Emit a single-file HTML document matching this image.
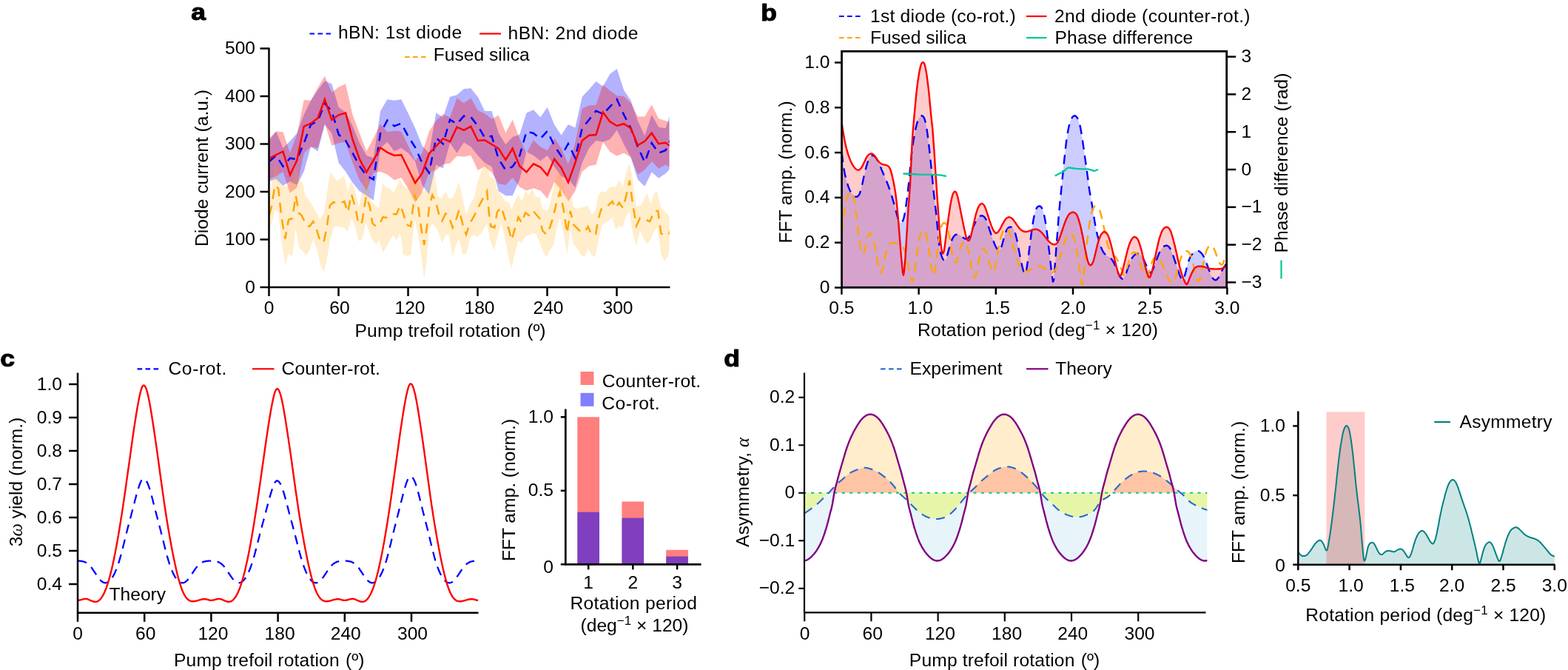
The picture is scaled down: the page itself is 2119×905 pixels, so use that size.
<!DOCTYPE html>
<html lang="en"><head><meta charset="utf-8"><title>Figure</title>
<style>html,body{margin:0;padding:0;background:#fff}svg{display:block}text{white-space:pre}</style></head>
<body>
<svg width="2119" height="905" viewBox="0 0 2119 905" font-family='"Liberation Sans", sans-serif' fill="#000">
<defs><clipPath id="ca"><rect x="363.5" y="40" width="541" height="348"/></clipPath><clipPath id="cb"><rect x="1137.5" y="69.3" width="520.2" height="319"/></clipPath><clipPath id="cc"><rect x="105" y="493.5" width="541.5" height="334.3"/></clipPath><clipPath id="cd"><rect x="1087.5" y="503.5" width="544" height="324.3"/></clipPath><clipPath id="cdp"><rect x="1087.5" y="503.5" width="544" height="162.3"/></clipPath><clipPath id="cdn"><rect x="1087.5" y="665.8" width="544" height="162"/></clipPath><clipPath id="ce"><rect x="1754.3" y="555.5" width="347.2" height="207.2"/></clipPath></defs>
<g id="panel-a">
<g clip-path="url(#ca)">
<polygon points="363.7,190 373.1,177.5 382.5,200 391.9,190.8 401.3,180 410.7,155 420.1,135.8 429.5,121.7 438.9,109.2 448.3,113.3 457.7,145 467.1,151.7 476.5,170 485.9,193.3 495.3,210 504.7,213.3 514.1,150 523.5,134.2 532.9,135.8 542.3,134.2 551.7,153.3 561.1,173.3 570.5,196.7 579.9,206.7 589.3,152.5 598.7,158.3 608.1,130.8 617.5,128.3 626.9,120 636.3,119.2 645.7,130.8 655.1,150 664.5,150 673.9,180 683.3,195 692.7,185 702.1,181.7 711.5,152.5 720.9,148.3 730.3,158.3 739.7,145 749.1,168.3 758.5,182.5 767.9,168 777.3,172.5 786.7,130.8 796.1,120.8 805.5,110 814.9,116.7 824.3,100 833.7,93 843.1,121.7 852.5,135.8 861.9,163.3 871.3,183.3 880.7,155 890.1,171.7 899.5,173.3 908.9,143.3 908.9,225 899.5,234.2 890.1,240.8 880.7,232.5 871.3,251.7 861.9,242.5 852.5,212.5 843.1,195 833.7,175.8 824.3,188.3 814.9,191.7 805.5,190 796.1,200 786.7,220 777.3,253.3 767.9,241.7 758.5,238.3 749.1,225 739.7,210 730.3,217.5 720.9,210 711.5,205 702.1,243.3 692.7,264.2 683.3,264.2 673.9,258.3 664.5,225 655.1,220 645.7,210 636.3,198.3 626.9,192.5 617.5,206.7 608.1,193.3 598.7,227.5 589.3,222.5 579.9,262.5 570.5,250 561.1,218.3 551.7,206.7 542.3,200 532.9,204.2 523.5,191.7 514.1,200 504.7,270.8 495.3,264.2 485.9,258.3 476.5,246.7 467.1,231.7 457.7,220 448.3,180 438.9,168.3 429.5,204.2 420.1,198.3 410.7,231.7 401.3,250 391.9,245 382.5,250.8 373.1,241.7 363.7,245" fill="#0000ff" fill-opacity="0.3" />
<polygon points="363.7,186.7 373.1,177.5 382.5,178.3 391.9,206.7 401.3,181.7 410.7,135 420.1,135.8 429.5,118.3 438.9,102.5 448.3,125 457.7,117.5 467.1,113.3 476.5,155 485.9,180 495.3,204.2 504.7,186.7 514.1,167.5 523.5,178.3 532.9,176.7 542.3,177.5 551.7,196.7 561.1,216.7 570.5,206.7 579.9,177.5 589.3,163.3 598.7,154.2 608.1,158.3 617.5,132.5 626.9,139.2 636.3,132.5 645.7,149.2 655.1,153.3 664.5,160.8 673.9,155.8 683.3,179.2 692.7,161.7 702.1,186.7 711.5,206.7 720.9,189.2 730.3,198.3 739.7,203.3 749.1,186.7 758.5,200 767.9,221.7 777.3,193.3 786.7,146.7 796.1,142.5 805.5,141.7 814.9,114.2 824.3,122.5 833.7,129.2 843.1,130 852.5,139.2 861.9,157.5 871.3,157.5 880.7,141.3 890.1,160 899.5,163.3 908.9,166.7 908.9,228.3 899.5,222.5 890.1,227.5 880.7,218.3 871.3,229.2 861.9,235.8 852.5,212.5 843.1,206.7 833.7,210.8 824.3,205 814.9,191.7 805.5,222.5 796.1,224.2 786.7,231.7 777.3,258.3 767.9,271.7 758.5,256.7 749.1,245.8 739.7,268.3 730.3,257.5 720.9,254.2 711.5,257.5 702.1,252.5 692.7,240 683.3,250 673.9,248.3 664.5,233.3 655.1,225 645.7,230 636.3,209.7 626.9,211.7 617.5,210.8 608.1,220.8 598.7,221.7 589.3,230 579.9,233.3 570.5,260 561.1,273.3 551.7,255 542.3,240 532.9,243.3 523.5,235.8 514.1,231.7 504.7,233.3 495.3,257.5 485.9,243.3 476.5,220 467.1,191.7 457.7,193.3 448.3,196.7 438.9,166.7 429.5,200 420.1,198.3 410.7,206.7 401.3,253.3 391.9,260.8 382.5,231.7 373.1,238.3 363.7,241.7" fill="#ff0000" fill-opacity="0.3" />
<polygon points="363.7,270 367.7,244.8 368.7,242.2 371.8,216.8 377.5,241.2 382.2,250.8 389.5,251.3 394.8,244.2 399.3,224.8 404.2,242.2 409.3,247.3 412.7,264.7 415,266.7 421.7,276.7 432.5,295.8 437.5,288.3 446.3,231.7 450.8,239.2 455.8,244.2 465,237.5 470,259.2 474.2,244.2 479.2,255 485,280 494.7,231.7 501.7,271.7 511.7,281.7 517.5,246.7 521.7,253.3 526.7,254.2 531.7,260 540.8,242.5 545,250 550,255 560.3,230 570,260 576.7,255 584.2,216.7 588.3,240 591.7,265 596.7,268.3 602.2,258.3 606.7,267.5 611.7,267.5 620.5,245.8 625,266.7 630,290.8 635.8,275 640.8,266.7 645,247.5 650.8,230 658,218.3 661.7,238.3 668.3,241.7 671.7,255 677.5,263.3 682.5,271.7 687.5,273.3 691.3,282.5 695.8,271.7 700.5,262.5 705,272.5 710,257.5 714.7,263.3 719.2,254.2 724.2,266.7 729.2,265.8 733.3,281.7 738.3,285 743.3,276.7 747.5,255 751.7,238.3 756.7,225 761.7,250 766.3,271.7 770.8,258.3 775,280 780,282 786.7,280 794.7,278 799.2,290 804.2,285.8 808.3,264.2 813.3,258.3 818.3,259.5 822.5,253.7 827.5,251.7 832,252.5 836.7,243 841.7,253.3 845.8,233.3 850.8,220 855,243.3 860,278.3 865,278.3 870,270 874.5,260.8 879.2,275 884.2,260.8 888.3,259.2 893.3,280.8 898.3,285 904.2,291.7 910,293.3 910,333.3 904.2,340 902.5,346.7 898,352.5 893.3,343.3 888.3,306.7 884.2,311.7 879.2,323.3 874.5,330.3 870,323.3 865,311.7 860,332.5 855,315 850.8,285 845.8,293.3 841.7,306.7 836.7,305 832,310 827.5,294.2 818.3,300.8 813.3,305 808.3,326.7 804.2,347.5 799.2,344.2 794.7,335.8 790,347.5 785,344.2 780.8,336.7 775,330 770.8,310 766.3,343.3 761.7,315 756.7,294.2 751.7,311.7 748.3,330 743.3,338.3 738.3,347.5 733.3,338.3 729.2,326.7 724.2,315.8 720,315 710,320 705,328 700.5,325.8 695.8,341.7 691.3,363.3 687.5,348.3 682.5,323.3 677.5,301.7 671.7,322.5 667.5,338.3 662.5,325 658,301.7 650.8,315 645,319.7 640,317.5 635,322.5 630,343.3 625,343.3 620.5,322.5 615.8,331.7 611.7,346.7 606.7,316.7 602.2,317.5 597.5,328.3 593.3,316.7 589.2,306.7 584.2,301.7 580,310 576.7,351.7 573.3,376.7 570,350 565,316.7 560.3,296.7 555,344.2 549.2,345.8 545,343.3 540.8,314.2 535.8,325 531.7,317.5 526.7,325 521.7,335 517.5,340.8 512.5,324.2 508.3,330 503.3,324.2 500,316.7 494.7,300.8 489.2,322.5 484.7,325.8 480,306.7 475,295 470,312.5 465,307.5 455.8,305.8 451.7,306.7 446.3,323.3 441.7,350.8 437.5,368 432.5,355.8 428.3,336.7 423.3,323.3 418.3,338.3 413.3,345 408.3,338.3 404.2,335 399.7,308.3 395,346.7 390,342.5 385.3,357.5 380,323.3 376.3,286.7 371.7,283.3 363.7,315" fill="#ffa500" fill-opacity="0.2" />
<polyline points="363.7,218.3 373.1,210 382.5,224.7 391.9,213.7 401.3,215.3 410.7,193.3 420.1,168.3 429.5,163.3 438.9,140 448.3,150 457.7,181.7 467.1,190 476.5,206.7 485.9,224.2 495.3,237.5 504.7,242.5 514.1,180 523.5,162.5 532.9,170.3 542.3,166.7 551.7,184.2 561.1,199.2 570.5,220 579.9,233.3 589.3,186.3 598.7,194.2 608.1,161.7 617.5,167.5 626.9,156.7 636.3,158 645.7,170 655.1,185.8 664.5,183.8 673.9,215 683.3,229.7 692.7,225 702.1,210.8 711.5,177.5 720.9,180 730.3,187.5 739.7,177 749.1,196.7 758.5,210.8 767.9,194.2 777.3,213.3 786.7,173.3 796.1,161.7 805.5,149.7 814.9,154.2 824.3,144.2 833.7,134.2 843.1,155 852.5,173.3 861.9,198.3 871.3,219.2 880.7,193.3 890.1,206.7 899.5,203 908.9,183.3" fill="none" stroke="#0000ff" stroke-width="2.5" stroke-linejoin="miter" stroke-dasharray="11.5 8.4" />
<polyline points="363.7,290.8 366.7,280 371.7,250 376.3,255 380,290.8 385.3,322.5 390,296.7 395,295 399.7,264.2 404.2,288.3 407.5,290.8 411.7,299.2 415,305 418.3,305.8 423.3,299.2 428.3,311.7 432.5,325 437.5,327.5 441.7,306.7 445.8,277.5 450.8,273 455.8,275 460,274.5 465.3,272 470,286.7 475,262.5 480,279.2 484.7,303.3 489.2,300 494.7,265 500,280 503.3,301.7 508.3,305.8 513.3,301.7 517.5,293.3 521.7,294.2 526.7,290 531.7,289.2 535.8,289.2 540.8,277.5 545,288.3 549.2,303.3 555,305.8 560.3,262.5 565,278.3 570,313.3 573.3,330.8 576.7,308.3 580,280 584.2,263.3 589.2,273.3 593.3,290 597.5,298.3 602.2,288.3 606.7,292.5 611.7,307.5 615.8,298.3 620.5,283.3 625.8,305 630,316.7 635,301.7 640.8,291.7 645,282.5 650.8,271.7 658,258.3 661.7,296.7 663.3,305.8 668.3,307.5 671.7,286.7 677.5,279.7 682.5,295.8 687.5,309.2 691.3,324.2 695.8,309.2 700.5,293.3 705,300.8 710,287.5 714.7,290.8 720,284.2 724.2,289.2 729.2,295 733.3,311.7 738.3,316.7 743.3,306.7 747.5,293.3 751.7,275 756.7,259.2 761.7,283.3 766.3,315 770.8,285 775,303.3 778.3,306.7 784.2,312.5 790,313.3 794.7,306.3 799.2,316.7 805,316.3 808.3,296.7 812.5,282.5 818.3,280.8 827.5,272 832,281.2 836.7,273.7 841.7,280.8 845.8,266.7 850.8,243.7 855,275 860,305 865,294.2 870,295.8 878.3,299.2 884.2,285 889.2,285 893.3,315 898.3,318.7 904.2,315.5 910,300" fill="none" stroke="#ffa500" stroke-width="2.5" stroke-linejoin="miter" stroke-dasharray="13.5 9" />
<polyline points="363.7,214.2 373.1,209.2 382.5,204.7 391.9,236.3 401.3,216.7 410.7,170.8 420.1,166.7 429.5,159.5 438.9,134.2 448.3,162 457.7,155.3 467.1,152.5 476.5,188.3 485.9,215 495.3,232.5 504.7,216.7 514.1,199.5 523.5,205.8 532.9,210 542.3,209.2 551.7,228.3 561.1,247 570.5,234.2 579.9,207.5 589.3,197.5 598.7,187.2 608.1,191.3 617.5,171.7 626.9,175.8 636.3,170.8 645.7,190 655.1,189.2 664.5,195 673.9,200.8 683.3,215.8 692.7,200.5 702.1,224.2 711.5,232.5 720.9,221.3 730.3,225.8 739.7,236.7 749.1,214.7 758.5,226.7 767.9,246.3 777.3,220 786.7,190 796.1,182.8 805.5,182 814.9,151.7 824.3,164.2 833.7,170 843.1,167.2 852.5,173.3 861.9,196.3 871.3,190.8 880.7,179.7 890.1,194.2 899.5,192.8 908.9,200" fill="none" stroke="#ff0000" stroke-width="2.5" stroke-linejoin="miter" />
</g>
<line x1="363.5" y1="64.5" x2="363.5" y2="389" stroke="#000" stroke-width="2.5" />
<line x1="362.5" y1="388" x2="905.5" y2="388" stroke="#000" stroke-width="2.5" />
<line x1="351.5" y1="388" x2="363.5" y2="388" stroke="#000" stroke-width="2.5" />
<text x="345" y="395.5" font-size="24.6" text-anchor="end" >0</text>
<line x1="351.5" y1="323.5" x2="363.5" y2="323.5" stroke="#000" stroke-width="2.5" />
<text x="345" y="331" font-size="24.6" text-anchor="end" >100</text>
<line x1="351.5" y1="259" x2="363.5" y2="259" stroke="#000" stroke-width="2.5" />
<text x="345" y="266.5" font-size="24.6" text-anchor="end" >200</text>
<line x1="351.5" y1="194.5" x2="363.5" y2="194.5" stroke="#000" stroke-width="2.5" />
<text x="345" y="202" font-size="24.6" text-anchor="end" >300</text>
<line x1="351.5" y1="130" x2="363.5" y2="130" stroke="#000" stroke-width="2.5" />
<text x="345" y="137.5" font-size="24.6" text-anchor="end" >400</text>
<line x1="351.5" y1="65.5" x2="363.5" y2="65.5" stroke="#000" stroke-width="2.5" />
<text x="345" y="73" font-size="24.6" text-anchor="end" >500</text>
<line x1="363.5" y1="388" x2="363.5" y2="400" stroke="#000" stroke-width="2.5" />
<text x="363.5" y="424.4" font-size="24.6" text-anchor="middle" >0</text>
<line x1="457.5" y1="388" x2="457.5" y2="400" stroke="#000" stroke-width="2.5" />
<text x="459" y="424.4" font-size="24.6" text-anchor="middle" >60</text>
<line x1="551.5" y1="388" x2="551.5" y2="400" stroke="#000" stroke-width="2.5" />
<text x="554" y="424.4" font-size="24.6" text-anchor="middle" >120</text>
<line x1="645.5" y1="388" x2="645.5" y2="400" stroke="#000" stroke-width="2.5" />
<text x="648" y="424.4" font-size="24.6" text-anchor="middle" >180</text>
<line x1="739.5" y1="388" x2="739.5" y2="400" stroke="#000" stroke-width="2.5" />
<text x="741" y="424.4" font-size="24.6" text-anchor="middle" >240</text>
<line x1="833.5" y1="388" x2="833.5" y2="400" stroke="#000" stroke-width="2.5" />
<text x="835" y="424.4" font-size="24.6" text-anchor="middle" >300</text>
<text x="479.5" y="455.1" font-size="24.6" letter-spacing="0.195" >Pump trefoil rotation</text>
<text x="712.2" y="455.1" font-size="24.6" >(º)</text>
<text x="281" y="227" font-size="24.6" text-anchor="middle" transform="rotate(-90 281 227)" >Diode current (a.u.)</text>
<text transform="translate(258.3 27.2) scale(1.09 0.97)" font-size="32.5" font-weight="bold" stroke="#000" stroke-width="1.1" stroke-linejoin="round">a</text>
<line x1="418.5" y1="45.5" x2="447" y2="45.5" stroke="#0000ff" stroke-width="2.2" stroke-dasharray="6.6 4.4"/>
<text x="456.9" y="52.4" font-size="24.6" letter-spacing="0.459" >hBN: 1st diode</text>
<line x1="648" y1="45.5" x2="677" y2="45.5" stroke="#ff0000" stroke-width="2.2" />
<text x="686.5" y="52.6" font-size="24.6" letter-spacing="0.495" >hBN: 2nd diode</text>
<line x1="547" y1="77" x2="575.5" y2="77" stroke="#ffa500" stroke-width="2.2" stroke-dasharray="6.6 4.4"/>
<text x="585.8" y="81.8" font-size="24.6" >Fused silica</text>
</g>
<g id="panel-b">
<g clip-path="url(#cb)">
<polygon points="1137.7,388.3 1137.7,206.7 1138.5,213.8 1139.3,220.3 1140.2,226 1141,230.9 1141.8,235.2 1142.7,239 1143.5,242.3 1144.3,245.3 1145.2,248.1 1146,250.7 1146.8,253 1147.7,255.1 1148.5,257 1149.3,258.6 1150.1,260.1 1151,261.5 1151.8,262.6 1152.6,263.6 1153.5,264.3 1154.3,264.8 1155.1,265.3 1156,265.6 1156.8,265.8 1157.6,265.8 1158.5,265.6 1159.3,265 1160.1,264.2 1161,263.1 1161.8,261.4 1162.6,258.9 1163.5,256 1164.3,252.9 1165.1,249.3 1166,245.5 1166.8,241.6 1167.6,237.8 1168.5,234.3 1169.3,230.8 1170.1,227.6 1170.9,224.6 1171.8,221.7 1172.6,219 1173.4,216.7 1174.3,214.8 1175.1,213.3 1175.9,212 1176.8,210.9 1177.6,210.3 1178.4,210 1179.3,210 1180.1,210.2 1180.9,210.6 1181.8,211.1 1182.6,211.7 1183.4,212.7 1184.3,213.8 1185.1,215.2 1185.9,216.8 1186.8,218.5 1187.6,220.2 1188.4,222 1189.3,223.9 1190.1,225.8 1190.9,227.9 1191.7,229.9 1192.6,231.9 1193.4,233.8 1194.2,235.7 1195.1,237.6 1195.9,239.5 1196.7,241.5 1197.6,243.5 1198.4,245.6 1199.2,247.7 1200.1,249.9 1200.9,252.1 1201.7,254.4 1202.6,256.9 1203.4,259.4 1204.2,262 1205.1,264.6 1205.9,267.4 1206.7,270.2 1207.6,273.1 1208.4,276 1209.2,279.1 1210.1,282.1 1210.9,285.2 1211.7,288.4 1212.5,291.7 1213.4,294.6 1214.2,296.8 1215,298.3 1215.9,299.6 1216.7,300.4 1217.5,300.9 1218.4,300.8 1219.2,300 1220,298.4 1220.9,296.1 1221.7,293.2 1222.5,289.4 1223.4,284.6 1224.2,279 1225,273.1 1225.9,266.9 1226.7,260 1227.5,252.7 1228.4,244.8 1229.2,236.1 1230,226.9 1230.9,217.9 1231.7,209.9 1232.5,203 1233.3,197 1234.2,191.6 1235,186.6 1235.8,181.9 1236.7,177.5 1237.5,173.5 1238.3,170 1239.2,166.9 1240,164.1 1240.8,161.8 1241.7,160 1242.5,158.7 1243.3,157.6 1244.2,156.8 1245,156.4 1245.8,156.3 1246.7,156.6 1247.5,157.3 1248.3,158.4 1249.2,160 1250,162.4 1250.8,165.9 1251.7,170.1 1252.5,174.9 1253.3,180.3 1254.1,186.4 1255,193.2 1255.8,200.5 1256.6,208.3 1257.5,216.4 1258.3,224.6 1259.1,232.9 1260,241.4 1260.8,249.9 1261.6,258.4 1262.5,266.4 1263.3,273.5 1264.1,280.1 1265,286.9 1265.8,294.6 1266.6,304 1267.5,314.1 1268.3,322.9 1269.1,329.8 1270,335.4 1270.8,339.8 1271.6,343.2 1272.5,345.8 1273.3,348 1274.1,349.6 1274.9,350.8 1275.8,351.5 1276.6,351.8 1277.4,351.7 1278.3,350.5 1279.1,348 1279.9,345.2 1280.8,342.4 1281.6,339.4 1282.4,336.4 1283.3,333.6 1284.1,330.8 1284.9,328.2 1285.8,325.7 1286.6,323.6 1287.4,321.8 1288.3,320.4 1289.1,319.2 1289.9,318.2 1290.8,317.5 1291.6,317 1292.4,316.8 1293.3,316.6 1294.1,316.6 1294.9,316.7 1295.7,316.9 1296.6,317.3 1297.4,318 1298.2,318.6 1299.1,319.3 1299.9,319.9 1300.7,320.5 1301.6,321 1302.4,321.5 1303.2,321.9 1304.1,322.3 1304.9,322.5 1305.7,322.6 1306.6,322.5 1307.4,322.2 1308.2,321.7 1309.1,320.8 1309.9,319.2 1310.7,317.3 1311.6,315.3 1312.4,313.3 1313.2,311.4 1314.1,309.4 1314.9,307.4 1315.7,305.4 1316.5,303.6 1317.4,301.8 1318.2,300 1319,298.3 1319.9,296.8 1320.7,295.4 1321.5,294.3 1322.4,293.5 1323.2,292.8 1324,292.2 1324.9,291.7 1325.7,291.5 1326.5,291.3 1327.4,291.4 1328.2,291.7 1329,292.2 1329.9,292.8 1330.7,293.7 1331.5,294.8 1332.4,296.2 1333.2,298.1 1334,300.3 1334.9,302.8 1335.7,305.3 1336.5,307.9 1337.3,310.4 1338.2,312.9 1339,315.5 1339.8,318.1 1340.7,320.5 1341.5,322.9 1342.3,325.1 1343.2,327.4 1344,329.5 1344.8,331.4 1345.7,333.2 1346.5,334.7 1347.3,336 1348.2,337.1 1349,338 1349.8,338.3 1350.7,338.1 1351.5,337.1 1352.3,335.6 1353.2,333.8 1354,331.5 1354.8,328.6 1355.7,325.4 1356.5,322.3 1357.3,319.5 1358.1,316.7 1359,314.2 1359.8,312 1360.6,310.3 1361.5,309.1 1362.3,308.1 1363.1,307.4 1364,306.9 1364.8,306.7 1365.6,306.7 1366.5,306.8 1367.3,307.2 1368.1,307.8 1369,308.6 1369.8,309.7 1370.6,311.2 1371.5,313.3 1372.3,316.1 1373.1,319.2 1374,322.7 1374.8,326.7 1375.6,331.1 1376.5,335.5 1377.3,339.8 1378.1,344.1 1378.9,348.3 1379.8,352.3 1380.6,356.1 1381.4,359.8 1382.3,363.2 1383.1,366 1383.9,368.2 1384.8,369.7 1385.6,369.9 1386.4,367.7 1387.3,363.4 1388.1,358.2 1388.9,352.7 1389.8,346.6 1390.6,340.1 1391.4,333.5 1392.3,327.1 1393.1,320.6 1393.9,314.2 1394.8,308.3 1395.6,302.9 1396.4,297.7 1397.3,293.1 1398.1,289.3 1398.9,286.3 1399.7,283.7 1400.6,281.7 1401.4,280.3 1402.2,279.4 1403.1,278.8 1403.9,278.5 1404.7,278.3 1405.6,278.5 1406.4,279 1407.2,279.9 1408.1,281.2 1408.9,282.9 1409.7,285.3 1410.6,288.4 1411.4,292.1 1412.2,296.2 1413.1,301.2 1413.9,306.8 1414.7,312.9 1415.6,319.4 1416.4,326.3 1417.2,333.6 1418.1,340.9 1418.9,348.1 1419.7,355.4 1420.5,362.6 1421.4,369.5 1422.2,375.9 1423,380.5 1423.9,379 1424.7,371.1 1425.5,360.5 1426.4,349.7 1427.2,338.5 1428,327.3 1428.9,316.4 1429.7,305.6 1430.5,295.1 1431.4,285.1 1432.2,276 1433,267.5 1433.9,259.4 1434.7,251.4 1435.5,243.1 1436.4,234.7 1437.2,226.4 1438,218.3 1438.9,210.2 1439.7,202.7 1440.5,195.8 1441.3,189.4 1442.2,183.6 1443,178.4 1443.8,174.1 1444.7,170.2 1445.5,166.9 1446.3,164.2 1447.2,162.1 1448,160.3 1448.8,158.9 1449.7,157.8 1450.5,157.1 1451.3,156.6 1452.2,156.3 1453,156.4 1453.8,156.9 1454.7,157.6 1455.5,158.7 1456.3,160 1457.2,161.8 1458,164.2 1458.8,167 1459.7,170.4 1460.5,174.5 1461.3,179.3 1462.1,184.4 1463,189.8 1463.8,195.5 1464.6,201.5 1465.5,207.5 1466.3,213.3 1467.1,219 1468,224.8 1468.8,230.7 1469.6,236.9 1470.5,243.3 1471.3,249.8 1472.1,255.9 1473,261.2 1473.8,266 1474.6,270.5 1475.5,274.9 1476.3,279.4 1477.1,284.5 1478,290.1 1478.8,295.8 1479.6,301.1 1480.5,305.8 1481.3,309.9 1482.1,313.6 1482.9,317.1 1483.8,320.2 1484.6,323.3 1485.4,326.2 1486.3,329.1 1487.1,331.7 1487.9,334 1488.8,336 1489.6,337.8 1490.4,339.4 1491.3,340.8 1492.1,341.9 1492.9,342.9 1493.8,343.7 1494.6,344.4 1495.4,344.9 1496.3,345.4 1497.1,345.9 1497.9,346.4 1498.8,347 1499.6,347.6 1500.4,348.3 1501.3,349.2 1502.1,350.1 1502.9,351.1 1503.7,352.3 1504.6,353.7 1505.4,355.3 1506.2,357 1507.1,358.8 1507.9,360.7 1508.7,362.6 1509.6,364.7 1510.4,366.8 1511.2,368.9 1512.1,370.9 1512.9,372.6 1513.7,374 1514.6,375.1 1515.4,376 1516.2,376.6 1517.1,376.6 1517.9,376.1 1518.7,375.2 1519.6,374.1 1520.4,372.6 1521.2,370.8 1522.1,368.6 1522.9,366.2 1523.7,363.7 1524.5,361.2 1525.4,359 1526.2,356.8 1527,354.6 1527.9,352.6 1528.7,350.7 1529.5,349.1 1530.4,347.8 1531.2,346.6 1532,345.7 1532.9,344.8 1533.7,344.1 1534.5,343.6 1535.4,343.2 1536.2,342.8 1537,342.6 1537.9,342.5 1538.7,342.6 1539.5,342.9 1540.4,343.4 1541.2,344.1 1542,345 1542.9,346 1543.7,347.1 1544.5,348.5 1545.3,350 1546.2,351.7 1547,353.6 1547.8,355.5 1548.7,357.5 1549.5,359.7 1550.3,362 1551.2,364.1 1552,365.9 1552.8,367.1 1553.7,367.9 1554.5,368.3 1555.3,368.2 1556.2,367.4 1557,366 1557.8,364.4 1558.7,362.6 1559.5,360.6 1560.3,358.4 1561.2,356.1 1562,353.7 1562.8,351.4 1563.7,349.2 1564.5,347 1565.3,344.9 1566.1,342.8 1567,340.9 1567.8,339.3 1568.6,337.8 1569.5,336.5 1570.3,335.4 1571.1,334.3 1572,333.5 1572.8,332.8 1573.6,332.4 1574.5,332 1575.3,331.8 1576.1,331.7 1577,331.7 1577.8,332 1578.6,332.6 1579.5,333.3 1580.3,334.3 1581.1,335.4 1582,336.9 1582.8,338.7 1583.6,340.7 1584.5,342.9 1585.3,345.1 1586.1,347.4 1586.9,349.8 1587.8,352.3 1588.6,354.9 1589.4,357.5 1590.3,360 1591.1,362.5 1591.9,365 1592.8,367.4 1593.6,369.8 1594.4,372 1595.3,373.9 1596.1,375.8 1596.9,377.3 1597.8,378.2 1598.6,378.2 1599.4,377 1600.3,374.8 1601.1,372 1601.9,369.1 1602.8,365.7 1603.6,362.2 1604.4,358.7 1605.3,355.9 1606.1,353.4 1606.9,351.1 1607.7,349.2 1608.6,347.4 1609.4,345.9 1610.2,344.6 1611.1,343.5 1611.9,342.4 1612.7,341.5 1613.6,340.7 1614.4,340 1615.2,339.5 1616.1,339.2 1616.9,338.9 1617.7,338.7 1618.6,338.7 1619.4,338.9 1620.2,339.2 1621.1,339.7 1621.9,340.3 1622.7,341.1 1623.6,341.9 1624.4,342.9 1625.2,344.1 1626.1,345.5 1626.9,347 1627.7,348.7 1628.5,350.5 1629.4,352.5 1630.2,354.7 1631,357 1631.9,359.3 1632.7,361.6 1633.5,363.9 1634.4,366.1 1635.2,368.3 1636,370.4 1636.9,372.4 1637.7,374 1638.5,375.3 1639.4,376.3 1640.2,377.2 1641,377.9 1641.9,378.2 1642.7,378.3 1643.5,378.1 1644.4,377.6 1645.2,376.8 1646,375.8 1646.9,374.7 1647.7,373.4 1648.5,371.7 1649.3,369.9 1650.2,368.1 1651,366.3 1651.8,364.7 1652.7,363.2 1653.5,361.8 1654.3,360.5 1655.2,359.3 1656,358.1 1656.8,356.9 1657.7,355.8 1657.7,388.3" fill="#0000ff" fill-opacity="0.2" />
<polygon points="1137.7,388.3 1137.7,166.7 1138.5,172.3 1139.3,177.6 1140.2,182.6 1141,187.2 1141.8,191.5 1142.7,195.4 1143.5,199 1144.3,202.2 1145.2,205.2 1146,208 1146.8,210.4 1147.7,212.7 1148.5,214.9 1149.3,216.9 1150.1,218.7 1151,220.4 1151.8,221.9 1152.6,223.3 1153.5,224.6 1154.3,225.8 1155.1,226.9 1156,227.8 1156.8,228.4 1157.6,229 1158.5,229.4 1159.3,229.6 1160.1,229.7 1161,229.4 1161.8,228.9 1162.6,228.2 1163.5,227.4 1164.3,226.2 1165.1,224.8 1166,223.2 1166.8,221.5 1167.6,219.8 1168.5,218 1169.3,216.2 1170.1,214.4 1170.9,212.8 1171.8,211.5 1172.6,210.4 1173.4,209.5 1174.3,208.8 1175.1,208.3 1175.9,207.9 1176.8,207.6 1177.6,207.5 1178.4,207.7 1179.3,208 1180.1,208.6 1180.9,209.3 1181.8,210.2 1182.6,211.3 1183.4,212.6 1184.3,213.9 1185.1,215.1 1185.9,216.3 1186.8,217.4 1187.6,218.4 1188.4,219.3 1189.3,220.1 1190.1,220.7 1190.9,221.3 1191.7,221.7 1192.6,222 1193.4,222.2 1194.2,222.4 1195.1,222.5 1195.9,222.7 1196.7,222.9 1197.6,223.1 1198.4,223.3 1199.2,223.7 1200.1,224.2 1200.9,224.9 1201.7,226 1202.6,227.5 1203.4,229.3 1204.2,231.9 1205.1,235.1 1205.9,238.6 1206.7,242.2 1207.6,246.1 1208.4,250.3 1209.2,255 1210.1,260.3 1210.9,266.6 1211.7,273.7 1212.5,281.7 1213.4,290.5 1214.2,300.3 1215,310.9 1215.9,321.7 1216.7,332.2 1217.5,342.2 1218.4,351.8 1219.2,360.3 1220,368.1 1220.9,371.7 1221.7,367.8 1222.5,359.7 1223.4,349.2 1224.2,336.5 1225,322.9 1225.9,308.7 1226.7,294.3 1227.5,281.3 1228.4,270.7 1229.2,260.5 1230,248 1230.9,230.6 1231.7,211.5 1232.5,195.7 1233.3,182.6 1234.2,171.5 1235,162.1 1235.8,153.2 1236.7,144.1 1237.5,135 1238.3,126.6 1239.2,119.2 1240,112.6 1240.8,106.7 1241.7,101.3 1242.5,96.5 1243.3,92.5 1244.2,89.1 1245,86.5 1245.8,85.1 1246.7,84.3 1247.5,84.2 1248.3,84.8 1249.2,86.1 1250,88.8 1250.8,92.4 1251.7,96.9 1252.5,102.3 1253.3,108.2 1254.1,114.7 1255,121.9 1255.8,129.8 1256.6,138.6 1257.5,147.8 1258.3,156.4 1259.1,163.7 1260,171.4 1260.8,181.1 1261.6,192.4 1262.5,204.5 1263.3,217.1 1264.1,230 1265,242.8 1265.8,255.2 1266.6,267.5 1267.5,279.4 1268.3,291.2 1269.1,302.8 1270,313.5 1270.8,322.9 1271.6,330.8 1272.5,337.2 1273.3,341 1274.1,342.5 1274.9,341.5 1275.8,338.6 1276.6,333.8 1277.4,327.3 1278.3,320.5 1279.1,314 1279.9,307.7 1280.8,301.5 1281.6,295.5 1282.4,289.6 1283.3,283.8 1284.1,278.4 1284.9,273.7 1285.8,269.6 1286.6,266 1287.4,263.1 1288.3,261 1289.1,259.6 1289.9,258.8 1290.8,258.7 1291.6,259.4 1292.4,260.7 1293.3,262.7 1294.1,265.6 1294.9,269.2 1295.7,272.9 1296.6,276.8 1297.4,281 1298.2,285.3 1299.1,289.5 1299.9,293.7 1300.7,297.8 1301.6,301.9 1302.4,305.8 1303.2,309.6 1304.1,313.2 1304.9,316.7 1305.7,319.8 1306.6,322.3 1307.4,324 1308.2,325.1 1309.1,325.2 1309.9,324.3 1310.7,322.7 1311.6,320.5 1312.4,317.5 1313.2,314.1 1314.1,310.5 1314.9,306.9 1315.7,303 1316.5,299.2 1317.4,295.5 1318.2,292.1 1319,289 1319.9,286.1 1320.7,283.5 1321.5,281.2 1322.4,279.4 1323.2,278 1324,276.8 1324.9,275.9 1325.7,275.3 1326.5,275 1327.4,275.1 1328.2,275.5 1329,276.3 1329.9,277.3 1330.7,278.7 1331.5,280.6 1332.4,282.9 1333.2,285.4 1334,287.9 1334.9,290.4 1335.7,293 1336.5,295.6 1337.3,298.1 1338.2,300.6 1339,302.9 1339.8,305.1 1340.7,307.2 1341.5,309.1 1342.3,310.9 1343.2,312.3 1344,313.4 1344.8,314.3 1345.7,314.9 1346.5,315 1347.3,314.6 1348.2,313.9 1349,313 1349.8,311.9 1350.7,310.7 1351.5,309.3 1352.3,307.7 1353.2,306 1354,304.4 1354.8,302.8 1355.7,301.3 1356.5,299.9 1357.3,298.5 1358.1,297.2 1359,296 1359.8,295.2 1360.6,294.5 1361.5,294 1362.3,293.6 1363.1,293.4 1364,293.3 1364.8,293.5 1365.6,293.8 1366.5,294.3 1367.3,294.9 1368.1,295.5 1369,296.4 1369.8,297.4 1370.6,298.6 1371.5,299.8 1372.3,301 1373.1,302.2 1374,303.4 1374.8,304.6 1375.6,305.8 1376.5,307 1377.3,308 1378.1,308.9 1378.9,309.7 1379.8,310.5 1380.6,311.1 1381.4,311.6 1382.3,312.1 1383.1,312.4 1383.9,312.7 1384.8,312.8 1385.6,313 1386.4,313 1387.3,313 1388.1,312.8 1388.9,312.6 1389.8,312.3 1390.6,312 1391.4,311.7 1392.3,311.5 1393.1,311.1 1393.9,310.8 1394.8,310.5 1395.6,310.3 1396.4,310.1 1397.3,309.9 1398.1,309.8 1398.9,309.7 1399.7,309.7 1400.6,309.7 1401.4,309.9 1402.2,310.2 1403.1,310.6 1403.9,311 1404.7,311.5 1405.6,312.1 1406.4,312.8 1407.2,313.5 1408.1,314.4 1408.9,315.4 1409.7,316.3 1410.6,317.4 1411.4,318.5 1412.2,319.6 1413.1,320.8 1413.9,321.9 1414.7,323 1415.6,324 1416.4,325 1417.2,325.9 1418.1,326.7 1418.9,327.5 1419.7,328.1 1420.5,328.7 1421.4,329.2 1422.2,329.6 1423,330 1423.9,330.2 1424.7,330.3 1425.5,330.3 1426.4,330 1427.2,329.5 1428,328.8 1428.9,327.9 1429.7,326.7 1430.5,325 1431.4,323 1432.2,320.7 1433,318.3 1433.9,315.9 1434.7,313.5 1435.5,311 1436.4,308.5 1437.2,306 1438,303.6 1438.9,301.2 1439.7,299.1 1440.5,297.1 1441.3,295.3 1442.2,293.5 1443,292 1443.8,290.6 1444.7,289.5 1445.5,288.7 1446.3,288 1447.2,287.5 1448,287.1 1448.8,286.8 1449.7,286.7 1450.5,286.7 1451.3,286.9 1452.2,287.3 1453,287.8 1453.8,288.6 1454.7,289.5 1455.5,290.8 1456.3,292.6 1457.2,294.9 1458,297.6 1458.8,300.4 1459.7,303.5 1460.5,306.8 1461.3,310.4 1462.1,314.3 1463,318.3 1463.8,322.4 1464.6,326.8 1465.5,331.2 1466.3,335.7 1467.1,339.9 1468,343.9 1468.8,347.8 1469.6,351.3 1470.5,354.1 1471.3,355.9 1472.1,357.3 1473,358.1 1473.8,358.3 1474.6,358 1475.5,357.1 1476.3,355.7 1477.1,353.9 1478,351.3 1478.8,348.2 1479.6,344.9 1480.5,341.5 1481.3,338 1482.1,334.5 1482.9,331.1 1483.8,328 1484.6,325.3 1485.4,322.9 1486.3,320.7 1487.1,318.8 1487.9,317.3 1488.8,316 1489.6,315 1490.4,314.1 1491.3,313.4 1492.1,313.1 1492.9,313 1493.8,313.4 1494.6,314 1495.4,314.9 1496.3,316 1497.1,317.4 1497.9,319.3 1498.8,321.6 1499.6,324.1 1500.4,326.9 1501.3,329.8 1502.1,333 1502.9,336.3 1503.7,339.8 1504.6,343.3 1505.4,346.7 1506.2,350.1 1507.1,353.5 1507.9,356.9 1508.7,360.1 1509.6,363.1 1510.4,366.2 1511.2,368.9 1512.1,371 1512.9,372.1 1513.7,372.5 1514.6,372.2 1515.4,370.5 1516.2,368.1 1517.1,365.4 1517.9,362.2 1518.7,358.8 1519.6,355.2 1520.4,351.7 1521.2,348.2 1522.1,344.8 1522.9,341.4 1523.7,338.3 1524.5,335.4 1525.4,332.6 1526.2,330.1 1527,327.8 1527.9,325.9 1528.7,324.4 1529.5,323.1 1530.4,322 1531.2,321.1 1532,320.4 1532.9,320.1 1533.7,320 1534.5,320.3 1535.4,320.8 1536.2,321.6 1537,322.6 1537.9,323.9 1538.7,325.7 1539.5,328 1540.4,330.6 1541.2,333.4 1542,336.2 1542.9,339.4 1543.7,342.7 1544.5,346.2 1545.3,349.6 1546.2,353.1 1547,356.7 1547.8,360.2 1548.7,363.7 1549.5,366.7 1550.3,369.4 1551.2,371.8 1552,373.7 1552.8,374.8 1553.7,374.8 1554.5,373.6 1555.3,371.5 1556.2,369 1557,366 1557.8,362.6 1558.7,358.9 1559.5,355.2 1560.3,351.2 1561.2,347.1 1562,343 1562.8,339 1563.7,335.2 1564.5,331.6 1565.3,328 1566.1,324.7 1567,321.7 1567.8,319 1568.6,316.6 1569.5,314.3 1570.3,312.4 1571.1,310.8 1572,309.6 1572.8,308.6 1573.6,307.9 1574.5,307.3 1575.3,306.9 1576.1,306.7 1577,306.7 1577.8,307 1578.6,307.5 1579.5,308.3 1580.3,309.2 1581.1,310.5 1582,312.2 1582.8,314.4 1583.6,317 1584.5,319.8 1585.3,322.7 1586.1,325.7 1586.9,329 1587.8,332.4 1588.6,336 1589.4,339.5 1590.3,343.2 1591.1,347 1591.9,350.7 1592.8,354.3 1593.6,357.8 1594.4,361.1 1595.3,364.2 1596.1,367.2 1596.9,369.9 1597.8,372.4 1598.6,374.7 1599.4,376.9 1600.3,378.8 1601.1,380.6 1601.9,382.1 1602.8,383.5 1603.6,384.2 1604.4,383.6 1605.3,382 1606.1,379.8 1606.9,377.7 1607.7,375.6 1608.6,373.5 1609.4,371.5 1610.2,369.6 1611.1,367.9 1611.9,366.2 1612.7,364.7 1613.6,363.4 1614.4,362.3 1615.2,361.5 1616.1,360.9 1616.9,360.4 1617.7,360.1 1618.6,359.8 1619.4,359.7 1620.2,359.7 1621.1,359.7 1621.9,359.7 1622.7,359.7 1623.6,359.8 1624.4,359.9 1625.2,360.1 1626.1,360.2 1626.9,360.4 1627.7,360.6 1628.5,360.9 1629.4,361.2 1630.2,361.5 1631,361.8 1631.9,362.1 1632.7,362.3 1633.5,362.5 1634.4,362.7 1635.2,362.9 1636,363 1636.9,363.1 1637.7,363.2 1638.5,363.3 1639.4,363.3 1640.2,363.3 1641,363.4 1641.9,363.4 1642.7,363.4 1643.5,363.4 1644.4,363.4 1645.2,363.4 1646,363.3 1646.9,363.3 1647.7,363.3 1648.5,363.2 1649.3,363.1 1650.2,362.9 1651,362.7 1651.8,362.4 1652.7,362.1 1653.5,361.7 1654.3,361.2 1655.2,360.6 1656,360 1656.8,359.3 1657.7,358.7 1657.7,388.3" fill="#ff0000" fill-opacity="0.2" />
<polyline points="1137.7,206.7 1138.5,213.8 1139.3,220.3 1140.2,226 1141,230.9 1141.8,235.2 1142.7,239 1143.5,242.3 1144.3,245.3 1145.2,248.1 1146,250.7 1146.8,253 1147.7,255.1 1148.5,257 1149.3,258.6 1150.1,260.1 1151,261.5 1151.8,262.6 1152.6,263.6 1153.5,264.3 1154.3,264.8 1155.1,265.3 1156,265.6 1156.8,265.8 1157.6,265.8 1158.5,265.6 1159.3,265 1160.1,264.2 1161,263.1 1161.8,261.4 1162.6,258.9 1163.5,256 1164.3,252.9 1165.1,249.3 1166,245.5 1166.8,241.6 1167.6,237.8 1168.5,234.3 1169.3,230.8 1170.1,227.6 1170.9,224.6 1171.8,221.7 1172.6,219 1173.4,216.7 1174.3,214.8 1175.1,213.3 1175.9,212 1176.8,210.9 1177.6,210.3 1178.4,210 1179.3,210 1180.1,210.2 1180.9,210.6 1181.8,211.1 1182.6,211.7 1183.4,212.7 1184.3,213.8 1185.1,215.2 1185.9,216.8 1186.8,218.5 1187.6,220.2 1188.4,222 1189.3,223.9 1190.1,225.8 1190.9,227.9 1191.7,229.9 1192.6,231.9 1193.4,233.8 1194.2,235.7 1195.1,237.6 1195.9,239.5 1196.7,241.5 1197.6,243.5 1198.4,245.6 1199.2,247.7 1200.1,249.9 1200.9,252.1 1201.7,254.4 1202.6,256.9 1203.4,259.4 1204.2,262 1205.1,264.6 1205.9,267.4 1206.7,270.2 1207.6,273.1 1208.4,276 1209.2,279.1 1210.1,282.1 1210.9,285.2 1211.7,288.4 1212.5,291.7 1213.4,294.6 1214.2,296.8 1215,298.3 1215.9,299.6 1216.7,300.4 1217.5,300.9 1218.4,300.8 1219.2,300 1220,298.4 1220.9,296.1 1221.7,293.2 1222.5,289.4 1223.4,284.6 1224.2,279 1225,273.1 1225.9,266.9 1226.7,260 1227.5,252.7 1228.4,244.8 1229.2,236.1 1230,226.9 1230.9,217.9 1231.7,209.9 1232.5,203 1233.3,197 1234.2,191.6 1235,186.6 1235.8,181.9 1236.7,177.5 1237.5,173.5 1238.3,170 1239.2,166.9 1240,164.1 1240.8,161.8 1241.7,160 1242.5,158.7 1243.3,157.6 1244.2,156.8 1245,156.4 1245.8,156.3 1246.7,156.6 1247.5,157.3 1248.3,158.4 1249.2,160 1250,162.4 1250.8,165.9 1251.7,170.1 1252.5,174.9 1253.3,180.3 1254.1,186.4 1255,193.2 1255.8,200.5 1256.6,208.3 1257.5,216.4 1258.3,224.6 1259.1,232.9 1260,241.4 1260.8,249.9 1261.6,258.4 1262.5,266.4 1263.3,273.5 1264.1,280.1 1265,286.9 1265.8,294.6 1266.6,304 1267.5,314.1 1268.3,322.9 1269.1,329.8 1270,335.4 1270.8,339.8 1271.6,343.2 1272.5,345.8 1273.3,348 1274.1,349.6 1274.9,350.8 1275.8,351.5 1276.6,351.8 1277.4,351.7 1278.3,350.5 1279.1,348 1279.9,345.2 1280.8,342.4 1281.6,339.4 1282.4,336.4 1283.3,333.6 1284.1,330.8 1284.9,328.2 1285.8,325.7 1286.6,323.6 1287.4,321.8 1288.3,320.4 1289.1,319.2 1289.9,318.2 1290.8,317.5 1291.6,317 1292.4,316.8 1293.3,316.6 1294.1,316.6 1294.9,316.7 1295.7,316.9 1296.6,317.3 1297.4,318 1298.2,318.6 1299.1,319.3 1299.9,319.9 1300.7,320.5 1301.6,321 1302.4,321.5 1303.2,321.9 1304.1,322.3 1304.9,322.5 1305.7,322.6 1306.6,322.5 1307.4,322.2 1308.2,321.7 1309.1,320.8 1309.9,319.2 1310.7,317.3 1311.6,315.3 1312.4,313.3 1313.2,311.4 1314.1,309.4 1314.9,307.4 1315.7,305.4 1316.5,303.6 1317.4,301.8 1318.2,300 1319,298.3 1319.9,296.8 1320.7,295.4 1321.5,294.3 1322.4,293.5 1323.2,292.8 1324,292.2 1324.9,291.7 1325.7,291.5 1326.5,291.3 1327.4,291.4 1328.2,291.7 1329,292.2 1329.9,292.8 1330.7,293.7 1331.5,294.8 1332.4,296.2 1333.2,298.1 1334,300.3 1334.9,302.8 1335.7,305.3 1336.5,307.9 1337.3,310.4 1338.2,312.9 1339,315.5 1339.8,318.1 1340.7,320.5 1341.5,322.9 1342.3,325.1 1343.2,327.4 1344,329.5 1344.8,331.4 1345.7,333.2 1346.5,334.7 1347.3,336 1348.2,337.1 1349,338 1349.8,338.3 1350.7,338.1 1351.5,337.1 1352.3,335.6 1353.2,333.8 1354,331.5 1354.8,328.6 1355.7,325.4 1356.5,322.3 1357.3,319.5 1358.1,316.7 1359,314.2 1359.8,312 1360.6,310.3 1361.5,309.1 1362.3,308.1 1363.1,307.4 1364,306.9 1364.8,306.7 1365.6,306.7 1366.5,306.8 1367.3,307.2 1368.1,307.8 1369,308.6 1369.8,309.7 1370.6,311.2 1371.5,313.3 1372.3,316.1 1373.1,319.2 1374,322.7 1374.8,326.7 1375.6,331.1 1376.5,335.5 1377.3,339.8 1378.1,344.1 1378.9,348.3 1379.8,352.3 1380.6,356.1 1381.4,359.8 1382.3,363.2 1383.1,366 1383.9,368.2 1384.8,369.7 1385.6,369.9 1386.4,367.7 1387.3,363.4 1388.1,358.2 1388.9,352.7 1389.8,346.6 1390.6,340.1 1391.4,333.5 1392.3,327.1 1393.1,320.6 1393.9,314.2 1394.8,308.3 1395.6,302.9 1396.4,297.7 1397.3,293.1 1398.1,289.3 1398.9,286.3 1399.7,283.7 1400.6,281.7 1401.4,280.3 1402.2,279.4 1403.1,278.8 1403.9,278.5 1404.7,278.3 1405.6,278.5 1406.4,279 1407.2,279.9 1408.1,281.2 1408.9,282.9 1409.7,285.3 1410.6,288.4 1411.4,292.1 1412.2,296.2 1413.1,301.2 1413.9,306.8 1414.7,312.9 1415.6,319.4 1416.4,326.3 1417.2,333.6 1418.1,340.9 1418.9,348.1 1419.7,355.4 1420.5,362.6 1421.4,369.5 1422.2,375.9 1423,380.5 1423.9,379 1424.7,371.1 1425.5,360.5 1426.4,349.7 1427.2,338.5 1428,327.3 1428.9,316.4 1429.7,305.6 1430.5,295.1 1431.4,285.1 1432.2,276 1433,267.5 1433.9,259.4 1434.7,251.4 1435.5,243.1 1436.4,234.7 1437.2,226.4 1438,218.3 1438.9,210.2 1439.7,202.7 1440.5,195.8 1441.3,189.4 1442.2,183.6 1443,178.4 1443.8,174.1 1444.7,170.2 1445.5,166.9 1446.3,164.2 1447.2,162.1 1448,160.3 1448.8,158.9 1449.7,157.8 1450.5,157.1 1451.3,156.6 1452.2,156.3 1453,156.4 1453.8,156.9 1454.7,157.6 1455.5,158.7 1456.3,160 1457.2,161.8 1458,164.2 1458.8,167 1459.7,170.4 1460.5,174.5 1461.3,179.3 1462.1,184.4 1463,189.8 1463.8,195.5 1464.6,201.5 1465.5,207.5 1466.3,213.3 1467.1,219 1468,224.8 1468.8,230.7 1469.6,236.9 1470.5,243.3 1471.3,249.8 1472.1,255.9 1473,261.2 1473.8,266 1474.6,270.5 1475.5,274.9 1476.3,279.4 1477.1,284.5 1478,290.1 1478.8,295.8 1479.6,301.1 1480.5,305.8 1481.3,309.9 1482.1,313.6 1482.9,317.1 1483.8,320.2 1484.6,323.3 1485.4,326.2 1486.3,329.1 1487.1,331.7 1487.9,334 1488.8,336 1489.6,337.8 1490.4,339.4 1491.3,340.8 1492.1,341.9 1492.9,342.9 1493.8,343.7 1494.6,344.4 1495.4,344.9 1496.3,345.4 1497.1,345.9 1497.9,346.4 1498.8,347 1499.6,347.6 1500.4,348.3 1501.3,349.2 1502.1,350.1 1502.9,351.1 1503.7,352.3 1504.6,353.7 1505.4,355.3 1506.2,357 1507.1,358.8 1507.9,360.7 1508.7,362.6 1509.6,364.7 1510.4,366.8 1511.2,368.9 1512.1,370.9 1512.9,372.6 1513.7,374 1514.6,375.1 1515.4,376 1516.2,376.6 1517.1,376.6 1517.9,376.1 1518.7,375.2 1519.6,374.1 1520.4,372.6 1521.2,370.8 1522.1,368.6 1522.9,366.2 1523.7,363.7 1524.5,361.2 1525.4,359 1526.2,356.8 1527,354.6 1527.9,352.6 1528.7,350.7 1529.5,349.1 1530.4,347.8 1531.2,346.6 1532,345.7 1532.9,344.8 1533.7,344.1 1534.5,343.6 1535.4,343.2 1536.2,342.8 1537,342.6 1537.9,342.5 1538.7,342.6 1539.5,342.9 1540.4,343.4 1541.2,344.1 1542,345 1542.9,346 1543.7,347.1 1544.5,348.5 1545.3,350 1546.2,351.7 1547,353.6 1547.8,355.5 1548.7,357.5 1549.5,359.7 1550.3,362 1551.2,364.1 1552,365.9 1552.8,367.1 1553.7,367.9 1554.5,368.3 1555.3,368.2 1556.2,367.4 1557,366 1557.8,364.4 1558.7,362.6 1559.5,360.6 1560.3,358.4 1561.2,356.1 1562,353.7 1562.8,351.4 1563.7,349.2 1564.5,347 1565.3,344.9 1566.1,342.8 1567,340.9 1567.8,339.3 1568.6,337.8 1569.5,336.5 1570.3,335.4 1571.1,334.3 1572,333.5 1572.8,332.8 1573.6,332.4 1574.5,332 1575.3,331.8 1576.1,331.7 1577,331.7 1577.8,332 1578.6,332.6 1579.5,333.3 1580.3,334.3 1581.1,335.4 1582,336.9 1582.8,338.7 1583.6,340.7 1584.5,342.9 1585.3,345.1 1586.1,347.4 1586.9,349.8 1587.8,352.3 1588.6,354.9 1589.4,357.5 1590.3,360 1591.1,362.5 1591.9,365 1592.8,367.4 1593.6,369.8 1594.4,372 1595.3,373.9 1596.1,375.8 1596.9,377.3 1597.8,378.2 1598.6,378.2 1599.4,377 1600.3,374.8 1601.1,372 1601.9,369.1 1602.8,365.7 1603.6,362.2 1604.4,358.7 1605.3,355.9 1606.1,353.4 1606.9,351.1 1607.7,349.2 1608.6,347.4 1609.4,345.9 1610.2,344.6 1611.1,343.5 1611.9,342.4 1612.7,341.5 1613.6,340.7 1614.4,340 1615.2,339.5 1616.1,339.2 1616.9,338.9 1617.7,338.7 1618.6,338.7 1619.4,338.9 1620.2,339.2 1621.1,339.7 1621.9,340.3 1622.7,341.1 1623.6,341.9 1624.4,342.9 1625.2,344.1 1626.1,345.5 1626.9,347 1627.7,348.7 1628.5,350.5 1629.4,352.5 1630.2,354.7 1631,357 1631.9,359.3 1632.7,361.6 1633.5,363.9 1634.4,366.1 1635.2,368.3 1636,370.4 1636.9,372.4 1637.7,374 1638.5,375.3 1639.4,376.3 1640.2,377.2 1641,377.9 1641.9,378.2 1642.7,378.3 1643.5,378.1 1644.4,377.6 1645.2,376.8 1646,375.8 1646.9,374.7 1647.7,373.4 1648.5,371.7 1649.3,369.9 1650.2,368.1 1651,366.3 1651.8,364.7 1652.7,363.2 1653.5,361.8 1654.3,360.5 1655.2,359.3 1656,358.1 1656.8,356.9 1657.7,355.8" fill="none" stroke="#0000ff" stroke-width="2.4" stroke-linejoin="round" stroke-dasharray="12.5 8.4" />
<polyline points="1137.7,313.3 1138.5,306.6 1139.3,300 1140.2,293.8 1141,287.8 1141.8,282.1 1142.7,276.9 1143.5,272.6 1144.3,268.9 1145.2,265.7 1146,263.1 1146.8,261.4 1147.7,260.2 1148.5,259.3 1149.3,258.8 1150.1,258.7 1151,259.3 1151.8,260.7 1152.6,262.8 1153.5,265.5 1154.3,269.6 1155.1,275.1 1156,281.3 1156.8,287.7 1157.6,294.7 1158.5,302 1159.3,309.3 1160.1,316 1161,322.3 1161.8,328.2 1162.6,333.3 1163.5,337.2 1164.3,340.3 1165.1,342.5 1166,343.4 1166.8,342.9 1167.6,341.5 1168.5,339.2 1169.3,336.2 1170.1,331.9 1170.9,326.9 1171.8,322.9 1172.6,319.8 1173.4,317.3 1174.3,315.6 1175.1,315 1175.9,315.1 1176.8,315.8 1177.6,316.9 1178.4,318.4 1179.3,320.2 1180.1,322.7 1180.9,325.9 1181.8,329.7 1182.6,333.8 1183.4,338.5 1184.3,343.8 1185.1,349 1185.9,353.8 1186.8,358.3 1187.6,362.3 1188.4,365.3 1189.3,367.4 1190.1,368.6 1190.9,368.2 1191.7,366.2 1192.6,363.1 1193.4,359.7 1194.2,355.7 1195.1,351.2 1195.9,346.8 1196.7,343 1197.6,339.9 1198.4,337.2 1199.2,335 1200.1,333.2 1200.9,331.7 1201.7,330.5 1202.6,329.4 1203.4,328.7 1204.2,328.3 1205.1,328.1 1205.9,328.1 1206.7,328 1207.6,328.1 1208.4,328.1 1209.2,328.2 1210.1,328.3 1210.9,328.5 1211.7,328.7 1212.5,329 1213.4,329.3 1214.2,329.6 1215,330 1215.9,330.4 1216.7,330.9 1217.5,331.4 1218.4,332 1219.2,332.8 1220,333.8 1220.9,335.1 1221.7,336.7 1222.5,338.9 1223.4,341.7 1224.2,344.9 1225,348.4 1225.9,352.4 1226.7,356.6 1227.5,361 1228.4,365.1 1229.2,369.1 1230,372.9 1230.9,376.1 1231.7,378.4 1232.5,379.7 1233.3,380 1234.2,377.9 1235,373.6 1235.8,368.3 1236.7,362 1237.5,355 1238.3,348.3 1239.2,342.2 1240,336.5 1240.8,331.3 1241.7,326.7 1242.5,322.5 1243.3,318.6 1244.2,315.5 1245,313.3 1245.8,312.1 1246.7,311.2 1247.5,310.8 1248.3,310.8 1249.2,311.4 1250,312.7 1250.8,314.5 1251.7,317 1252.5,319.9 1253.3,323.8 1254.1,328.7 1255,334.2 1255.8,339.8 1256.6,345.7 1257.5,351.8 1258.3,357.8 1259.1,363.2 1260,368.2 1260.8,371.9 1261.6,372.4 1262.5,370.3 1263.3,366.8 1264.1,361.9 1265,355.6 1265.8,348.7 1266.6,341.4 1267.5,333.8 1268.3,326.5 1269.1,320.3 1270,315.3 1270.8,311 1271.6,307.6 1272.5,305.1 1273.3,303.4 1274.1,302.1 1274.9,301.2 1275.8,300.8 1276.6,301 1277.4,301.6 1278.3,302.6 1279.1,304.1 1279.9,306.1 1280.8,308.9 1281.6,312.4 1282.4,316.3 1283.3,320.9 1284.1,326 1284.9,331.3 1285.8,336.3 1286.6,340.8 1287.4,345.1 1288.3,348.7 1289.1,351.5 1289.9,353.3 1290.8,354.6 1291.6,355 1292.4,354.3 1293.3,352.6 1294.1,350.3 1294.9,347.4 1295.7,343.9 1296.6,340.2 1297.4,337 1298.2,334.2 1299.1,331.8 1299.9,329.8 1300.7,328.4 1301.6,327.6 1302.4,326.9 1303.2,326.6 1304.1,326.6 1304.9,327.2 1305.7,328.6 1306.6,330.5 1307.4,333 1308.2,336.1 1309.1,340.1 1309.9,344.7 1310.7,349.4 1311.6,354.2 1312.4,359.1 1313.2,363.9 1314.1,367.9 1314.9,371.1 1315.7,373.7 1316.5,375 1317.4,374.6 1318.2,372.9 1319,370.4 1319.9,367.2 1320.7,363.1 1321.5,358.5 1322.4,354 1323.2,349.6 1324,345.2 1324.9,341.3 1325.7,338.6 1326.5,337.2 1327.4,336.3 1328.2,335.8 1329,335.8 1329.9,336.2 1330.7,337 1331.5,338.2 1332.4,339.7 1333.2,341.6 1334,344.1 1334.9,347 1335.7,350 1336.5,352.8 1337.3,355.5 1338.2,358.2 1339,360.7 1339.8,363 1340.7,364.9 1341.5,366.5 1342.3,367.5 1343.2,367.3 1344,365.3 1344.8,361.8 1345.7,357.5 1346.5,353 1347.3,347.8 1348.2,342.6 1349,337.6 1349.8,333.2 1350.7,329.1 1351.5,325.2 1352.3,321.8 1353.2,318.9 1354,316.4 1354.8,314 1355.7,312 1356.5,310.4 1357.3,309.3 1358.1,308.7 1359,308.3 1359.8,308.2 1360.6,308.3 1361.5,308.8 1362.3,310 1363.1,311.7 1364,313.8 1364.8,316.1 1365.6,318.6 1366.5,321.4 1367.3,324.6 1368.1,327.8 1369,331.1 1369.8,334.2 1370.6,337.3 1371.5,340.2 1372.3,343.1 1373.1,345.9 1374,348.6 1374.8,351.1 1375.6,353.4 1376.5,355.7 1377.3,357.8 1378.1,359.8 1378.9,361.6 1379.8,363 1380.6,364.2 1381.4,365.2 1382.3,366.1 1383.1,366.7 1383.9,367.2 1384.8,367.5 1385.6,367.5 1386.4,367.4 1387.3,367.1 1388.1,366.8 1388.9,366.4 1389.8,366 1390.6,365.5 1391.4,364.9 1392.3,364.2 1393.1,363.5 1393.9,362.8 1394.8,362.1 1395.6,361.5 1396.4,361 1397.3,360.6 1398.1,360.2 1398.9,359.9 1399.7,359.6 1400.6,359.4 1401.4,359.3 1402.2,359.2 1403.1,359.2 1403.9,359.2 1404.7,359.3 1405.6,359.6 1406.4,359.9 1407.2,360.2 1408.1,360.6 1408.9,361 1409.7,361.5 1410.6,362 1411.4,362.6 1412.2,363.3 1413.1,364 1413.9,364.7 1414.7,365.4 1415.6,366 1416.4,366.5 1417.2,366.9 1418.1,367.3 1418.9,367.6 1419.7,367.9 1420.5,368 1421.4,368 1422.2,367.9 1423,367.5 1423.9,366.9 1424.7,366 1425.5,365 1426.4,363.8 1427.2,362.4 1428,360.6 1428.9,358.4 1429.7,356.1 1430.5,353.5 1431.4,350.9 1432.2,348.3 1433,345.6 1433.9,342.7 1434.7,339.8 1435.5,337 1436.4,334.3 1437.2,331.7 1438,329.2 1438.9,326.8 1439.7,324.5 1440.5,322.4 1441.3,320.6 1442.2,319.1 1443,317.7 1443.8,316.5 1444.7,315.6 1445.5,315.1 1446.3,315 1447.2,315.2 1448,315.8 1448.8,316.6 1449.7,317.8 1450.5,319.3 1451.3,321.6 1452.2,324.5 1453,327.9 1453.8,331.7 1454.7,335.8 1455.5,340.5 1456.3,345.7 1457.2,351.1 1458,356.6 1458.8,362.5 1459.7,368.5 1460.5,374.3 1461.3,379.9 1462.1,384.4 1463,384 1463.8,378.3 1464.6,370.2 1465.5,362 1466.3,353.5 1467.1,344.9 1468,336.7 1468.8,329.2 1469.6,322 1470.5,315.3 1471.3,309.2 1472.1,303.6 1473,298.4 1473.8,293.6 1474.6,289.4 1475.5,286.1 1476.3,283.8 1477.1,282 1478,280.5 1478.8,279.4 1479.6,278.7 1480.5,278.4 1481.3,278.4 1482.1,278.6 1482.9,279.2 1483.8,280 1484.6,281.1 1485.4,282.5 1486.3,284.6 1487.1,287.2 1487.9,290.2 1488.8,293.4 1489.6,296.9 1490.4,300.7 1491.3,304.7 1492.1,308.8 1492.9,313.2 1493.8,317.5 1494.6,321.6 1495.4,325.1 1496.3,328.2 1497.1,331.1 1497.9,333.6 1498.8,335.7 1499.6,337.6 1500.4,339.1 1501.3,340.5 1502.1,341.8 1502.9,342.8 1503.7,343.8 1504.6,344.6 1505.4,345.3 1506.2,346 1507.1,346.8 1507.9,347.8 1508.7,348.9 1509.6,350.4 1510.4,352.1 1511.2,353.8 1512.1,355.7 1512.9,357.6 1513.7,359.5 1514.6,361.5 1515.4,363.5 1516.2,365.6 1517.1,367.7 1517.9,369.9 1518.7,371.4 1519.6,371.5 1520.4,370.2 1521.2,368 1522.1,365.5 1522.9,362.7 1523.7,359.6 1524.5,356.6 1525.4,353.7 1526.2,351 1527,348.3 1527.9,346 1528.7,344.1 1529.5,342.8 1530.4,341.9 1531.2,341.3 1532,340.9 1532.9,340.8 1533.7,341 1534.5,341.4 1535.4,341.9 1536.2,342.8 1537,343.9 1537.9,345.6 1538.7,347.7 1539.5,350.2 1540.4,352.8 1541.2,355.7 1542,358.8 1542.9,361.8 1543.7,364.4 1544.5,366.8 1545.3,369 1546.2,370.8 1547,372.2 1547.8,373.3 1548.7,374 1549.5,374.2 1550.3,373.6 1551.2,372 1552,369.8 1552.8,367.3 1553.7,364.4 1554.5,361.2 1555.3,358.2 1556.2,355.7 1557,353.6 1557.8,351.7 1558.7,350.1 1559.5,348.9 1560.3,348.1 1561.2,347.4 1562,347 1562.8,346.7 1563.7,346.6 1564.5,346.8 1565.3,347.3 1566.1,348.2 1567,349.4 1567.8,350.7 1568.6,352.2 1569.5,354 1570.3,356 1571.1,358.2 1572,360.3 1572.8,362.4 1573.6,364.5 1574.5,366.5 1575.3,368.5 1576.1,370.5 1577,372.3 1577.8,374.2 1578.6,376.1 1579.5,377.8 1580.3,379.3 1581.1,380.3 1582,381.2 1582.8,381.9 1583.6,382.4 1584.5,382.6 1585.3,382.4 1586.1,381.5 1586.9,380.1 1587.8,378.1 1588.6,375.9 1589.4,372.9 1590.3,369.5 1591.1,365.8 1591.9,362.2 1592.8,359 1593.6,355.9 1594.4,353 1595.3,350.4 1596.1,348 1596.9,346.1 1597.8,344.3 1598.6,342.7 1599.4,341.4 1600.3,340.5 1601.1,339.8 1601.9,339.5 1602.8,339.2 1603.6,339.1 1604.4,339.2 1605.3,339.6 1606.1,340.2 1606.9,341.2 1607.7,342.4 1608.6,343.8 1609.4,345.8 1610.2,348.2 1611.1,351.1 1611.9,354.3 1612.7,357.7 1613.6,361.5 1614.4,365.6 1615.2,369.4 1616.1,372.5 1616.9,375.1 1617.7,377.4 1618.6,379.1 1619.4,380 1620.2,379.8 1621.1,378.3 1621.9,375.6 1622.7,372.4 1623.6,368.6 1624.4,364.2 1625.2,359.7 1626.1,355.6 1626.9,351.8 1627.7,348.1 1628.5,344.7 1629.4,341.8 1630.2,339.4 1631,337.4 1631.9,335.6 1632.7,334.1 1633.5,333.1 1634.4,332.4 1635.2,331.9 1636,331.6 1636.9,331.6 1637.7,331.7 1638.5,332.4 1639.4,333.6 1640.2,335.1 1641,336.9 1641.9,338.8 1642.7,341 1643.5,343.4 1644.4,345.9 1645.2,348.3 1646,350.5 1646.9,352.5 1647.7,354.4 1648.5,355.9 1649.3,356.8 1650.2,357.4 1651,357.7 1651.8,357.4 1652.7,356.1 1653.5,354 1654.3,351.7 1655.2,349.6 1656,347.9 1656.8,346.4 1657.7,345" fill="none" stroke="#ffa500" stroke-width="2.4" stroke-linejoin="round" stroke-dasharray="12.5 8.4" />
<polyline points="1137.7,166.7 1138.5,172.3 1139.3,177.6 1140.2,182.6 1141,187.2 1141.8,191.5 1142.7,195.4 1143.5,199 1144.3,202.2 1145.2,205.2 1146,208 1146.8,210.4 1147.7,212.7 1148.5,214.9 1149.3,216.9 1150.1,218.7 1151,220.4 1151.8,221.9 1152.6,223.3 1153.5,224.6 1154.3,225.8 1155.1,226.9 1156,227.8 1156.8,228.4 1157.6,229 1158.5,229.4 1159.3,229.6 1160.1,229.7 1161,229.4 1161.8,228.9 1162.6,228.2 1163.5,227.4 1164.3,226.2 1165.1,224.8 1166,223.2 1166.8,221.5 1167.6,219.8 1168.5,218 1169.3,216.2 1170.1,214.4 1170.9,212.8 1171.8,211.5 1172.6,210.4 1173.4,209.5 1174.3,208.8 1175.1,208.3 1175.9,207.9 1176.8,207.6 1177.6,207.5 1178.4,207.7 1179.3,208 1180.1,208.6 1180.9,209.3 1181.8,210.2 1182.6,211.3 1183.4,212.6 1184.3,213.9 1185.1,215.1 1185.9,216.3 1186.8,217.4 1187.6,218.4 1188.4,219.3 1189.3,220.1 1190.1,220.7 1190.9,221.3 1191.7,221.7 1192.6,222 1193.4,222.2 1194.2,222.4 1195.1,222.5 1195.9,222.7 1196.7,222.9 1197.6,223.1 1198.4,223.3 1199.2,223.7 1200.1,224.2 1200.9,224.9 1201.7,226 1202.6,227.5 1203.4,229.3 1204.2,231.9 1205.1,235.1 1205.9,238.6 1206.7,242.2 1207.6,246.1 1208.4,250.3 1209.2,255 1210.1,260.3 1210.9,266.6 1211.7,273.7 1212.5,281.7 1213.4,290.5 1214.2,300.3 1215,310.9 1215.9,321.7 1216.7,332.2 1217.5,342.2 1218.4,351.8 1219.2,360.3 1220,368.1 1220.9,371.7 1221.7,367.8 1222.5,359.7 1223.4,349.2 1224.2,336.5 1225,322.9 1225.9,308.7 1226.7,294.3 1227.5,281.3 1228.4,270.7 1229.2,260.5 1230,248 1230.9,230.6 1231.7,211.5 1232.5,195.7 1233.3,182.6 1234.2,171.5 1235,162.1 1235.8,153.2 1236.7,144.1 1237.5,135 1238.3,126.6 1239.2,119.2 1240,112.6 1240.8,106.7 1241.7,101.3 1242.5,96.5 1243.3,92.5 1244.2,89.1 1245,86.5 1245.8,85.1 1246.7,84.3 1247.5,84.2 1248.3,84.8 1249.2,86.1 1250,88.8 1250.8,92.4 1251.7,96.9 1252.5,102.3 1253.3,108.2 1254.1,114.7 1255,121.9 1255.8,129.8 1256.6,138.6 1257.5,147.8 1258.3,156.4 1259.1,163.7 1260,171.4 1260.8,181.1 1261.6,192.4 1262.5,204.5 1263.3,217.1 1264.1,230 1265,242.8 1265.8,255.2 1266.6,267.5 1267.5,279.4 1268.3,291.2 1269.1,302.8 1270,313.5 1270.8,322.9 1271.6,330.8 1272.5,337.2 1273.3,341 1274.1,342.5 1274.9,341.5 1275.8,338.6 1276.6,333.8 1277.4,327.3 1278.3,320.5 1279.1,314 1279.9,307.7 1280.8,301.5 1281.6,295.5 1282.4,289.6 1283.3,283.8 1284.1,278.4 1284.9,273.7 1285.8,269.6 1286.6,266 1287.4,263.1 1288.3,261 1289.1,259.6 1289.9,258.8 1290.8,258.7 1291.6,259.4 1292.4,260.7 1293.3,262.7 1294.1,265.6 1294.9,269.2 1295.7,272.9 1296.6,276.8 1297.4,281 1298.2,285.3 1299.1,289.5 1299.9,293.7 1300.7,297.8 1301.6,301.9 1302.4,305.8 1303.2,309.6 1304.1,313.2 1304.9,316.7 1305.7,319.8 1306.6,322.3 1307.4,324 1308.2,325.1 1309.1,325.2 1309.9,324.3 1310.7,322.7 1311.6,320.5 1312.4,317.5 1313.2,314.1 1314.1,310.5 1314.9,306.9 1315.7,303 1316.5,299.2 1317.4,295.5 1318.2,292.1 1319,289 1319.9,286.1 1320.7,283.5 1321.5,281.2 1322.4,279.4 1323.2,278 1324,276.8 1324.9,275.9 1325.7,275.3 1326.5,275 1327.4,275.1 1328.2,275.5 1329,276.3 1329.9,277.3 1330.7,278.7 1331.5,280.6 1332.4,282.9 1333.2,285.4 1334,287.9 1334.9,290.4 1335.7,293 1336.5,295.6 1337.3,298.1 1338.2,300.6 1339,302.9 1339.8,305.1 1340.7,307.2 1341.5,309.1 1342.3,310.9 1343.2,312.3 1344,313.4 1344.8,314.3 1345.7,314.9 1346.5,315 1347.3,314.6 1348.2,313.9 1349,313 1349.8,311.9 1350.7,310.7 1351.5,309.3 1352.3,307.7 1353.2,306 1354,304.4 1354.8,302.8 1355.7,301.3 1356.5,299.9 1357.3,298.5 1358.1,297.2 1359,296 1359.8,295.2 1360.6,294.5 1361.5,294 1362.3,293.6 1363.1,293.4 1364,293.3 1364.8,293.5 1365.6,293.8 1366.5,294.3 1367.3,294.9 1368.1,295.5 1369,296.4 1369.8,297.4 1370.6,298.6 1371.5,299.8 1372.3,301 1373.1,302.2 1374,303.4 1374.8,304.6 1375.6,305.8 1376.5,307 1377.3,308 1378.1,308.9 1378.9,309.7 1379.8,310.5 1380.6,311.1 1381.4,311.6 1382.3,312.1 1383.1,312.4 1383.9,312.7 1384.8,312.8 1385.6,313 1386.4,313 1387.3,313 1388.1,312.8 1388.9,312.6 1389.8,312.3 1390.6,312 1391.4,311.7 1392.3,311.5 1393.1,311.1 1393.9,310.8 1394.8,310.5 1395.6,310.3 1396.4,310.1 1397.3,309.9 1398.1,309.8 1398.9,309.7 1399.7,309.7 1400.6,309.7 1401.4,309.9 1402.2,310.2 1403.1,310.6 1403.9,311 1404.7,311.5 1405.6,312.1 1406.4,312.8 1407.2,313.5 1408.1,314.4 1408.9,315.4 1409.7,316.3 1410.6,317.4 1411.4,318.5 1412.2,319.6 1413.1,320.8 1413.9,321.9 1414.7,323 1415.6,324 1416.4,325 1417.2,325.9 1418.1,326.7 1418.9,327.5 1419.7,328.1 1420.5,328.7 1421.4,329.2 1422.2,329.6 1423,330 1423.9,330.2 1424.7,330.3 1425.5,330.3 1426.4,330 1427.2,329.5 1428,328.8 1428.9,327.9 1429.7,326.7 1430.5,325 1431.4,323 1432.2,320.7 1433,318.3 1433.9,315.9 1434.7,313.5 1435.5,311 1436.4,308.5 1437.2,306 1438,303.6 1438.9,301.2 1439.7,299.1 1440.5,297.1 1441.3,295.3 1442.2,293.5 1443,292 1443.8,290.6 1444.7,289.5 1445.5,288.7 1446.3,288 1447.2,287.5 1448,287.1 1448.8,286.8 1449.7,286.7 1450.5,286.7 1451.3,286.9 1452.2,287.3 1453,287.8 1453.8,288.6 1454.7,289.5 1455.5,290.8 1456.3,292.6 1457.2,294.9 1458,297.6 1458.8,300.4 1459.7,303.5 1460.5,306.8 1461.3,310.4 1462.1,314.3 1463,318.3 1463.8,322.4 1464.6,326.8 1465.5,331.2 1466.3,335.7 1467.1,339.9 1468,343.9 1468.8,347.8 1469.6,351.3 1470.5,354.1 1471.3,355.9 1472.1,357.3 1473,358.1 1473.8,358.3 1474.6,358 1475.5,357.1 1476.3,355.7 1477.1,353.9 1478,351.3 1478.8,348.2 1479.6,344.9 1480.5,341.5 1481.3,338 1482.1,334.5 1482.9,331.1 1483.8,328 1484.6,325.3 1485.4,322.9 1486.3,320.7 1487.1,318.8 1487.9,317.3 1488.8,316 1489.6,315 1490.4,314.1 1491.3,313.4 1492.1,313.1 1492.9,313 1493.8,313.4 1494.6,314 1495.4,314.9 1496.3,316 1497.1,317.4 1497.9,319.3 1498.8,321.6 1499.6,324.1 1500.4,326.9 1501.3,329.8 1502.1,333 1502.9,336.3 1503.7,339.8 1504.6,343.3 1505.4,346.7 1506.2,350.1 1507.1,353.5 1507.9,356.9 1508.7,360.1 1509.6,363.1 1510.4,366.2 1511.2,368.9 1512.1,371 1512.9,372.1 1513.7,372.5 1514.6,372.2 1515.4,370.5 1516.2,368.1 1517.1,365.4 1517.9,362.2 1518.7,358.8 1519.6,355.2 1520.4,351.7 1521.2,348.2 1522.1,344.8 1522.9,341.4 1523.7,338.3 1524.5,335.4 1525.4,332.6 1526.2,330.1 1527,327.8 1527.9,325.9 1528.7,324.4 1529.5,323.1 1530.4,322 1531.2,321.1 1532,320.4 1532.9,320.1 1533.7,320 1534.5,320.3 1535.4,320.8 1536.2,321.6 1537,322.6 1537.9,323.9 1538.7,325.7 1539.5,328 1540.4,330.6 1541.2,333.4 1542,336.2 1542.9,339.4 1543.7,342.7 1544.5,346.2 1545.3,349.6 1546.2,353.1 1547,356.7 1547.8,360.2 1548.7,363.7 1549.5,366.7 1550.3,369.4 1551.2,371.8 1552,373.7 1552.8,374.8 1553.7,374.8 1554.5,373.6 1555.3,371.5 1556.2,369 1557,366 1557.8,362.6 1558.7,358.9 1559.5,355.2 1560.3,351.2 1561.2,347.1 1562,343 1562.8,339 1563.7,335.2 1564.5,331.6 1565.3,328 1566.1,324.7 1567,321.7 1567.8,319 1568.6,316.6 1569.5,314.3 1570.3,312.4 1571.1,310.8 1572,309.6 1572.8,308.6 1573.6,307.9 1574.5,307.3 1575.3,306.9 1576.1,306.7 1577,306.7 1577.8,307 1578.6,307.5 1579.5,308.3 1580.3,309.2 1581.1,310.5 1582,312.2 1582.8,314.4 1583.6,317 1584.5,319.8 1585.3,322.7 1586.1,325.7 1586.9,329 1587.8,332.4 1588.6,336 1589.4,339.5 1590.3,343.2 1591.1,347 1591.9,350.7 1592.8,354.3 1593.6,357.8 1594.4,361.1 1595.3,364.2 1596.1,367.2 1596.9,369.9 1597.8,372.4 1598.6,374.7 1599.4,376.9 1600.3,378.8 1601.1,380.6 1601.9,382.1 1602.8,383.5 1603.6,384.2 1604.4,383.6 1605.3,382 1606.1,379.8 1606.9,377.7 1607.7,375.6 1608.6,373.5 1609.4,371.5 1610.2,369.6 1611.1,367.9 1611.9,366.2 1612.7,364.7 1613.6,363.4 1614.4,362.3 1615.2,361.5 1616.1,360.9 1616.9,360.4 1617.7,360.1 1618.6,359.8 1619.4,359.7 1620.2,359.7 1621.1,359.7 1621.9,359.7 1622.7,359.7 1623.6,359.8 1624.4,359.9 1625.2,360.1 1626.1,360.2 1626.9,360.4 1627.7,360.6 1628.5,360.9 1629.4,361.2 1630.2,361.5 1631,361.8 1631.9,362.1 1632.7,362.3 1633.5,362.5 1634.4,362.7 1635.2,362.9 1636,363 1636.9,363.1 1637.7,363.2 1638.5,363.3 1639.4,363.3 1640.2,363.3 1641,363.4 1641.9,363.4 1642.7,363.4 1643.5,363.4 1644.4,363.4 1645.2,363.4 1646,363.3 1646.9,363.3 1647.7,363.3 1648.5,363.2 1649.3,363.1 1650.2,362.9 1651,362.7 1651.8,362.4 1652.7,362.1 1653.5,361.7 1654.3,361.2 1655.2,360.6 1656,360 1656.8,359.3 1657.7,358.7" fill="none" stroke="#ff0000" stroke-width="2.4" stroke-linejoin="round" />
<polyline points="1220.5,234.5 1230,235 1246.7,235.8 1263.3,235.8 1271.7,236.7 1278.8,238" fill="none" stroke="#00c896" stroke-width="2.3" stroke-linejoin="round" />
<polyline points="1425.8,237.5 1430,235.3 1435,233 1438.3,230.8 1441.7,227.5 1444.2,226.3 1448.3,227 1455,227.8 1463.3,228.3 1470,228.3 1475,229.7 1478.3,230.8 1480.8,230.3 1484,229" fill="none" stroke="#00c896" stroke-width="2.3" stroke-linejoin="round" />
</g>
<rect x="1137.5" y="69.3" width="520.2" height="319" fill="none" stroke="#000" stroke-width="2.8"/>
<line x1="1128" y1="388.5" x2="1137.5" y2="388.5" stroke="#000" stroke-width="2.5" />
<text x="1121.5" y="396" font-size="24.6" text-anchor="end" >0</text>
<line x1="1128" y1="327.7" x2="1137.5" y2="327.7" stroke="#000" stroke-width="2.5" />
<text x="1121.5" y="335.2" font-size="24.6" text-anchor="end" >0.2</text>
<line x1="1128" y1="266.9" x2="1137.5" y2="266.9" stroke="#000" stroke-width="2.5" />
<text x="1121.5" y="274.4" font-size="24.6" text-anchor="end" >0.4</text>
<line x1="1128" y1="206.1" x2="1137.5" y2="206.1" stroke="#000" stroke-width="2.5" />
<text x="1121.5" y="213.6" font-size="24.6" text-anchor="end" >0.6</text>
<line x1="1128" y1="145.3" x2="1137.5" y2="145.3" stroke="#000" stroke-width="2.5" />
<text x="1121.5" y="152.8" font-size="24.6" text-anchor="end" >0.8</text>
<line x1="1128" y1="84.5" x2="1137.5" y2="84.5" stroke="#000" stroke-width="2.5" />
<text x="1121.5" y="92" font-size="24.6" text-anchor="end" >1.0</text>
<line x1="1137.4" y1="388.3" x2="1137.4" y2="397.8" stroke="#000" stroke-width="2.5" />
<text x="1137.4" y="424.4" font-size="24.6" text-anchor="middle" >0.5</text>
<line x1="1241.6" y1="388.3" x2="1241.6" y2="397.8" stroke="#000" stroke-width="2.5" />
<text x="1243.6" y="424.4" font-size="24.6" text-anchor="middle" >1.0</text>
<line x1="1345.8" y1="388.3" x2="1345.8" y2="397.8" stroke="#000" stroke-width="2.5" />
<text x="1347.8" y="424.4" font-size="24.6" text-anchor="middle" >1.5</text>
<line x1="1450" y1="388.3" x2="1450" y2="397.8" stroke="#000" stroke-width="2.5" />
<text x="1450" y="424.4" font-size="24.6" text-anchor="middle" >2.0</text>
<line x1="1554.2" y1="388.3" x2="1554.2" y2="397.8" stroke="#000" stroke-width="2.5" />
<text x="1554.2" y="424.4" font-size="24.6" text-anchor="middle" >2.5</text>
<line x1="1658.4" y1="388.3" x2="1658.4" y2="397.8" stroke="#000" stroke-width="2.5" />
<text x="1658.4" y="424.4" font-size="24.6" text-anchor="middle" >3.0</text>
<line x1="1657.7" y1="381.4" x2="1670.2" y2="381.4" stroke="#000" stroke-width="2.5" />
<text x="1677.5" y="388.9" font-size="24.6" >−3</text>
<line x1="1657.7" y1="330.6" x2="1670.2" y2="330.6" stroke="#000" stroke-width="2.5" />
<text x="1677.5" y="338.1" font-size="24.6" >−2</text>
<line x1="1657.7" y1="279.8" x2="1670.2" y2="279.8" stroke="#000" stroke-width="2.5" />
<text x="1677.5" y="287.3" font-size="24.6" >−1</text>
<line x1="1657.7" y1="229" x2="1670.2" y2="229" stroke="#000" stroke-width="2.5" />
<text x="1677.5" y="236.5" font-size="24.6" >0</text>
<line x1="1657.7" y1="178.2" x2="1670.2" y2="178.2" stroke="#000" stroke-width="2.5" />
<text x="1677.5" y="185.7" font-size="24.6" >1</text>
<line x1="1657.7" y1="127.4" x2="1670.2" y2="127.4" stroke="#000" stroke-width="2.5" />
<text x="1677.5" y="134.9" font-size="24.6" >2</text>
<line x1="1657.7" y1="76.6" x2="1670.2" y2="76.6" stroke="#000" stroke-width="2.5" />
<text x="1677.5" y="84.1" font-size="24.6" >3</text>
<text x="1240" y="454.3" font-size="24.6" letter-spacing="0.196" >Rotation period (deg<tspan font-size="17" dy="-9.5">−1</tspan><tspan dy="9.5"> × 120)</tspan></text>
<text x="1070" y="232.5" font-size="24.6" text-anchor="middle" transform="rotate(-90 1070 232.5)" >FFT amp. (norm.)</text>
<text x="1739.5" y="220" font-size="24.6" text-anchor="middle" transform="rotate(-90 1739.5 220)" >Phase difference (rad)</text>
<line x1="1731.5" y1="351.5" x2="1731.5" y2="376.5" stroke="#00c896" stroke-width="2.2" />
<text transform="translate(1028.3 27.5) scale(1.09 0.97)" font-size="32.5" font-weight="bold" stroke="#000" stroke-width="1.1" stroke-linejoin="round">b</text>
<line x1="1134" y1="22" x2="1164" y2="22" stroke="#0000ff" stroke-width="2.2" stroke-dasharray="6.6 4.4"/>
<text x="1176" y="30" font-size="24.6" letter-spacing="0.226" >1st diode (co-rot.)</text>
<line x1="1134" y1="51" x2="1164" y2="51" stroke="#ffa500" stroke-width="2.2" stroke-dasharray="6.6 4.4"/>
<text x="1176" y="58.8" font-size="24.6" >Fused silica</text>
<line x1="1387" y1="22" x2="1414.5" y2="22" stroke="#ff0000" stroke-width="2.2" />
<text x="1425" y="30" font-size="24.6" letter-spacing="0.325" >2nd diode (counter-rot.)</text>
<line x1="1387" y1="51" x2="1414.5" y2="51" stroke="#00c896" stroke-width="2.2" />
<text x="1425.5" y="58.8" font-size="24.6" letter-spacing="0.177" >Phase difference</text>
</g>
<g id="panel-c">
<g clip-path="url(#cc)">
<polyline points="105,757.7 105.8,757.7 106.5,757.7 107.3,757.7 108,757.7 108.8,757.8 109.5,757.9 110.3,758 111,758.1 111.8,758.3 112.5,758.5 113.3,758.7 114,758.9 114.8,759.2 115.5,759.6 116.3,759.9 117,760.4 117.8,760.9 118.5,761.4 119.3,762 120,762.7 120.8,763.4 121.5,764.2 122.3,765 123,765.9 123.8,766.9 124.5,767.9 125.3,769 126,770.1 126.8,771.2 127.5,772.3 128.3,773.5 129.1,774.6 129.8,775.8 130.6,776.9 131.3,778 132.1,779.1 132.8,780.1 133.6,781.1 134.3,782.1 135.1,783 135.8,783.8 136.6,784.6 137.3,785.2 138.1,785.8 138.8,786.3 139.6,786.6 140.3,786.9 141.1,787.1 141.8,787.3 142.6,787.3 143.3,787.2 144.1,787 144.8,786.8 145.6,786.4 146.3,786 147.1,785.5 147.8,784.8 148.6,784.1 149.3,783.3 150.1,782.4 150.9,781.4 151.6,780.3 152.4,779.1 153.1,777.8 153.9,776.4 154.6,774.9 155.4,773.3 156.1,771.6 156.9,769.8 157.6,768 158.4,766 159.1,763.8 159.9,761.6 160.6,759.3 161.4,756.9 162.1,754.3 162.9,751.7 163.6,749 164.4,746.2 165.1,743.3 165.9,740.3 166.6,737.3 167.4,734.3 168.1,731.3 168.9,728.2 169.6,725.2 170.4,722.2 171.1,719.2 171.9,716.2 172.6,713.3 173.4,710.4 174.2,707.6 174.9,704.7 175.7,701.8 176.4,699 177.2,696.1 177.9,693.2 178.7,690.3 179.4,687.4 180.2,684.5 180.9,681.6 181.7,678.7 182.4,675.8 183.2,673 183.9,670.2 184.7,667.5 185.4,664.9 186.2,662.3 186.9,659.9 187.7,657.5 188.4,655.3 189.2,653.3 189.9,651.5 190.7,649.9 191.4,648.7 192.2,647.7 192.9,647 193.7,646.7 194.4,646.6 195.2,646.9 195.9,647.4 196.7,648.1 197.5,649.1 198.2,650.3 199,651.8 199.7,653.5 200.5,655.3 201.2,657.4 202,659.6 202.7,662 203.5,664.5 204.2,667.2 205,670 205.7,672.8 206.5,675.7 207.2,678.7 208,681.6 208.7,684.6 209.5,687.5 210.2,690.5 211,693.3 211.7,696.2 212.5,699 213.2,701.9 214,704.7 214.7,707.6 215.5,710.4 216.2,713.3 217,716.2 217.7,719.1 218.5,722.1 219.3,725.1 220,728.2 220.8,731.2 221.5,734.3 222.3,737.4 223,740.4 223.8,743.3 224.5,746.2 225.3,749 226,751.8 226.8,754.4 227.5,756.9 228.3,759.3 229,761.6 229.8,763.8 230.5,765.9 231.3,767.9 232,769.8 232.8,771.6 233.5,773.3 234.3,774.9 235,776.4 235.8,777.8 236.5,779.1 237.3,780.3 238,781.4 238.8,782.4 239.5,783.3 240.3,784.1 241,784.9 241.8,785.5 242.6,786 243.3,786.5 244.1,786.8 244.8,787.1 245.6,787.2 246.3,787.3 247.1,787.3 247.8,787.2 248.6,787 249.3,786.7 250.1,786.3 250.8,785.8 251.6,785.2 252.3,784.5 253.1,783.8 253.8,783 254.6,782.1 255.3,781.1 256.1,780.1 256.8,779.1 257.6,778 258.3,776.9 259.1,775.8 259.8,774.6 260.6,773.5 261.3,772.3 262.1,771.2 262.8,770.1 263.6,769 264.3,767.9 265.1,766.9 265.9,765.9 266.6,765 267.4,764.2 268.1,763.4 268.9,762.7 269.6,762 270.4,761.4 271.1,760.9 271.9,760.4 272.6,760 273.4,759.6 274.1,759.2 274.9,758.9 275.6,758.7 276.4,758.5 277.1,758.3 277.9,758.1 278.6,758 279.4,757.9 280.1,757.8 280.9,757.8 281.6,757.7 282.4,757.7 283.1,757.7 283.9,757.7 284.6,757.7 285.4,757.7 286.1,757.7 286.9,757.7 287.7,757.7 288.4,757.7 289.2,757.8 289.9,757.9 290.7,758 291.4,758.1 292.2,758.3 292.9,758.5 293.7,758.7 294.4,758.9 295.2,759.2 295.9,759.6 296.7,759.9 297.4,760.4 298.2,760.9 298.9,761.4 299.7,762 300.4,762.7 301.2,763.4 301.9,764.2 302.7,765 303.4,765.9 304.2,766.9 304.9,767.9 305.7,769 306.4,770.1 307.2,771.2 307.9,772.3 308.7,773.5 309.4,774.6 310.2,775.8 311,776.9 311.7,778 312.5,779.1 313.2,780.1 314,781.1 314.7,782.1 315.5,783 316.2,783.8 317,784.6 317.7,785.2 318.5,785.8 319.2,786.3 320,786.6 320.7,786.9 321.5,787.1 322.2,787.3 323,787.3 323.7,787.2 324.5,787 325.2,786.8 326,786.4 326.7,786 327.5,785.5 328.2,784.8 329,784.1 329.7,783.3 330.5,782.4 331.2,781.4 332,780.3 332.7,779.1 333.5,777.8 334.3,776.4 335,774.9 335.8,773.3 336.5,771.6 337.3,769.8 338,768 338.8,766 339.5,763.8 340.3,761.6 341,759.3 341.8,756.9 342.5,754.4 343.3,751.9 344,749.2 344.8,746.4 345.5,743.6 346.3,740.7 347,737.8 347.8,734.9 348.5,731.9 349.3,728.9 350,726 350.8,723 351.5,720.1 352.3,717.2 353,714.4 353.8,711.6 354.5,708.8 355.3,706 356.1,703.2 356.8,700.4 357.6,697.6 358.3,694.8 359.1,692 359.8,689.1 360.6,686.3 361.3,683.4 362.1,680.6 362.8,677.8 363.6,675.1 364.3,672.4 365.1,669.7 365.8,667.2 366.6,664.7 367.3,662.3 368.1,660 368.8,657.8 369.6,655.8 370.3,654.1 371.1,652.6 371.8,651.3 372.6,650.4 373.3,649.7 374.1,649.4 374.8,649.3 375.6,649.6 376.3,650.1 377.1,650.8 377.8,651.8 378.6,653 379.4,654.4 380.1,656 380.9,657.8 381.6,659.8 382.4,662 383.1,664.3 383.9,666.8 384.6,669.4 385.4,672.1 386.1,674.9 386.9,677.7 387.6,680.6 388.4,683.5 389.1,686.4 389.9,689.3 390.6,692.1 391.4,694.9 392.1,697.7 392.9,700.5 393.6,703.2 394.4,706 395.1,708.8 395.9,711.6 396.6,714.4 397.4,717.2 398.1,720.1 398.9,723 399.6,725.9 400.4,728.9 401.2,731.9 401.9,734.9 402.7,737.8 403.4,740.8 404.2,743.7 404.9,746.5 405.7,749.3 406.4,751.9 407.2,754.5 407.9,756.9 408.7,759.3 409.4,761.6 410.2,763.8 410.9,765.9 411.7,767.9 412.4,769.8 413.2,771.6 413.9,773.3 414.7,774.9 415.4,776.4 416.2,777.8 416.9,779.1 417.7,780.3 418.4,781.4 419.2,782.4 419.9,783.3 420.7,784.1 421.4,784.9 422.2,785.5 422.9,786 423.7,786.5 424.5,786.8 425.2,787.1 426,787.2 426.7,787.3 427.5,787.3 428.2,787.2 429,787 429.7,786.7 430.5,786.3 431.2,785.8 432,785.2 432.7,784.5 433.5,783.8 434.2,783 435,782.1 435.7,781.1 436.5,780.1 437.2,779.1 438,778 438.7,776.9 439.5,775.8 440.2,774.6 441,773.5 441.7,772.3 442.5,771.2 443.2,770.1 444,769 444.7,767.9 445.5,766.9 446.2,765.9 447,765 447.8,764.2 448.5,763.4 449.3,762.7 450,762 450.8,761.4 451.5,760.9 452.3,760.4 453,760 453.8,759.6 454.5,759.2 455.3,758.9 456,758.7 456.8,758.5 457.5,758.3 458.3,758.1 459,758 459.8,757.9 460.5,757.8 461.3,757.8 462,757.7 462.8,757.7 463.5,757.7 464.3,757.7 465,757.7 465.8,757.7 466.5,757.7 467.3,757.7 468,757.7 468.8,757.7 469.6,757.8 470.3,757.9 471.1,758 471.8,758.1 472.6,758.3 473.3,758.5 474.1,758.7 474.8,758.9 475.6,759.2 476.3,759.6 477.1,759.9 477.8,760.4 478.6,760.9 479.3,761.4 480.1,762 480.8,762.7 481.6,763.4 482.3,764.2 483.1,765 483.8,765.9 484.6,766.9 485.3,767.9 486.1,769 486.8,770.1 487.6,771.2 488.3,772.3 489.1,773.5 489.8,774.6 490.6,775.8 491.3,776.9 492.1,778 492.9,779.1 493.6,780.1 494.4,781.1 495.1,782.1 495.9,783 496.6,783.8 497.4,784.6 498.1,785.2 498.9,785.8 499.6,786.3 500.4,786.6 501.1,786.9 501.9,787.1 502.6,787.3 503.4,787.3 504.1,787.2 504.9,787 505.6,786.8 506.4,786.4 507.1,786 507.9,785.5 508.6,784.8 509.4,784.1 510.1,783.3 510.9,782.4 511.6,781.4 512.4,780.3 513.1,779.1 513.9,777.8 514.6,776.4 515.4,774.9 516.2,773.3 516.9,771.6 517.7,769.8 518.4,768 519.2,766 519.9,763.8 520.7,761.6 521.4,759.3 522.2,756.9 522.9,754.3 523.7,751.5 524.4,748.7 525.2,745.8 525.9,742.9 526.7,739.8 527.4,736.8 528.2,733.6 528.9,730.5 529.7,727.4 530.4,724.3 531.2,721.1 531.9,718.1 532.7,715.1 533.4,712.1 534.2,709.1 534.9,706.1 535.7,703.2 536.4,700.3 537.2,697.3 538,694.4 538.7,691.4 539.5,688.4 540.2,685.4 541,682.4 541.7,679.4 542.5,676.4 543.2,673.5 544,670.6 544.7,667.8 545.5,665 546.2,662.2 547,659.6 547.7,657.1 548.5,654.7 549.2,652.4 550,650.3 550.7,648.5 551.5,646.9 552.2,645.5 553,644.5 553.7,643.9 554.5,643.5 555.2,643.5 556,643.7 556.7,644.2 557.5,645 558.2,646 559,647.3 559.7,648.8 560.5,650.5 561.3,652.4 562,654.5 562.8,656.8 563.5,659.3 564.3,661.9 565,664.6 565.8,667.5 566.5,670.4 567.3,673.4 568,676.4 568.8,679.5 569.5,682.5 570.3,685.5 571,688.5 571.8,691.5 572.5,694.4 573.3,697.4 574,700.3 574.8,703.2 575.5,706.1 576.3,709.1 577,712 577.8,715 578.5,718 579.3,721.1 580,724.2 580.8,727.3 581.5,730.5 582.3,733.6 583,736.8 583.8,739.9 584.6,742.9 585.3,745.9 586.1,748.8 586.8,751.6 587.6,754.3 588.3,756.9 589.1,759.3 589.8,761.6 590.6,763.8 591.3,765.9 592.1,767.9 592.8,769.8 593.6,771.6 594.3,773.3 595.1,774.9 595.8,776.4 596.6,777.8 597.3,779.1 598.1,780.3 598.8,781.4 599.6,782.4 600.3,783.3 601.1,784.1 601.8,784.9 602.6,785.5 603.3,786 604.1,786.5 604.8,786.8 605.6,787.1 606.4,787.2 607.1,787.3 607.9,787.3 608.6,787.2 609.4,787 610.1,786.7 610.9,786.3 611.6,785.8 612.4,785.2 613.1,784.5 613.9,783.8 614.6,783 615.4,782.1 616.1,781.1 616.9,780.1 617.6,779.1 618.4,778 619.1,776.9 619.9,775.8 620.6,774.6 621.4,773.5 622.1,772.3 622.9,771.2 623.6,770.1 624.4,769 625.1,767.9 625.9,766.9 626.6,765.9 627.4,765 628.1,764.2 628.9,763.4 629.7,762.7 630.4,762 631.2,761.4 631.9,760.9 632.7,760.4 633.4,760 634.2,759.6 634.9,759.2 635.7,758.9 636.4,758.7 637.2,758.5 637.9,758.3 638.7,758.1 639.4,758 640.2,757.9 640.9,757.8 641.7,757.8 642.4,757.7 643.2,757.7 643.9,757.7 644.7,757.7 645.4,757.7 646.2,757.7" fill="none" stroke="#0000ff" stroke-width="2.3" stroke-linejoin="round" stroke-dasharray="12.4 8.5" />
<polyline points="105,810.9 105.8,810.9 106.5,810.8 107.3,810.7 108,810.5 108.8,810.3 109.5,810.1 110.3,809.9 111,809.7 111.8,809.5 112.5,809.3 113.3,809.1 114,809 114.8,808.9 115.5,808.9 116.3,808.9 117,809 117.8,809.2 118.5,809.4 119.3,809.7 120,810 120.8,810.3 121.5,810.6 122.3,811 123,811.3 123.8,811.6 124.5,811.9 125.3,812.2 126,812.5 126.8,812.7 127.5,812.8 128.3,812.9 129.1,812.9 129.8,812.9 130.6,812.7 131.3,812.5 132.1,812.1 132.8,811.7 133.6,811.2 134.3,810.5 135.1,809.8 135.8,809 136.6,808.1 137.3,807.1 138.1,805.9 138.8,804.7 139.6,803.4 140.3,801.9 141.1,800.3 141.8,798.6 142.6,796.8 143.3,794.9 144.1,792.9 144.8,790.7 145.6,788.4 146.3,786 147.1,783.5 147.8,780.8 148.6,778 149.3,775.1 150.1,772.1 150.9,769 151.6,765.8 152.4,762.4 153.1,759 153.9,755.4 154.6,751.7 155.4,748 156.1,744.1 156.9,740.2 157.6,736.1 158.4,732 159.1,727.7 159.9,723.4 160.6,719 161.4,714.5 162.1,709.9 162.9,705.2 163.6,700.5 164.4,695.7 165.1,690.8 165.9,685.9 166.6,680.9 167.4,675.8 168.1,670.7 168.9,665.5 169.6,660.3 170.4,655 171.1,649.7 171.9,644.3 172.6,638.9 173.4,633.5 174.2,628.1 174.9,622.7 175.7,617.2 176.4,611.8 177.2,606.4 177.9,601.1 178.7,595.7 179.4,590.5 180.2,585.3 180.9,580.2 181.7,575.1 182.4,570.2 183.2,565.4 183.9,560.7 184.7,556.1 185.4,551.7 186.2,547.4 186.9,543.4 187.7,539.5 188.4,535.8 189.2,532.4 189.9,529.3 190.7,526.6 191.4,524.4 192.2,522.6 192.9,521.3 193.7,520.7 194.4,520.5 195.2,520.9 195.9,521.8 196.7,523.1 197.5,524.9 198.2,527.1 199,529.7 199.7,532.6 200.5,535.9 201.2,539.4 202,543.2 202.7,547.3 203.5,551.6 204.2,556.1 205,560.7 205.7,565.5 206.5,570.3 207.2,575.3 208,580.2 208.7,585.2 209.5,590.3 210.2,595.4 211,600.6 211.7,605.8 212.5,611.2 213.2,616.6 214,622 214.7,627.5 215.5,633 216.2,638.5 217,644 217.7,649.5 218.5,655 219.3,660.4 220,665.8 220.8,671.1 221.5,676.4 222.3,681.5 223,686.6 223.8,691.5 224.5,696.3 225.3,701 226,705.6 226.8,710.2 227.5,714.6 228.3,718.9 229,723.2 229.8,727.5 230.5,731.6 231.3,735.7 232,739.7 232.8,743.7 233.5,747.5 234.3,751.3 235,755 235.8,758.6 236.5,762.1 237.3,765.5 238,768.8 238.8,772 239.5,775.1 240.3,778 241,780.9 241.8,783.6 242.6,786.2 243.3,788.7 244.1,791.1 244.8,793.3 245.6,795.4 246.3,797.4 247.1,799.2 247.8,800.8 248.6,802.4 249.3,803.8 250.1,805 250.8,806.2 251.6,807.2 252.3,808.1 253.1,808.9 253.8,809.6 254.6,810.2 255.3,810.8 256.1,811.2 256.8,811.5 257.6,811.8 258.3,812 259.1,812.2 259.8,812.3 260.6,812.3 261.3,812.3 262.1,812.2 262.8,812.1 263.6,812 264.3,811.9 265.1,811.7 265.9,811.5 266.6,811.3 267.4,811.1 268.1,810.9 268.9,810.7 269.6,810.4 270.4,810.2 271.1,810 271.9,809.9 272.6,809.7 273.4,809.5 274.1,809.4 274.9,809.3 275.6,809.3 276.4,809.2 277.1,809.3 277.9,809.3 278.6,809.4 279.4,809.6 280.1,809.8 280.9,810 281.6,810.2 282.4,810.5 283.1,810.7 283.9,810.8 284.6,810.9 285.4,810.9 286.1,810.9 286.9,810.8 287.7,810.7 288.4,810.5 289.2,810.3 289.9,810.1 290.7,809.9 291.4,809.7 292.2,809.5 292.9,809.3 293.7,809.2 294.4,809 295.2,808.9 295.9,808.9 296.7,809 297.4,809.1 298.2,809.2 298.9,809.4 299.7,809.7 300.4,810 301.2,810.3 301.9,810.6 302.7,810.9 303.4,811.3 304.2,811.6 304.9,811.9 305.7,812.2 306.4,812.5 307.2,812.7 307.9,812.8 308.7,812.9 309.4,812.9 310.2,812.8 311,812.7 311.7,812.4 312.5,812.1 313.2,811.7 314,811.2 314.7,810.5 315.5,809.8 316.2,809 317,808.1 317.7,807.1 318.5,806 319.2,804.8 320,803.5 320.7,802 321.5,800.5 322.2,798.8 323,797.1 323.7,795.2 324.5,793.2 325.2,791 326,788.8 326.7,786.4 327.5,783.9 328.2,781.3 329,778.5 329.7,775.7 330.5,772.7 331.2,769.7 332,766.5 332.7,763.2 333.5,759.8 334.3,756.3 335,752.7 335.8,749 336.5,745.2 337.3,741.3 338,737.3 338.8,733.2 339.5,729 340.3,724.8 341,720.4 341.8,716 342.5,711.5 343.3,706.9 344,702.3 344.8,697.5 345.5,692.7 346.3,687.9 347,682.9 347.8,678 348.5,672.9 349.3,667.8 350,662.7 350.8,657.5 351.5,652.3 352.3,647 353,641.7 353.8,636.4 354.5,631 355.3,625.7 356.1,620.3 356.8,615 357.6,609.7 358.3,604.4 359.1,599.2 359.8,594 360.6,588.9 361.3,583.9 362.1,578.9 362.8,574 363.6,569.3 364.3,564.7 365.1,560.2 365.8,555.8 366.6,551.7 367.3,547.6 368.1,543.8 368.8,540.2 369.6,536.9 370.3,533.8 371.1,531.2 371.8,528.9 372.6,527.2 373.3,526 374.1,525.3 374.8,525.2 375.6,525.5 376.3,526.4 377.1,527.7 377.8,529.5 378.6,531.6 379.4,534.2 380.1,537 380.9,540.2 381.6,543.7 382.4,547.5 383.1,551.5 383.9,555.7 384.6,560.1 385.4,564.7 386.1,569.4 386.9,574.2 387.6,579 388.4,583.9 389.1,588.9 389.9,593.8 390.6,598.8 391.4,603.9 392.1,609.1 392.9,614.4 393.6,619.7 394.4,625 395.1,630.4 395.9,635.8 396.6,641.3 397.4,646.7 398.1,652.1 398.9,657.5 399.6,662.8 400.4,668.1 401.2,673.4 401.9,678.5 402.7,683.6 403.4,688.6 404.2,693.4 404.9,698.2 405.7,702.8 406.4,707.3 407.2,711.8 407.9,716.1 408.7,720.4 409.4,724.6 410.2,728.8 410.9,732.9 411.7,736.9 412.4,740.9 413.2,744.8 413.9,748.6 414.7,752.3 415.4,755.9 416.2,759.4 416.9,762.9 417.7,766.2 418.4,769.5 419.2,772.6 419.9,775.6 420.7,778.6 421.4,781.4 422.2,784.1 422.9,786.6 423.7,789.1 424.5,791.4 425.2,793.6 426,795.7 426.7,797.6 427.5,799.4 428.2,801 429,802.5 429.7,803.9 430.5,805.1 431.2,806.2 432,807.3 432.7,808.2 433.5,809 434.2,809.6 435,810.2 435.7,810.8 436.5,811.2 437.2,811.5 438,811.8 438.7,812 439.5,812.2 440.2,812.2 441,812.3 441.7,812.3 442.5,812.2 443.2,812.1 444,812 444.7,811.8 445.5,811.7 446.2,811.5 447,811.3 447.8,811.1 448.5,810.9 449.3,810.7 450,810.4 450.8,810.2 451.5,810 452.3,809.9 453,809.7 453.8,809.6 454.5,809.4 455.3,809.3 456,809.3 456.8,809.3 457.5,809.3 458.3,809.4 459,809.5 459.8,809.6 460.5,809.8 461.3,810 462,810.3 462.8,810.5 463.5,810.7 464.3,810.8 465,810.9 465.8,810.9 466.5,810.9 467.3,810.8 468,810.7 468.8,810.5 469.6,810.3 470.3,810.1 471.1,809.9 471.8,809.7 472.6,809.5 473.3,809.3 474.1,809.1 474.8,809 475.6,808.9 476.3,808.9 477.1,808.9 477.8,809 478.6,809.2 479.3,809.4 480.1,809.7 480.8,810 481.6,810.3 482.3,810.6 483.1,811 483.8,811.3 484.6,811.6 485.3,812 486.1,812.2 486.8,812.5 487.6,812.7 488.3,812.8 489.1,812.9 489.8,812.9 490.6,812.9 491.3,812.7 492.1,812.5 492.9,812.1 493.6,811.7 494.4,811.2 495.1,810.5 495.9,809.8 496.6,809 497.4,808.1 498.1,807 498.9,805.9 499.6,804.7 500.4,803.3 501.1,801.8 501.9,800.2 502.6,798.5 503.4,796.7 504.1,794.8 504.9,792.7 505.6,790.6 506.4,788.2 507.1,785.8 507.9,783.3 508.6,780.6 509.4,777.8 510.1,774.9 510.9,771.8 511.6,768.7 512.4,765.4 513.1,762.1 513.9,758.6 514.6,755 515.4,751.3 516.2,747.5 516.9,743.6 517.7,739.6 518.4,735.6 519.2,731.4 519.9,727.1 520.7,722.8 521.4,718.3 522.2,713.8 522.9,709.2 523.7,704.5 524.4,699.7 525.2,694.9 525.9,689.9 526.7,685 527.4,679.9 528.2,674.8 528.9,669.7 529.7,664.4 530.4,659.2 531.2,653.9 531.9,648.5 532.7,643.1 533.4,637.7 534.2,632.2 534.9,626.8 535.7,621.3 536.4,615.8 537.2,610.4 538,604.9 538.7,599.5 539.5,594.2 540.2,588.9 541,583.6 541.7,578.5 542.5,573.4 543.2,568.4 544,563.6 544.7,558.8 545.5,554.2 546.2,549.8 547,545.5 547.7,541.4 548.5,537.5 549.2,533.8 550,530.4 550.7,527.3 551.5,524.6 552.2,522.3 553,520.5 553.7,519.2 554.5,518.5 555.2,518.4 556,518.8 556.7,519.7 557.5,521 558.2,522.8 559,525 559.7,527.6 560.5,530.6 561.3,533.8 562,537.4 562.8,541.3 563.5,545.4 564.3,549.7 565,554.2 565.8,558.9 566.5,563.7 567.3,568.6 568,573.5 568.8,578.6 569.5,583.6 570.3,588.7 571,593.8 571.8,599 572.5,604.3 573.3,609.7 574,615.1 574.8,620.6 575.5,626.1 576.3,631.7 577,637.2 577.8,642.8 578.5,648.3 579.3,653.9 580,659.3 580.8,664.8 581.5,670.1 582.3,675.4 583,680.6 583.8,685.7 584.6,690.6 585.3,695.5 586.1,700.2 586.8,704.9 587.6,709.4 588.3,713.9 589.1,718.3 589.8,722.6 590.6,726.9 591.3,731.1 592.1,735.2 592.8,739.2 593.6,743.2 594.3,747.1 595.1,750.9 595.8,754.6 596.6,758.2 597.3,761.7 598.1,765.2 598.8,768.5 599.6,771.7 600.3,774.8 601.1,777.8 601.8,780.7 602.6,783.4 603.3,786.1 604.1,788.6 604.8,791 605.6,793.2 606.4,795.3 607.1,797.3 607.9,799.1 608.6,800.8 609.4,802.3 610.1,803.7 610.9,805 611.6,806.1 612.4,807.2 613.1,808.1 613.9,808.9 614.6,809.6 615.4,810.2 616.1,810.8 616.9,811.2 617.6,811.6 618.4,811.8 619.1,812 619.9,812.2 620.6,812.3 621.4,812.3 622.1,812.3 622.9,812.2 623.6,812.2 624.4,812 625.1,811.9 625.9,811.7 626.6,811.5 627.4,811.3 628.1,811.1 628.9,810.9 629.7,810.7 630.4,810.4 631.2,810.2 631.9,810 632.7,809.8 633.4,809.7 634.2,809.5 634.9,809.4 635.7,809.3 636.4,809.3 637.2,809.2 637.9,809.3 638.7,809.3 639.4,809.4 640.2,809.6 640.9,809.8 641.7,810 642.4,810.2 643.2,810.5 643.9,810.7 644.7,810.8 645.4,810.9 646.2,810.9" fill="none" stroke="#ff0000" stroke-width="2.4" stroke-linejoin="round" />
</g>
<line x1="105" y1="503.5" x2="105" y2="828.8" stroke="#000" stroke-width="2.5" />
<line x1="104" y1="827.8" x2="646.5" y2="827.8" stroke="#000" stroke-width="2.5" />
<line x1="93" y1="789" x2="105" y2="789" stroke="#000" stroke-width="2.5" />
<text x="84" y="796.5" font-size="24.6" text-anchor="end" >0.4</text>
<line x1="93" y1="744" x2="105" y2="744" stroke="#000" stroke-width="2.5" />
<text x="84" y="751.5" font-size="24.6" text-anchor="end" >0.5</text>
<line x1="93" y1="699" x2="105" y2="699" stroke="#000" stroke-width="2.5" />
<text x="84" y="706.5" font-size="24.6" text-anchor="end" >0.6</text>
<line x1="93" y1="654" x2="105" y2="654" stroke="#000" stroke-width="2.5" />
<text x="84" y="661.5" font-size="24.6" text-anchor="end" >0.7</text>
<line x1="93" y1="609" x2="105" y2="609" stroke="#000" stroke-width="2.5" />
<text x="84" y="616.5" font-size="24.6" text-anchor="end" >0.8</text>
<line x1="93" y1="564" x2="105" y2="564" stroke="#000" stroke-width="2.5" />
<text x="84" y="571.5" font-size="24.6" text-anchor="end" >0.9</text>
<line x1="93" y1="519" x2="105" y2="519" stroke="#000" stroke-width="2.5" />
<text x="84" y="526.5" font-size="24.6" text-anchor="end" >1.0</text>
<line x1="105" y1="827.8" x2="105" y2="839.8" stroke="#000" stroke-width="2.5" />
<text x="105" y="864.4" font-size="24.6" text-anchor="middle" >0</text>
<line x1="195.2" y1="827.8" x2="195.2" y2="839.8" stroke="#000" stroke-width="2.5" />
<text x="196.7" y="864.4" font-size="24.6" text-anchor="middle" >60</text>
<line x1="285.4" y1="827.8" x2="285.4" y2="839.8" stroke="#000" stroke-width="2.5" />
<text x="287.9" y="864.4" font-size="24.6" text-anchor="middle" >120</text>
<line x1="375.6" y1="827.8" x2="375.6" y2="839.8" stroke="#000" stroke-width="2.5" />
<text x="378.1" y="864.4" font-size="24.6" text-anchor="middle" >180</text>
<line x1="465.8" y1="827.8" x2="465.8" y2="839.8" stroke="#000" stroke-width="2.5" />
<text x="467.3" y="864.4" font-size="24.6" text-anchor="middle" >240</text>
<line x1="556" y1="827.8" x2="556" y2="839.8" stroke="#000" stroke-width="2.5" />
<text x="557.5" y="864.4" font-size="24.6" text-anchor="middle" >300</text>
<text x="235" y="900" font-size="24.6" letter-spacing="0.175" >Pump trefoil rotation</text>
<text x="467" y="900" font-size="24.6" >(º)</text>
<text x="29.5" y="651" font-size="24.6" text-anchor="middle" transform="rotate(-90 29.5 651)" >3<tspan font-style="italic" font-family="'Liberation Serif', serif">ω</tspan> yield (norm.)</text>
<text x="147.5" y="811.3" font-size="24.6" >Theory</text>
<text transform="translate(0.3 495.2) scale(1.09 0.97)" font-size="32.5" font-weight="bold" stroke="#000" stroke-width="1.1" stroke-linejoin="round">c</text>
<line x1="185.5" y1="498.3" x2="217" y2="498.3" stroke="#0000ff" stroke-width="2.2" stroke-dasharray="6.6 4.4"/>
<text x="227.5" y="505.8" font-size="24.6" letter-spacing="0.605" >Co-rot.</text>
<line x1="341" y1="498.3" x2="370.5" y2="498.3" stroke="#ff0000" stroke-width="2.2" />
<text x="380.5" y="505.8" font-size="24.6" letter-spacing="0.189" >Counter-rot.</text>
</g>
<g id="panel-c-bars">
<rect x="780.3" y="563.3" width="29.7" height="199" fill="#ff0000" fill-opacity="0.5"/>
<rect x="780.3" y="691.7" width="29.7" height="70.6" fill="#0000ff" fill-opacity="0.5"/>
<rect x="840.4" y="677.5" width="29.7" height="84.8" fill="#ff0000" fill-opacity="0.5"/>
<rect x="840.4" y="699.6" width="29.7" height="62.7" fill="#0000ff" fill-opacity="0.5"/>
<rect x="900.2" y="742.8" width="29.7" height="19.5" fill="#ff0000" fill-opacity="0.5"/>
<rect x="900.2" y="751.6" width="29.7" height="10.7" fill="#0000ff" fill-opacity="0.5"/>
<line x1="764.3" y1="552.5" x2="764.3" y2="763.3" stroke="#000" stroke-width="2.7" />
<line x1="763.3" y1="762.3" x2="947.5" y2="762.3" stroke="#000" stroke-width="2.7" />
<line x1="757.8" y1="762.3" x2="764.3" y2="762.3" stroke="#000" stroke-width="2.5" />
<text x="748" y="774.3" font-size="24.6" text-anchor="end" >0</text>
<line x1="757.8" y1="662.8" x2="764.3" y2="662.8" stroke="#000" stroke-width="2.5" />
<text x="748" y="670.3" font-size="24.6" text-anchor="end" >0.5</text>
<line x1="757.8" y1="563.3" x2="764.3" y2="563.3" stroke="#000" stroke-width="2.5" />
<text x="748" y="570.8" font-size="24.6" text-anchor="end" >1.0</text>
<line x1="795.2" y1="762.3" x2="795.2" y2="769.3" stroke="#000" stroke-width="2.5" />
<text x="795.2" y="794.5" font-size="24.6" text-anchor="middle" >1</text>
<line x1="855.3" y1="762.3" x2="855.3" y2="769.3" stroke="#000" stroke-width="2.5" />
<text x="855.3" y="794.5" font-size="24.6" text-anchor="middle" >2</text>
<line x1="915.1" y1="762.3" x2="915.1" y2="769.3" stroke="#000" stroke-width="2.5" />
<text x="915.1" y="794.5" font-size="24.6" text-anchor="middle" >3</text>
<text x="770.5" y="822.8" font-size="24.6" letter-spacing="0.335" >Rotation period</text>
<text x="857.5" y="853" font-size="24.6" text-anchor="middle" >(deg<tspan font-size="17" dy="-9.5">−1</tspan><tspan dy="9.5"> × 120)</tspan></text>
<text x="696" y="662" font-size="24.6" text-anchor="middle" transform="rotate(-90 696 662)" >FFT amp. (norm.)</text>
<rect x="784.5" y="502" width="18" height="18" fill="#ff0000" fill-opacity="0.5"/>
<text x="813.7" y="523.2" font-size="24.6" letter-spacing="0.207" >Counter-rot.</text>
<rect x="784.5" y="530.8" width="18" height="18" fill="#0000ff" fill-opacity="0.5"/>
<text x="813.2" y="552.6" font-size="24.6" letter-spacing="0.538" >Co-rot.</text>
</g>
<g id="panel-d">
<g clip-path="url(#cd)">
<polygon points="1087.5,665.8 1087.5,693.1 1088.3,692.6 1089,692.1 1089.8,691.6 1090.5,691.1 1091.3,690.6 1092,690.1 1092.8,689.6 1093.5,689 1094.3,688.5 1095,688 1095.8,687.5 1096.5,686.9 1097.3,686.4 1098,685.9 1098.8,685.3 1099.5,684.7 1100.3,684.2 1101,683.6 1101.8,683 1102.5,682.4 1103.3,681.8 1104,681.1 1104.8,680.5 1105.5,679.8 1106.3,679.2 1107,678.5 1107.8,677.8 1108.5,677 1109.3,676.3 1110,675.6 1110.8,674.8 1111.6,674 1112.3,673.2 1113.1,672.5 1113.8,671.7 1114.6,670.9 1115.3,670.2 1116.1,669.4 1116.8,668.7 1117.6,668 1118.3,667.2 1119.1,666.5 1119.8,665.7 1120.6,665 1121.3,664.2 1122.1,663.4 1122.8,662.6 1123.6,661.8 1124.3,660.9 1125.1,660.1 1125.8,659.2 1126.6,658.4 1127.3,657.5 1128.1,656.6 1128.8,655.8 1129.6,655 1130.3,654.3 1131.1,653.5 1131.8,652.9 1132.6,652.2 1133.4,651.6 1134.1,651 1134.9,650.4 1135.6,649.9 1136.4,649.3 1137.1,648.7 1137.9,648 1138.6,647.4 1139.4,646.7 1140.1,646 1140.9,645.3 1141.6,644.6 1142.4,643.9 1143.1,643.2 1143.9,642.5 1144.6,641.9 1145.4,641.3 1146.1,640.7 1146.9,640.1 1147.6,639.6 1148.4,639.1 1149.1,638.7 1149.9,638.2 1150.6,637.8 1151.4,637.4 1152.1,637 1152.9,636.7 1153.6,636.3 1154.4,636 1155.1,635.7 1155.9,635.3 1156.7,635 1157.4,634.7 1158.2,634.5 1158.9,634.2 1159.7,633.9 1160.4,633.7 1161.2,633.4 1161.9,633.2 1162.7,632.9 1163.4,632.7 1164.2,632.5 1164.9,632.3 1165.7,632.1 1166.4,632 1167.2,631.9 1167.9,631.8 1168.7,631.7 1169.4,631.8 1170.2,631.8 1170.9,631.9 1171.7,632.1 1172.4,632.2 1173.2,632.4 1173.9,632.6 1174.7,632.9 1175.4,633.1 1176.2,633.3 1176.9,633.6 1177.7,633.9 1178.4,634.1 1179.2,634.4 1180,634.7 1180.7,635 1181.5,635.3 1182.2,635.7 1183,636 1183.7,636.4 1184.5,636.8 1185.2,637.2 1186,637.6 1186.7,638.1 1187.5,638.5 1188.2,639 1189,639.5 1189.7,640 1190.5,640.5 1191.2,641.1 1192,641.6 1192.7,642.2 1193.5,642.7 1194.2,643.3 1195,643.9 1195.7,644.5 1196.5,645.1 1197.2,645.8 1198,646.4 1198.7,647.1 1199.5,647.7 1200.2,648.4 1201,649.1 1201.8,649.8 1202.5,650.5 1203.3,651.3 1204,652.1 1204.8,652.8 1205.5,653.7 1206.3,654.5 1207,655.4 1207.8,656.3 1208.5,657.3 1209.3,658.2 1210,659.2 1210.8,660.2 1211.5,661.2 1212.3,662.2 1213,663.1 1213.8,664.1 1214.5,665 1215.3,665.8 1216,666.7 1216.8,667.4 1217.5,668.2 1218.3,668.9 1219,669.6 1219.8,670.3 1220.5,671 1221.3,671.6 1222,672.3 1222.8,673 1223.5,673.7 1224.3,674.4 1225.1,675.1 1225.8,675.9 1226.6,676.6 1227.3,677.4 1228.1,678.1 1228.8,678.9 1229.6,679.6 1230.3,680.4 1231.1,681.2 1231.8,681.9 1232.6,682.7 1233.3,683.4 1234.1,684.2 1234.8,684.9 1235.6,685.7 1236.3,686.4 1237.1,687.1 1237.8,687.9 1238.6,688.6 1239.3,689.2 1240.1,689.9 1240.8,690.6 1241.6,691.2 1242.3,691.8 1243.1,692.4 1243.8,693 1244.6,693.6 1245.3,694.1 1246.1,694.6 1246.8,695.1 1247.6,695.6 1248.4,696.1 1249.1,696.5 1249.9,696.9 1250.6,697.3 1251.4,697.7 1252.1,698 1252.9,698.3 1253.6,698.6 1254.4,698.9 1255.1,699.2 1255.9,699.5 1256.6,699.7 1257.4,699.9 1258.1,700.1 1258.9,700.3 1259.6,700.4 1260.4,700.6 1261.1,700.7 1261.9,700.8 1262.6,700.9 1263.4,701 1264.1,701 1264.9,701 1265.6,701 1266.4,701 1267.1,701 1267.9,700.9 1268.6,700.9 1269.4,700.8 1270.2,700.6 1270.9,700.5 1271.7,700.3 1272.4,700.1 1273.2,699.9 1273.9,699.7 1274.7,699.4 1275.4,699.2 1276.2,698.9 1276.9,698.5 1277.7,698.2 1278.4,697.8 1279.2,697.4 1279.9,697 1280.7,696.5 1281.4,696.1 1282.2,695.6 1282.9,695 1283.7,694.5 1284.4,693.9 1285.2,693.3 1285.9,692.7 1286.7,692 1287.4,691.3 1288.2,690.6 1288.9,689.8 1289.7,689.1 1290.4,688.3 1291.2,687.4 1291.9,686.6 1292.7,685.7 1293.5,684.9 1294.2,684 1295,683.1 1295.7,682.2 1296.5,681.2 1297.2,680.3 1298,679.4 1298.7,678.4 1299.5,677.5 1300.2,676.6 1301,675.6 1301.7,674.7 1302.5,673.8 1303.2,672.9 1304,672 1304.7,671.1 1305.5,670.2 1306.2,669.4 1307,668.5 1307.7,667.7 1308.5,666.9 1309.2,666.2 1310,665.4 1310.7,664.7 1311.5,664 1312.2,663.3 1313,662.6 1313.7,661.9 1314.5,661.3 1315.2,660.6 1316,659.9 1316.8,659.2 1317.5,658.5 1318.3,657.8 1319,657 1319.8,656.3 1320.5,655.5 1321.3,654.8 1322,654 1322.8,653.3 1323.5,652.5 1324.3,651.7 1325,651 1325.8,650.3 1326.5,649.5 1327.3,648.8 1328,648.2 1328.8,647.5 1329.5,646.9 1330.3,646.2 1331,645.6 1331.8,645 1332.5,644.4 1333.3,643.8 1334,643.2 1334.8,642.6 1335.5,642 1336.3,641.4 1337,640.7 1337.8,640.1 1338.6,639.5 1339.3,638.9 1340.1,638.3 1340.8,637.7 1341.6,637.2 1342.3,636.6 1343.1,636.1 1343.8,635.6 1344.6,635.1 1345.3,634.7 1346.1,634.3 1346.8,633.9 1347.6,633.6 1348.3,633.3 1349.1,633 1349.8,632.7 1350.6,632.5 1351.3,632.3 1352.1,632.1 1352.8,631.9 1353.6,631.7 1354.3,631.5 1355.1,631.3 1355.8,631.2 1356.6,631 1357.3,630.9 1358.1,630.8 1358.8,630.7 1359.6,630.6 1360.3,630.5 1361.1,630.5 1361.9,630.5 1362.6,630.5 1363.4,630.6 1364.1,630.6 1364.9,630.7 1365.6,630.9 1366.4,631 1367.1,631.2 1367.9,631.4 1368.6,631.7 1369.4,631.9 1370.1,632.2 1370.9,632.5 1371.6,632.8 1372.4,633.2 1373.1,633.5 1373.9,633.9 1374.6,634.4 1375.4,634.8 1376.1,635.3 1376.9,635.7 1377.6,636.2 1378.4,636.8 1379.1,637.3 1379.9,637.9 1380.6,638.4 1381.4,639 1382.1,639.6 1382.9,640.3 1383.7,640.9 1384.4,641.6 1385.2,642.2 1385.9,642.9 1386.7,643.6 1387.4,644.3 1388.2,645 1388.9,645.6 1389.7,646.4 1390.4,647.1 1391.2,647.8 1391.9,648.5 1392.7,649.2 1393.4,650 1394.2,650.7 1394.9,651.5 1395.7,652.3 1396.4,653.1 1397.2,653.9 1397.9,654.7 1398.7,655.5 1399.4,656.4 1400.2,657.3 1400.9,658.2 1401.7,659.1 1402.4,660 1403.2,661 1403.9,661.9 1404.7,662.9 1405.4,663.9 1406.2,664.9 1407,665.8 1407.7,666.8 1408.5,667.7 1409.2,668.6 1410,669.5 1410.7,670.3 1411.5,671.1 1412.2,672 1413,672.7 1413.7,673.5 1414.5,674.2 1415.2,674.9 1416,675.6 1416.7,676.3 1417.5,677 1418.2,677.7 1419,678.3 1419.7,679 1420.5,679.7 1421.2,680.3 1422,681 1422.7,681.7 1423.5,682.4 1424.2,683.1 1425,683.8 1425.7,684.5 1426.5,685.3 1427.2,686 1428,686.7 1428.7,687.3 1429.5,688 1430.3,688.6 1431,689.2 1431.8,689.8 1432.5,690.4 1433.3,690.9 1434,691.4 1434.8,691.9 1435.5,692.3 1436.3,692.7 1437,693.1 1437.8,693.5 1438.5,693.9 1439.3,694.2 1440,694.6 1440.8,694.9 1441.5,695.2 1442.3,695.5 1443,695.8 1443.8,696.1 1444.5,696.4 1445.3,696.6 1446,696.9 1446.8,697.1 1447.5,697.3 1448.3,697.5 1449,697.7 1449.8,697.8 1450.5,698 1451.3,698.1 1452.1,698.2 1452.8,698.3 1453.6,698.4 1454.3,698.4 1455.1,698.5 1455.8,698.5 1456.6,698.5 1457.3,698.4 1458.1,698.4 1458.8,698.3 1459.6,698.2 1460.3,698.1 1461.1,697.9 1461.8,697.8 1462.6,697.6 1463.3,697.4 1464.1,697.1 1464.8,696.9 1465.6,696.6 1466.3,696.3 1467.1,696 1467.8,695.7 1468.6,695.4 1469.3,695 1470.1,694.7 1470.8,694.3 1471.6,694 1472.3,693.6 1473.1,693.3 1473.8,692.9 1474.6,692.5 1475.4,692 1476.1,691.5 1476.9,691 1477.6,690.4 1478.4,689.7 1479.1,688.9 1479.9,688 1480.6,687.1 1481.4,686 1482.1,684.9 1482.9,683.7 1483.6,682.6 1484.4,681.4 1485.1,680.3 1485.9,679.3 1486.6,678.3 1487.4,677.4 1488.1,676.7 1488.9,676 1489.6,675.4 1490.4,674.9 1491.1,674.5 1491.9,674 1492.6,673.6 1493.4,673.2 1494.1,672.8 1494.9,672.4 1495.6,672 1496.4,671.5 1497.1,671 1497.9,670.5 1498.7,669.8 1499.4,669.2 1500.2,668.5 1500.9,667.8 1501.7,667 1502.4,666.2 1503.2,665.4 1503.9,664.6 1504.7,663.8 1505.4,662.9 1506.2,662.1 1506.9,661.2 1507.7,660.4 1508.4,659.5 1509.2,658.7 1509.9,657.8 1510.7,657 1511.4,656.2 1512.2,655.4 1512.9,654.6 1513.7,653.8 1514.4,653.1 1515.2,652.3 1515.9,651.6 1516.7,650.9 1517.4,650.2 1518.2,649.5 1518.9,648.8 1519.7,648.2 1520.5,647.6 1521.2,646.9 1522,646.3 1522.7,645.7 1523.5,645.2 1524.2,644.6 1525,644.1 1525.7,643.5 1526.5,643 1527.2,642.5 1528,642.1 1528.7,641.6 1529.5,641.2 1530.2,640.8 1531,640.4 1531.7,640 1532.5,639.6 1533.2,639.3 1534,639 1534.7,638.7 1535.5,638.4 1536.2,638.2 1537,637.9 1537.7,637.7 1538.5,637.5 1539.2,637.3 1540,637.1 1540.7,637 1541.5,636.9 1542.2,636.8 1543,636.7 1543.8,636.6 1544.5,636.5 1545.3,636.5 1546,636.5 1546.8,636.5 1547.5,636.5 1548.3,636.5 1549,636.6 1549.8,636.7 1550.5,636.7 1551.3,636.8 1552,637 1552.8,637.1 1553.5,637.3 1554.3,637.4 1555,637.6 1555.8,637.8 1556.5,638 1557.3,638.3 1558,638.5 1558.8,638.8 1559.5,639.1 1560.3,639.4 1561,639.7 1561.8,640 1562.5,640.4 1563.3,640.7 1564,641.1 1564.8,641.5 1565.5,641.9 1566.3,642.3 1567.1,642.7 1567.8,643.1 1568.6,643.6 1569.3,644.1 1570.1,644.6 1570.8,645 1571.6,645.6 1572.3,646.1 1573.1,646.6 1573.8,647.2 1574.6,647.7 1575.3,648.3 1576.1,648.9 1576.8,649.5 1577.6,650.1 1578.3,650.7 1579.1,651.3 1579.8,651.9 1580.6,652.6 1581.3,653.2 1582.1,653.9 1582.8,654.5 1583.6,655.2 1584.3,655.9 1585.1,656.5 1585.8,657.2 1586.6,657.9 1587.3,658.6 1588.1,659.2 1588.9,659.9 1589.6,660.6 1590.4,661.3 1591.1,661.9 1591.9,662.6 1592.6,663.3 1593.4,663.9 1594.1,664.6 1594.9,665.2 1595.6,665.9 1596.4,666.5 1597.1,667.1 1597.9,667.8 1598.6,668.4 1599.4,669.1 1600.1,669.8 1600.9,670.5 1601.6,671.2 1602.4,672 1603.1,672.8 1603.9,673.6 1604.6,674.4 1605.4,675.2 1606.1,676 1606.9,676.7 1607.6,677.4 1608.4,678.1 1609.1,678.6 1609.9,679.2 1610.6,679.7 1611.4,680.1 1612.2,680.5 1612.9,681 1613.7,681.4 1614.4,681.8 1615.2,682.2 1615.9,682.5 1616.7,682.9 1617.4,683.3 1618.2,683.7 1618.9,684.1 1619.7,684.4 1620.4,684.8 1621.2,685.1 1621.9,685.4 1622.7,685.7 1623.4,686.1 1624.2,686.4 1624.9,686.6 1625.7,686.9 1626.4,687.2 1627.2,687.5 1627.9,687.7 1628.7,688 1629.4,688.2 1630.2,688.5 1630.9,688.7 1631.7,688.9 1631.7,665.8" fill="#ff0000" fill-opacity="0.2" clip-path="url(#cdp)"/>
<polygon points="1087.5,665.8 1087.5,693.1 1088.3,692.6 1089,692.1 1089.8,691.6 1090.5,691.1 1091.3,690.6 1092,690.1 1092.8,689.6 1093.5,689 1094.3,688.5 1095,688 1095.8,687.5 1096.5,686.9 1097.3,686.4 1098,685.9 1098.8,685.3 1099.5,684.7 1100.3,684.2 1101,683.6 1101.8,683 1102.5,682.4 1103.3,681.8 1104,681.1 1104.8,680.5 1105.5,679.8 1106.3,679.2 1107,678.5 1107.8,677.8 1108.5,677 1109.3,676.3 1110,675.6 1110.8,674.8 1111.6,674 1112.3,673.2 1113.1,672.5 1113.8,671.7 1114.6,670.9 1115.3,670.2 1116.1,669.4 1116.8,668.7 1117.6,668 1118.3,667.2 1119.1,666.5 1119.8,665.7 1120.6,665 1121.3,664.2 1122.1,663.4 1122.8,662.6 1123.6,661.8 1124.3,660.9 1125.1,660.1 1125.8,659.2 1126.6,658.4 1127.3,657.5 1128.1,656.6 1128.8,655.8 1129.6,655 1130.3,654.3 1131.1,653.5 1131.8,652.9 1132.6,652.2 1133.4,651.6 1134.1,651 1134.9,650.4 1135.6,649.9 1136.4,649.3 1137.1,648.7 1137.9,648 1138.6,647.4 1139.4,646.7 1140.1,646 1140.9,645.3 1141.6,644.6 1142.4,643.9 1143.1,643.2 1143.9,642.5 1144.6,641.9 1145.4,641.3 1146.1,640.7 1146.9,640.1 1147.6,639.6 1148.4,639.1 1149.1,638.7 1149.9,638.2 1150.6,637.8 1151.4,637.4 1152.1,637 1152.9,636.7 1153.6,636.3 1154.4,636 1155.1,635.7 1155.9,635.3 1156.7,635 1157.4,634.7 1158.2,634.5 1158.9,634.2 1159.7,633.9 1160.4,633.7 1161.2,633.4 1161.9,633.2 1162.7,632.9 1163.4,632.7 1164.2,632.5 1164.9,632.3 1165.7,632.1 1166.4,632 1167.2,631.9 1167.9,631.8 1168.7,631.7 1169.4,631.8 1170.2,631.8 1170.9,631.9 1171.7,632.1 1172.4,632.2 1173.2,632.4 1173.9,632.6 1174.7,632.9 1175.4,633.1 1176.2,633.3 1176.9,633.6 1177.7,633.9 1178.4,634.1 1179.2,634.4 1180,634.7 1180.7,635 1181.5,635.3 1182.2,635.7 1183,636 1183.7,636.4 1184.5,636.8 1185.2,637.2 1186,637.6 1186.7,638.1 1187.5,638.5 1188.2,639 1189,639.5 1189.7,640 1190.5,640.5 1191.2,641.1 1192,641.6 1192.7,642.2 1193.5,642.7 1194.2,643.3 1195,643.9 1195.7,644.5 1196.5,645.1 1197.2,645.8 1198,646.4 1198.7,647.1 1199.5,647.7 1200.2,648.4 1201,649.1 1201.8,649.8 1202.5,650.5 1203.3,651.3 1204,652.1 1204.8,652.8 1205.5,653.7 1206.3,654.5 1207,655.4 1207.8,656.3 1208.5,657.3 1209.3,658.2 1210,659.2 1210.8,660.2 1211.5,661.2 1212.3,662.2 1213,663.1 1213.8,664.1 1214.5,665 1215.3,665.8 1216,666.7 1216.8,667.4 1217.5,668.2 1218.3,668.9 1219,669.6 1219.8,670.3 1220.5,671 1221.3,671.6 1222,672.3 1222.8,673 1223.5,673.7 1224.3,674.4 1225.1,675.1 1225.8,675.9 1226.6,676.6 1227.3,677.4 1228.1,678.1 1228.8,678.9 1229.6,679.6 1230.3,680.4 1231.1,681.2 1231.8,681.9 1232.6,682.7 1233.3,683.4 1234.1,684.2 1234.8,684.9 1235.6,685.7 1236.3,686.4 1237.1,687.1 1237.8,687.9 1238.6,688.6 1239.3,689.2 1240.1,689.9 1240.8,690.6 1241.6,691.2 1242.3,691.8 1243.1,692.4 1243.8,693 1244.6,693.6 1245.3,694.1 1246.1,694.6 1246.8,695.1 1247.6,695.6 1248.4,696.1 1249.1,696.5 1249.9,696.9 1250.6,697.3 1251.4,697.7 1252.1,698 1252.9,698.3 1253.6,698.6 1254.4,698.9 1255.1,699.2 1255.9,699.5 1256.6,699.7 1257.4,699.9 1258.1,700.1 1258.9,700.3 1259.6,700.4 1260.4,700.6 1261.1,700.7 1261.9,700.8 1262.6,700.9 1263.4,701 1264.1,701 1264.9,701 1265.6,701 1266.4,701 1267.1,701 1267.9,700.9 1268.6,700.9 1269.4,700.8 1270.2,700.6 1270.9,700.5 1271.7,700.3 1272.4,700.1 1273.2,699.9 1273.9,699.7 1274.7,699.4 1275.4,699.2 1276.2,698.9 1276.9,698.5 1277.7,698.2 1278.4,697.8 1279.2,697.4 1279.9,697 1280.7,696.5 1281.4,696.1 1282.2,695.6 1282.9,695 1283.7,694.5 1284.4,693.9 1285.2,693.3 1285.9,692.7 1286.7,692 1287.4,691.3 1288.2,690.6 1288.9,689.8 1289.7,689.1 1290.4,688.3 1291.2,687.4 1291.9,686.6 1292.7,685.7 1293.5,684.9 1294.2,684 1295,683.1 1295.7,682.2 1296.5,681.2 1297.2,680.3 1298,679.4 1298.7,678.4 1299.5,677.5 1300.2,676.6 1301,675.6 1301.7,674.7 1302.5,673.8 1303.2,672.9 1304,672 1304.7,671.1 1305.5,670.2 1306.2,669.4 1307,668.5 1307.7,667.7 1308.5,666.9 1309.2,666.2 1310,665.4 1310.7,664.7 1311.5,664 1312.2,663.3 1313,662.6 1313.7,661.9 1314.5,661.3 1315.2,660.6 1316,659.9 1316.8,659.2 1317.5,658.5 1318.3,657.8 1319,657 1319.8,656.3 1320.5,655.5 1321.3,654.8 1322,654 1322.8,653.3 1323.5,652.5 1324.3,651.7 1325,651 1325.8,650.3 1326.5,649.5 1327.3,648.8 1328,648.2 1328.8,647.5 1329.5,646.9 1330.3,646.2 1331,645.6 1331.8,645 1332.5,644.4 1333.3,643.8 1334,643.2 1334.8,642.6 1335.5,642 1336.3,641.4 1337,640.7 1337.8,640.1 1338.6,639.5 1339.3,638.9 1340.1,638.3 1340.8,637.7 1341.6,637.2 1342.3,636.6 1343.1,636.1 1343.8,635.6 1344.6,635.1 1345.3,634.7 1346.1,634.3 1346.8,633.9 1347.6,633.6 1348.3,633.3 1349.1,633 1349.8,632.7 1350.6,632.5 1351.3,632.3 1352.1,632.1 1352.8,631.9 1353.6,631.7 1354.3,631.5 1355.1,631.3 1355.8,631.2 1356.6,631 1357.3,630.9 1358.1,630.8 1358.8,630.7 1359.6,630.6 1360.3,630.5 1361.1,630.5 1361.9,630.5 1362.6,630.5 1363.4,630.6 1364.1,630.6 1364.9,630.7 1365.6,630.9 1366.4,631 1367.1,631.2 1367.9,631.4 1368.6,631.7 1369.4,631.9 1370.1,632.2 1370.9,632.5 1371.6,632.8 1372.4,633.2 1373.1,633.5 1373.9,633.9 1374.6,634.4 1375.4,634.8 1376.1,635.3 1376.9,635.7 1377.6,636.2 1378.4,636.8 1379.1,637.3 1379.9,637.9 1380.6,638.4 1381.4,639 1382.1,639.6 1382.9,640.3 1383.7,640.9 1384.4,641.6 1385.2,642.2 1385.9,642.9 1386.7,643.6 1387.4,644.3 1388.2,645 1388.9,645.6 1389.7,646.4 1390.4,647.1 1391.2,647.8 1391.9,648.5 1392.7,649.2 1393.4,650 1394.2,650.7 1394.9,651.5 1395.7,652.3 1396.4,653.1 1397.2,653.9 1397.9,654.7 1398.7,655.5 1399.4,656.4 1400.2,657.3 1400.9,658.2 1401.7,659.1 1402.4,660 1403.2,661 1403.9,661.9 1404.7,662.9 1405.4,663.9 1406.2,664.9 1407,665.8 1407.7,666.8 1408.5,667.7 1409.2,668.6 1410,669.5 1410.7,670.3 1411.5,671.1 1412.2,672 1413,672.7 1413.7,673.5 1414.5,674.2 1415.2,674.9 1416,675.6 1416.7,676.3 1417.5,677 1418.2,677.7 1419,678.3 1419.7,679 1420.5,679.7 1421.2,680.3 1422,681 1422.7,681.7 1423.5,682.4 1424.2,683.1 1425,683.8 1425.7,684.5 1426.5,685.3 1427.2,686 1428,686.7 1428.7,687.3 1429.5,688 1430.3,688.6 1431,689.2 1431.8,689.8 1432.5,690.4 1433.3,690.9 1434,691.4 1434.8,691.9 1435.5,692.3 1436.3,692.7 1437,693.1 1437.8,693.5 1438.5,693.9 1439.3,694.2 1440,694.6 1440.8,694.9 1441.5,695.2 1442.3,695.5 1443,695.8 1443.8,696.1 1444.5,696.4 1445.3,696.6 1446,696.9 1446.8,697.1 1447.5,697.3 1448.3,697.5 1449,697.7 1449.8,697.8 1450.5,698 1451.3,698.1 1452.1,698.2 1452.8,698.3 1453.6,698.4 1454.3,698.4 1455.1,698.5 1455.8,698.5 1456.6,698.5 1457.3,698.4 1458.1,698.4 1458.8,698.3 1459.6,698.2 1460.3,698.1 1461.1,697.9 1461.8,697.8 1462.6,697.6 1463.3,697.4 1464.1,697.1 1464.8,696.9 1465.6,696.6 1466.3,696.3 1467.1,696 1467.8,695.7 1468.6,695.4 1469.3,695 1470.1,694.7 1470.8,694.3 1471.6,694 1472.3,693.6 1473.1,693.3 1473.8,692.9 1474.6,692.5 1475.4,692 1476.1,691.5 1476.9,691 1477.6,690.4 1478.4,689.7 1479.1,688.9 1479.9,688 1480.6,687.1 1481.4,686 1482.1,684.9 1482.9,683.7 1483.6,682.6 1484.4,681.4 1485.1,680.3 1485.9,679.3 1486.6,678.3 1487.4,677.4 1488.1,676.7 1488.9,676 1489.6,675.4 1490.4,674.9 1491.1,674.5 1491.9,674 1492.6,673.6 1493.4,673.2 1494.1,672.8 1494.9,672.4 1495.6,672 1496.4,671.5 1497.1,671 1497.9,670.5 1498.7,669.8 1499.4,669.2 1500.2,668.5 1500.9,667.8 1501.7,667 1502.4,666.2 1503.2,665.4 1503.9,664.6 1504.7,663.8 1505.4,662.9 1506.2,662.1 1506.9,661.2 1507.7,660.4 1508.4,659.5 1509.2,658.7 1509.9,657.8 1510.7,657 1511.4,656.2 1512.2,655.4 1512.9,654.6 1513.7,653.8 1514.4,653.1 1515.2,652.3 1515.9,651.6 1516.7,650.9 1517.4,650.2 1518.2,649.5 1518.9,648.8 1519.7,648.2 1520.5,647.6 1521.2,646.9 1522,646.3 1522.7,645.7 1523.5,645.2 1524.2,644.6 1525,644.1 1525.7,643.5 1526.5,643 1527.2,642.5 1528,642.1 1528.7,641.6 1529.5,641.2 1530.2,640.8 1531,640.4 1531.7,640 1532.5,639.6 1533.2,639.3 1534,639 1534.7,638.7 1535.5,638.4 1536.2,638.2 1537,637.9 1537.7,637.7 1538.5,637.5 1539.2,637.3 1540,637.1 1540.7,637 1541.5,636.9 1542.2,636.8 1543,636.7 1543.8,636.6 1544.5,636.5 1545.3,636.5 1546,636.5 1546.8,636.5 1547.5,636.5 1548.3,636.5 1549,636.6 1549.8,636.7 1550.5,636.7 1551.3,636.8 1552,637 1552.8,637.1 1553.5,637.3 1554.3,637.4 1555,637.6 1555.8,637.8 1556.5,638 1557.3,638.3 1558,638.5 1558.8,638.8 1559.5,639.1 1560.3,639.4 1561,639.7 1561.8,640 1562.5,640.4 1563.3,640.7 1564,641.1 1564.8,641.5 1565.5,641.9 1566.3,642.3 1567.1,642.7 1567.8,643.1 1568.6,643.6 1569.3,644.1 1570.1,644.6 1570.8,645 1571.6,645.6 1572.3,646.1 1573.1,646.6 1573.8,647.2 1574.6,647.7 1575.3,648.3 1576.1,648.9 1576.8,649.5 1577.6,650.1 1578.3,650.7 1579.1,651.3 1579.8,651.9 1580.6,652.6 1581.3,653.2 1582.1,653.9 1582.8,654.5 1583.6,655.2 1584.3,655.9 1585.1,656.5 1585.8,657.2 1586.6,657.9 1587.3,658.6 1588.1,659.2 1588.9,659.9 1589.6,660.6 1590.4,661.3 1591.1,661.9 1591.9,662.6 1592.6,663.3 1593.4,663.9 1594.1,664.6 1594.9,665.2 1595.6,665.9 1596.4,666.5 1597.1,667.1 1597.9,667.8 1598.6,668.4 1599.4,669.1 1600.1,669.8 1600.9,670.5 1601.6,671.2 1602.4,672 1603.1,672.8 1603.9,673.6 1604.6,674.4 1605.4,675.2 1606.1,676 1606.9,676.7 1607.6,677.4 1608.4,678.1 1609.1,678.6 1609.9,679.2 1610.6,679.7 1611.4,680.1 1612.2,680.5 1612.9,681 1613.7,681.4 1614.4,681.8 1615.2,682.2 1615.9,682.5 1616.7,682.9 1617.4,683.3 1618.2,683.7 1618.9,684.1 1619.7,684.4 1620.4,684.8 1621.2,685.1 1621.9,685.4 1622.7,685.7 1623.4,686.1 1624.2,686.4 1624.9,686.6 1625.7,686.9 1626.4,687.2 1627.2,687.5 1627.9,687.7 1628.7,688 1629.4,688.2 1630.2,688.5 1630.9,688.7 1631.7,688.9 1631.7,665.8" fill="#ffff00" fill-opacity="0.4" clip-path="url(#cdn)"/>
<polygon points="1087.5,665.8 1087.5,757.4 1088.3,757.2 1089,757 1089.8,756.7 1090.5,756.4 1091.3,756 1092,755.6 1092.8,755.1 1093.5,754.5 1094.3,754 1095,753.4 1095.8,752.7 1096.5,752 1097.3,751.3 1098,750.5 1098.8,749.7 1099.5,748.9 1100.3,748 1101,747.1 1101.8,746.1 1102.5,745.1 1103.3,744 1104,742.9 1104.8,741.7 1105.5,740.5 1106.3,739.2 1107,737.8 1107.8,736.4 1108.5,734.9 1109.3,733.4 1110,731.7 1110.8,730 1111.6,728.1 1112.3,726.1 1113.1,724 1113.8,721.8 1114.6,719.6 1115.3,717.2 1116.1,714.8 1116.8,712.4 1117.6,709.8 1118.3,707.1 1119.1,704.2 1119.8,701.2 1120.6,698.2 1121.3,695.2 1122.1,692.3 1122.8,689.6 1123.6,686.8 1124.3,683.7 1125.1,680 1125.8,675.5 1126.6,670.8 1127.3,666.2 1128.1,662.4 1128.8,659.2 1129.6,656.3 1130.3,653.7 1131.1,650.9 1131.8,648 1132.6,645.1 1133.4,642.2 1134.1,639.4 1134.9,636.7 1135.6,634.1 1136.4,631.6 1137.1,629 1137.9,626.5 1138.6,624 1139.4,621.4 1140.1,618.8 1140.9,616.3 1141.6,613.7 1142.4,611.2 1143.1,608.8 1143.9,606.5 1144.6,604.2 1145.4,602.1 1146.1,600.1 1146.9,598.1 1147.6,596.2 1148.4,594.4 1149.1,592.6 1149.9,590.9 1150.6,589.3 1151.4,587.7 1152.1,586.2 1152.9,584.7 1153.6,583.2 1154.4,581.8 1155.1,580.5 1155.9,579.1 1156.7,577.8 1157.4,576.5 1158.2,575.2 1158.9,574 1159.7,572.8 1160.4,571.7 1161.2,570.6 1161.9,569.5 1162.7,568.5 1163.4,567.5 1164.2,566.6 1164.9,565.8 1165.7,565 1166.4,564.3 1167.2,563.6 1167.9,563 1168.7,562.4 1169.4,561.9 1170.2,561.4 1170.9,561 1171.7,560.6 1172.4,560.4 1173.2,560.1 1173.9,559.9 1174.7,559.8 1175.4,559.7 1176.2,559.7 1176.9,559.7 1177.7,559.8 1178.4,559.9 1179.2,560.1 1180,560.4 1180.7,560.6 1181.5,561 1182.2,561.4 1183,561.9 1183.7,562.4 1184.5,563 1185.2,563.6 1186,564.3 1186.7,565 1187.5,565.8 1188.2,566.6 1189,567.5 1189.7,568.5 1190.5,569.5 1191.2,570.6 1192,571.7 1192.7,572.8 1193.5,574 1194.2,575.2 1195,576.5 1195.7,577.8 1196.5,579.1 1197.2,580.5 1198,581.8 1198.7,583.2 1199.5,584.7 1200.2,586.2 1201,587.7 1201.8,589.3 1202.5,590.9 1203.3,592.6 1204,594.4 1204.8,596.2 1205.5,598.1 1206.3,600.1 1207,602.1 1207.8,604.2 1208.5,606.5 1209.3,608.8 1210,611.2 1210.8,613.7 1211.5,616.3 1212.3,618.8 1213,621.4 1213.8,624 1214.5,626.5 1215.3,629 1216,631.6 1216.8,634.1 1217.5,636.7 1218.3,639.4 1219,642.2 1219.8,645.1 1220.5,648 1221.3,650.9 1222,653.7 1222.8,656.3 1223.5,659.2 1224.3,662.4 1225.1,666.2 1225.8,670.8 1226.6,675.5 1227.3,680 1228.1,683.7 1228.8,686.8 1229.6,689.6 1230.3,692.3 1231.1,695.2 1231.8,698.2 1232.6,701.2 1233.3,704.2 1234.1,707.1 1234.8,709.8 1235.6,712.4 1236.3,714.8 1237.1,717.2 1237.8,719.6 1238.6,721.8 1239.3,724 1240.1,726.1 1240.8,728.1 1241.6,730 1242.3,731.7 1243.1,733.4 1243.8,734.9 1244.6,736.4 1245.3,737.8 1246.1,739.2 1246.8,740.5 1247.6,741.7 1248.4,742.9 1249.1,744 1249.9,745.1 1250.6,746.1 1251.4,747.1 1252.1,748 1252.9,748.9 1253.6,749.7 1254.4,750.5 1255.1,751.3 1255.9,752 1256.6,752.7 1257.4,753.4 1258.1,754 1258.9,754.5 1259.6,755.1 1260.4,755.6 1261.1,756 1261.9,756.4 1262.6,756.7 1263.4,757 1264.1,757.2 1264.9,757.4 1265.6,757.5 1266.4,757.5 1267.1,757.5 1267.9,757.4 1268.6,757.3 1269.4,757.1 1270.2,756.9 1270.9,756.6 1271.7,756.2 1272.4,755.8 1273.2,755.4 1273.9,754.9 1274.7,754.3 1275.4,753.7 1276.2,753.1 1276.9,752.4 1277.7,751.7 1278.4,751 1279.2,750.2 1279.9,749.4 1280.7,748.5 1281.4,747.6 1282.2,746.7 1282.9,745.7 1283.7,744.7 1284.4,743.6 1285.2,742.4 1285.9,741.2 1286.7,740 1287.4,738.7 1288.2,737.3 1288.9,735.8 1289.7,734.3 1290.4,732.7 1291.2,731 1291.9,729.2 1292.7,727.3 1293.5,725.3 1294.2,723.2 1295,720.9 1295.7,718.6 1296.5,716.3 1297.2,713.9 1298,711.3 1298.7,708.7 1299.5,706 1300.2,703.1 1301,700 1301.7,697 1302.5,694 1303.2,691.2 1304,688.5 1304.7,685.7 1305.5,682.3 1306.2,678.3 1307,673.6 1307.7,668.9 1308.5,664.6 1309.2,661 1310,658 1310.7,655.3 1311.5,652.6 1312.2,649.8 1313,646.9 1313.7,643.9 1314.5,641.1 1315.2,638.3 1316,635.6 1316.8,633.1 1317.5,630.6 1318.3,628 1319,625.5 1319.8,622.9 1320.5,620.4 1321.3,617.8 1322,615.3 1322.8,612.7 1323.5,610.3 1324.3,607.9 1325,605.6 1325.8,603.4 1326.5,601.3 1327.3,599.3 1328,597.3 1328.8,595.5 1329.5,593.7 1330.3,591.9 1331,590.3 1331.8,588.7 1332.5,587.1 1333.3,585.6 1334,584.1 1334.8,582.7 1335.5,581.3 1336.3,579.9 1337,578.6 1337.8,577.3 1338.6,576 1339.3,574.7 1340.1,573.5 1340.8,572.4 1341.6,571.2 1342.3,570.1 1343.1,569.1 1343.8,568.1 1344.6,567.2 1345.3,566.3 1346.1,565.5 1346.8,564.7 1347.6,564 1348.3,563.3 1349.1,562.7 1349.8,562.2 1350.6,561.7 1351.3,561.2 1352.1,560.9 1352.8,560.5 1353.6,560.2 1354.3,560 1355.1,559.9 1355.8,559.7 1356.6,559.7 1357.3,559.7 1358.1,559.7 1358.8,559.8 1359.6,560 1360.3,560.2 1361.1,560.5 1361.9,560.8 1362.6,561.2 1363.4,561.6 1364.1,562.1 1364.9,562.6 1365.6,563.2 1366.4,563.8 1367.1,564.5 1367.9,565.3 1368.6,566.1 1369.4,567 1370.1,567.9 1370.9,568.9 1371.6,569.9 1372.4,571 1373.1,572.1 1373.9,573.3 1374.6,574.5 1375.4,575.7 1376.1,577 1376.9,578.3 1377.6,579.7 1378.4,581 1379.1,582.4 1379.9,583.8 1380.6,585.3 1381.4,586.8 1382.1,588.3 1382.9,589.9 1383.7,591.6 1384.4,593.3 1385.2,595.1 1385.9,597 1386.7,598.9 1387.4,600.9 1388.2,602.9 1388.9,605.1 1389.7,607.4 1390.4,609.8 1391.2,612.2 1391.9,614.8 1392.7,617.3 1393.4,619.9 1394.2,622.4 1394.9,625 1395.7,627.5 1396.4,630.1 1397.2,632.6 1397.9,635.1 1398.7,637.8 1399.4,640.5 1400.2,643.4 1400.9,646.3 1401.7,649.2 1402.4,652 1403.2,654.7 1403.9,657.4 1404.7,660.4 1405.4,663.8 1406.2,668 1407,672.7 1407.7,677.4 1408.5,681.6 1409.2,685 1410,688 1410.7,690.7 1411.5,693.5 1412.2,696.4 1413,699.4 1413.7,702.5 1414.5,705.4 1415.2,708.2 1416,710.8 1416.7,713.4 1417.5,715.8 1418.2,718.2 1419,720.5 1419.7,722.7 1420.5,724.9 1421.2,726.9 1422,728.9 1422.7,730.7 1423.5,732.4 1424.2,734 1425,735.5 1425.7,737 1426.5,738.4 1427.2,739.7 1428,741 1428.7,742.2 1429.5,743.4 1430.3,744.5 1431,745.5 1431.8,746.5 1432.5,747.4 1433.3,748.3 1434,749.2 1434.8,750 1435.5,750.8 1436.3,751.6 1437,752.3 1437.8,753 1438.5,753.6 1439.3,754.2 1440,754.8 1440.8,755.3 1441.5,755.7 1442.3,756.1 1443,756.5 1443.8,756.8 1444.5,757.1 1445.3,757.3 1446,757.4 1446.8,757.5 1447.5,757.5 1448.3,757.5 1449,757.4 1449.8,757.2 1450.5,757 1451.3,756.8 1452.1,756.4 1452.8,756.1 1453.6,755.6 1454.3,755.2 1455.1,754.7 1455.8,754.1 1456.6,753.5 1457.3,752.8 1458.1,752.1 1458.8,751.4 1459.6,750.7 1460.3,749.9 1461.1,749 1461.8,748.2 1462.6,747.3 1463.3,746.3 1464.1,745.3 1464.8,744.2 1465.6,743.1 1466.3,742 1467.1,740.7 1467.8,739.5 1468.6,738.1 1469.3,736.7 1470.1,735.2 1470.8,733.7 1471.6,732.1 1472.3,730.3 1473.1,728.5 1473.8,726.5 1474.6,724.5 1475.4,722.3 1476.1,720 1476.9,717.7 1477.6,715.3 1478.4,712.9 1479.1,710.3 1479.9,707.6 1480.6,704.8 1481.4,701.8 1482.1,698.8 1482.9,695.8 1483.6,692.9 1484.4,690.2 1485.1,687.4 1485.9,684.4 1486.6,680.8 1487.4,676.5 1488.1,671.7 1488.9,667.1 1489.6,663.1 1490.4,659.8 1491.1,656.9 1491.9,654.2 1492.6,651.5 1493.4,648.6 1494.1,645.7 1494.9,642.8 1495.6,639.9 1496.4,637.2 1497.1,634.6 1497.9,632.1 1498.7,629.6 1499.4,627 1500.2,624.5 1500.9,621.9 1501.7,619.4 1502.4,616.8 1503.2,614.2 1503.9,611.7 1504.7,609.3 1505.4,606.9 1506.2,604.7 1506.9,602.5 1507.7,600.5 1508.4,598.5 1509.2,596.6 1509.9,594.7 1510.7,593 1511.4,591.3 1512.2,589.6 1512.9,588 1513.7,586.5 1514.4,585 1515.2,583.5 1515.9,582.1 1516.7,580.7 1517.4,579.4 1518.2,578.1 1518.9,576.8 1519.7,575.5 1520.5,574.3 1521.2,573.1 1522,571.9 1522.7,570.8 1523.5,569.7 1524.2,568.7 1525,567.7 1525.7,566.8 1526.5,566 1527.2,565.2 1528,564.4 1528.7,563.7 1529.5,563.1 1530.2,562.5 1531,562 1531.7,561.5 1532.5,561.1 1533.2,560.7 1534,560.4 1534.7,560.2 1535.5,560 1536.2,559.8 1537,559.7 1537.7,559.7 1538.5,559.7 1539.2,559.8 1540,559.9 1540.7,560.1 1541.5,560.3 1542.2,560.6 1543,560.9 1543.8,561.3 1544.5,561.8 1545.3,562.3 1546,562.8 1546.8,563.4 1547.5,564.1 1548.3,564.8 1549,565.6 1549.8,566.5 1550.5,567.4 1551.3,568.3 1552,569.3 1552.8,570.4 1553.5,571.4 1554.3,572.6 1555,573.8 1555.8,575 1556.5,576.3 1557.3,577.5 1558,578.9 1558.8,580.2 1559.5,581.6 1560.3,583 1561,584.4 1561.8,585.9 1562.5,587.4 1563.3,589 1564,590.6 1564.8,592.3 1565.5,594 1566.3,595.8 1567.1,597.7 1567.8,599.7 1568.6,601.7 1569.3,603.8 1570.1,606 1570.8,608.3 1571.6,610.8 1572.3,613.2 1573.1,615.8 1573.8,618.3 1574.6,620.9 1575.3,623.5 1576.1,626 1576.8,628.5 1577.6,631.1 1578.3,633.6 1579.1,636.2 1579.8,638.8 1580.6,641.6 1581.3,644.5 1582.1,647.5 1582.8,650.3 1583.6,653.1 1584.3,655.8 1585.1,658.6 1585.8,661.7 1586.6,665.4 1587.3,669.8 1588.1,674.6 1588.9,679.1 1589.6,683 1590.4,686.3 1591.1,689.1 1591.9,691.8 1592.6,694.6 1593.4,697.6 1594.1,700.6 1594.9,703.6 1595.6,706.5 1596.4,709.3 1597.1,711.9 1597.9,714.3 1598.6,716.8 1599.4,719.1 1600.1,721.4 1600.9,723.6 1601.6,725.7 1602.4,727.7 1603.1,729.6 1603.9,731.4 1604.6,733.1 1605.4,734.6 1606.1,736.1 1606.9,737.6 1607.6,738.9 1608.4,740.2 1609.1,741.5 1609.9,742.7 1610.6,743.8 1611.4,744.9 1612.2,745.9 1612.9,746.9 1613.7,747.8 1614.4,748.7 1615.2,749.5 1615.9,750.3 1616.7,751.1 1617.4,751.9 1618.2,752.6 1618.9,753.2 1619.7,753.9 1620.4,754.4 1621.2,755 1621.9,755.5 1622.7,755.9 1623.4,756.3 1624.2,756.6 1624.9,756.9 1625.7,757.2 1626.4,757.3 1627.2,757.5 1627.9,757.5 1628.7,757.5 1629.4,757.5 1630.2,757.3 1630.9,757.2 1631.7,756.9 1631.7,665.8" fill="#ffa500" fill-opacity="0.2" clip-path="url(#cdp)"/>
<polygon points="1087.5,665.8 1087.5,757.4 1088.3,757.2 1089,757 1089.8,756.7 1090.5,756.4 1091.3,756 1092,755.6 1092.8,755.1 1093.5,754.5 1094.3,754 1095,753.4 1095.8,752.7 1096.5,752 1097.3,751.3 1098,750.5 1098.8,749.7 1099.5,748.9 1100.3,748 1101,747.1 1101.8,746.1 1102.5,745.1 1103.3,744 1104,742.9 1104.8,741.7 1105.5,740.5 1106.3,739.2 1107,737.8 1107.8,736.4 1108.5,734.9 1109.3,733.4 1110,731.7 1110.8,730 1111.6,728.1 1112.3,726.1 1113.1,724 1113.8,721.8 1114.6,719.6 1115.3,717.2 1116.1,714.8 1116.8,712.4 1117.6,709.8 1118.3,707.1 1119.1,704.2 1119.8,701.2 1120.6,698.2 1121.3,695.2 1122.1,692.3 1122.8,689.6 1123.6,686.8 1124.3,683.7 1125.1,680 1125.8,675.5 1126.6,670.8 1127.3,666.2 1128.1,662.4 1128.8,659.2 1129.6,656.3 1130.3,653.7 1131.1,650.9 1131.8,648 1132.6,645.1 1133.4,642.2 1134.1,639.4 1134.9,636.7 1135.6,634.1 1136.4,631.6 1137.1,629 1137.9,626.5 1138.6,624 1139.4,621.4 1140.1,618.8 1140.9,616.3 1141.6,613.7 1142.4,611.2 1143.1,608.8 1143.9,606.5 1144.6,604.2 1145.4,602.1 1146.1,600.1 1146.9,598.1 1147.6,596.2 1148.4,594.4 1149.1,592.6 1149.9,590.9 1150.6,589.3 1151.4,587.7 1152.1,586.2 1152.9,584.7 1153.6,583.2 1154.4,581.8 1155.1,580.5 1155.9,579.1 1156.7,577.8 1157.4,576.5 1158.2,575.2 1158.9,574 1159.7,572.8 1160.4,571.7 1161.2,570.6 1161.9,569.5 1162.7,568.5 1163.4,567.5 1164.2,566.6 1164.9,565.8 1165.7,565 1166.4,564.3 1167.2,563.6 1167.9,563 1168.7,562.4 1169.4,561.9 1170.2,561.4 1170.9,561 1171.7,560.6 1172.4,560.4 1173.2,560.1 1173.9,559.9 1174.7,559.8 1175.4,559.7 1176.2,559.7 1176.9,559.7 1177.7,559.8 1178.4,559.9 1179.2,560.1 1180,560.4 1180.7,560.6 1181.5,561 1182.2,561.4 1183,561.9 1183.7,562.4 1184.5,563 1185.2,563.6 1186,564.3 1186.7,565 1187.5,565.8 1188.2,566.6 1189,567.5 1189.7,568.5 1190.5,569.5 1191.2,570.6 1192,571.7 1192.7,572.8 1193.5,574 1194.2,575.2 1195,576.5 1195.7,577.8 1196.5,579.1 1197.2,580.5 1198,581.8 1198.7,583.2 1199.5,584.7 1200.2,586.2 1201,587.7 1201.8,589.3 1202.5,590.9 1203.3,592.6 1204,594.4 1204.8,596.2 1205.5,598.1 1206.3,600.1 1207,602.1 1207.8,604.2 1208.5,606.5 1209.3,608.8 1210,611.2 1210.8,613.7 1211.5,616.3 1212.3,618.8 1213,621.4 1213.8,624 1214.5,626.5 1215.3,629 1216,631.6 1216.8,634.1 1217.5,636.7 1218.3,639.4 1219,642.2 1219.8,645.1 1220.5,648 1221.3,650.9 1222,653.7 1222.8,656.3 1223.5,659.2 1224.3,662.4 1225.1,666.2 1225.8,670.8 1226.6,675.5 1227.3,680 1228.1,683.7 1228.8,686.8 1229.6,689.6 1230.3,692.3 1231.1,695.2 1231.8,698.2 1232.6,701.2 1233.3,704.2 1234.1,707.1 1234.8,709.8 1235.6,712.4 1236.3,714.8 1237.1,717.2 1237.8,719.6 1238.6,721.8 1239.3,724 1240.1,726.1 1240.8,728.1 1241.6,730 1242.3,731.7 1243.1,733.4 1243.8,734.9 1244.6,736.4 1245.3,737.8 1246.1,739.2 1246.8,740.5 1247.6,741.7 1248.4,742.9 1249.1,744 1249.9,745.1 1250.6,746.1 1251.4,747.1 1252.1,748 1252.9,748.9 1253.6,749.7 1254.4,750.5 1255.1,751.3 1255.9,752 1256.6,752.7 1257.4,753.4 1258.1,754 1258.9,754.5 1259.6,755.1 1260.4,755.6 1261.1,756 1261.9,756.4 1262.6,756.7 1263.4,757 1264.1,757.2 1264.9,757.4 1265.6,757.5 1266.4,757.5 1267.1,757.5 1267.9,757.4 1268.6,757.3 1269.4,757.1 1270.2,756.9 1270.9,756.6 1271.7,756.2 1272.4,755.8 1273.2,755.4 1273.9,754.9 1274.7,754.3 1275.4,753.7 1276.2,753.1 1276.9,752.4 1277.7,751.7 1278.4,751 1279.2,750.2 1279.9,749.4 1280.7,748.5 1281.4,747.6 1282.2,746.7 1282.9,745.7 1283.7,744.7 1284.4,743.6 1285.2,742.4 1285.9,741.2 1286.7,740 1287.4,738.7 1288.2,737.3 1288.9,735.8 1289.7,734.3 1290.4,732.7 1291.2,731 1291.9,729.2 1292.7,727.3 1293.5,725.3 1294.2,723.2 1295,720.9 1295.7,718.6 1296.5,716.3 1297.2,713.9 1298,711.3 1298.7,708.7 1299.5,706 1300.2,703.1 1301,700 1301.7,697 1302.5,694 1303.2,691.2 1304,688.5 1304.7,685.7 1305.5,682.3 1306.2,678.3 1307,673.6 1307.7,668.9 1308.5,664.6 1309.2,661 1310,658 1310.7,655.3 1311.5,652.6 1312.2,649.8 1313,646.9 1313.7,643.9 1314.5,641.1 1315.2,638.3 1316,635.6 1316.8,633.1 1317.5,630.6 1318.3,628 1319,625.5 1319.8,622.9 1320.5,620.4 1321.3,617.8 1322,615.3 1322.8,612.7 1323.5,610.3 1324.3,607.9 1325,605.6 1325.8,603.4 1326.5,601.3 1327.3,599.3 1328,597.3 1328.8,595.5 1329.5,593.7 1330.3,591.9 1331,590.3 1331.8,588.7 1332.5,587.1 1333.3,585.6 1334,584.1 1334.8,582.7 1335.5,581.3 1336.3,579.9 1337,578.6 1337.8,577.3 1338.6,576 1339.3,574.7 1340.1,573.5 1340.8,572.4 1341.6,571.2 1342.3,570.1 1343.1,569.1 1343.8,568.1 1344.6,567.2 1345.3,566.3 1346.1,565.5 1346.8,564.7 1347.6,564 1348.3,563.3 1349.1,562.7 1349.8,562.2 1350.6,561.7 1351.3,561.2 1352.1,560.9 1352.8,560.5 1353.6,560.2 1354.3,560 1355.1,559.9 1355.8,559.7 1356.6,559.7 1357.3,559.7 1358.1,559.7 1358.8,559.8 1359.6,560 1360.3,560.2 1361.1,560.5 1361.9,560.8 1362.6,561.2 1363.4,561.6 1364.1,562.1 1364.9,562.6 1365.6,563.2 1366.4,563.8 1367.1,564.5 1367.9,565.3 1368.6,566.1 1369.4,567 1370.1,567.9 1370.9,568.9 1371.6,569.9 1372.4,571 1373.1,572.1 1373.9,573.3 1374.6,574.5 1375.4,575.7 1376.1,577 1376.9,578.3 1377.6,579.7 1378.4,581 1379.1,582.4 1379.9,583.8 1380.6,585.3 1381.4,586.8 1382.1,588.3 1382.9,589.9 1383.7,591.6 1384.4,593.3 1385.2,595.1 1385.9,597 1386.7,598.9 1387.4,600.9 1388.2,602.9 1388.9,605.1 1389.7,607.4 1390.4,609.8 1391.2,612.2 1391.9,614.8 1392.7,617.3 1393.4,619.9 1394.2,622.4 1394.9,625 1395.7,627.5 1396.4,630.1 1397.2,632.6 1397.9,635.1 1398.7,637.8 1399.4,640.5 1400.2,643.4 1400.9,646.3 1401.7,649.2 1402.4,652 1403.2,654.7 1403.9,657.4 1404.7,660.4 1405.4,663.8 1406.2,668 1407,672.7 1407.7,677.4 1408.5,681.6 1409.2,685 1410,688 1410.7,690.7 1411.5,693.5 1412.2,696.4 1413,699.4 1413.7,702.5 1414.5,705.4 1415.2,708.2 1416,710.8 1416.7,713.4 1417.5,715.8 1418.2,718.2 1419,720.5 1419.7,722.7 1420.5,724.9 1421.2,726.9 1422,728.9 1422.7,730.7 1423.5,732.4 1424.2,734 1425,735.5 1425.7,737 1426.5,738.4 1427.2,739.7 1428,741 1428.7,742.2 1429.5,743.4 1430.3,744.5 1431,745.5 1431.8,746.5 1432.5,747.4 1433.3,748.3 1434,749.2 1434.8,750 1435.5,750.8 1436.3,751.6 1437,752.3 1437.8,753 1438.5,753.6 1439.3,754.2 1440,754.8 1440.8,755.3 1441.5,755.7 1442.3,756.1 1443,756.5 1443.8,756.8 1444.5,757.1 1445.3,757.3 1446,757.4 1446.8,757.5 1447.5,757.5 1448.3,757.5 1449,757.4 1449.8,757.2 1450.5,757 1451.3,756.8 1452.1,756.4 1452.8,756.1 1453.6,755.6 1454.3,755.2 1455.1,754.7 1455.8,754.1 1456.6,753.5 1457.3,752.8 1458.1,752.1 1458.8,751.4 1459.6,750.7 1460.3,749.9 1461.1,749 1461.8,748.2 1462.6,747.3 1463.3,746.3 1464.1,745.3 1464.8,744.2 1465.6,743.1 1466.3,742 1467.1,740.7 1467.8,739.5 1468.6,738.1 1469.3,736.7 1470.1,735.2 1470.8,733.7 1471.6,732.1 1472.3,730.3 1473.1,728.5 1473.8,726.5 1474.6,724.5 1475.4,722.3 1476.1,720 1476.9,717.7 1477.6,715.3 1478.4,712.9 1479.1,710.3 1479.9,707.6 1480.6,704.8 1481.4,701.8 1482.1,698.8 1482.9,695.8 1483.6,692.9 1484.4,690.2 1485.1,687.4 1485.9,684.4 1486.6,680.8 1487.4,676.5 1488.1,671.7 1488.9,667.1 1489.6,663.1 1490.4,659.8 1491.1,656.9 1491.9,654.2 1492.6,651.5 1493.4,648.6 1494.1,645.7 1494.9,642.8 1495.6,639.9 1496.4,637.2 1497.1,634.6 1497.9,632.1 1498.7,629.6 1499.4,627 1500.2,624.5 1500.9,621.9 1501.7,619.4 1502.4,616.8 1503.2,614.2 1503.9,611.7 1504.7,609.3 1505.4,606.9 1506.2,604.7 1506.9,602.5 1507.7,600.5 1508.4,598.5 1509.2,596.6 1509.9,594.7 1510.7,593 1511.4,591.3 1512.2,589.6 1512.9,588 1513.7,586.5 1514.4,585 1515.2,583.5 1515.9,582.1 1516.7,580.7 1517.4,579.4 1518.2,578.1 1518.9,576.8 1519.7,575.5 1520.5,574.3 1521.2,573.1 1522,571.9 1522.7,570.8 1523.5,569.7 1524.2,568.7 1525,567.7 1525.7,566.8 1526.5,566 1527.2,565.2 1528,564.4 1528.7,563.7 1529.5,563.1 1530.2,562.5 1531,562 1531.7,561.5 1532.5,561.1 1533.2,560.7 1534,560.4 1534.7,560.2 1535.5,560 1536.2,559.8 1537,559.7 1537.7,559.7 1538.5,559.7 1539.2,559.8 1540,559.9 1540.7,560.1 1541.5,560.3 1542.2,560.6 1543,560.9 1543.8,561.3 1544.5,561.8 1545.3,562.3 1546,562.8 1546.8,563.4 1547.5,564.1 1548.3,564.8 1549,565.6 1549.8,566.5 1550.5,567.4 1551.3,568.3 1552,569.3 1552.8,570.4 1553.5,571.4 1554.3,572.6 1555,573.8 1555.8,575 1556.5,576.3 1557.3,577.5 1558,578.9 1558.8,580.2 1559.5,581.6 1560.3,583 1561,584.4 1561.8,585.9 1562.5,587.4 1563.3,589 1564,590.6 1564.8,592.3 1565.5,594 1566.3,595.8 1567.1,597.7 1567.8,599.7 1568.6,601.7 1569.3,603.8 1570.1,606 1570.8,608.3 1571.6,610.8 1572.3,613.2 1573.1,615.8 1573.8,618.3 1574.6,620.9 1575.3,623.5 1576.1,626 1576.8,628.5 1577.6,631.1 1578.3,633.6 1579.1,636.2 1579.8,638.8 1580.6,641.6 1581.3,644.5 1582.1,647.5 1582.8,650.3 1583.6,653.1 1584.3,655.8 1585.1,658.6 1585.8,661.7 1586.6,665.4 1587.3,669.8 1588.1,674.6 1588.9,679.1 1589.6,683 1590.4,686.3 1591.1,689.1 1591.9,691.8 1592.6,694.6 1593.4,697.6 1594.1,700.6 1594.9,703.6 1595.6,706.5 1596.4,709.3 1597.1,711.9 1597.9,714.3 1598.6,716.8 1599.4,719.1 1600.1,721.4 1600.9,723.6 1601.6,725.7 1602.4,727.7 1603.1,729.6 1603.9,731.4 1604.6,733.1 1605.4,734.6 1606.1,736.1 1606.9,737.6 1607.6,738.9 1608.4,740.2 1609.1,741.5 1609.9,742.7 1610.6,743.8 1611.4,744.9 1612.2,745.9 1612.9,746.9 1613.7,747.8 1614.4,748.7 1615.2,749.5 1615.9,750.3 1616.7,751.1 1617.4,751.9 1618.2,752.6 1618.9,753.2 1619.7,753.9 1620.4,754.4 1621.2,755 1621.9,755.5 1622.7,755.9 1623.4,756.3 1624.2,756.6 1624.9,756.9 1625.7,757.2 1626.4,757.3 1627.2,757.5 1627.9,757.5 1628.7,757.5 1629.4,757.5 1630.2,757.3 1630.9,757.2 1631.7,756.9 1631.7,665.8" fill="#87ceeb" fill-opacity="0.2" clip-path="url(#cdn)"/>
<line x1="1087.5" y1="665.8" x2="1631.5" y2="665.8" stroke="#00c896" stroke-width="2" stroke-dasharray="4 6.45" stroke-dashoffset="1.9"/>
<polyline points="1087.5,693.1 1088.3,692.6 1089,692.1 1089.8,691.6 1090.5,691.1 1091.3,690.6 1092,690.1 1092.8,689.6 1093.5,689 1094.3,688.5 1095,688 1095.8,687.5 1096.5,686.9 1097.3,686.4 1098,685.9 1098.8,685.3 1099.5,684.7 1100.3,684.2 1101,683.6 1101.8,683 1102.5,682.4 1103.3,681.8 1104,681.1 1104.8,680.5 1105.5,679.8 1106.3,679.2 1107,678.5 1107.8,677.8 1108.5,677 1109.3,676.3 1110,675.6 1110.8,674.8 1111.6,674 1112.3,673.2 1113.1,672.5 1113.8,671.7 1114.6,670.9 1115.3,670.2 1116.1,669.4 1116.8,668.7 1117.6,668 1118.3,667.2 1119.1,666.5 1119.8,665.7 1120.6,665 1121.3,664.2 1122.1,663.4 1122.8,662.6 1123.6,661.8 1124.3,660.9 1125.1,660.1 1125.8,659.2 1126.6,658.4 1127.3,657.5 1128.1,656.6 1128.8,655.8 1129.6,655 1130.3,654.3 1131.1,653.5 1131.8,652.9 1132.6,652.2 1133.4,651.6 1134.1,651 1134.9,650.4 1135.6,649.9 1136.4,649.3 1137.1,648.7 1137.9,648 1138.6,647.4 1139.4,646.7 1140.1,646 1140.9,645.3 1141.6,644.6 1142.4,643.9 1143.1,643.2 1143.9,642.5 1144.6,641.9 1145.4,641.3 1146.1,640.7 1146.9,640.1 1147.6,639.6 1148.4,639.1 1149.1,638.7 1149.9,638.2 1150.6,637.8 1151.4,637.4 1152.1,637 1152.9,636.7 1153.6,636.3 1154.4,636 1155.1,635.7 1155.9,635.3 1156.7,635 1157.4,634.7 1158.2,634.5 1158.9,634.2 1159.7,633.9 1160.4,633.7 1161.2,633.4 1161.9,633.2 1162.7,632.9 1163.4,632.7 1164.2,632.5 1164.9,632.3 1165.7,632.1 1166.4,632 1167.2,631.9 1167.9,631.8 1168.7,631.7 1169.4,631.8 1170.2,631.8 1170.9,631.9 1171.7,632.1 1172.4,632.2 1173.2,632.4 1173.9,632.6 1174.7,632.9 1175.4,633.1 1176.2,633.3 1176.9,633.6 1177.7,633.9 1178.4,634.1 1179.2,634.4 1180,634.7 1180.7,635 1181.5,635.3 1182.2,635.7 1183,636 1183.7,636.4 1184.5,636.8 1185.2,637.2 1186,637.6 1186.7,638.1 1187.5,638.5 1188.2,639 1189,639.5 1189.7,640 1190.5,640.5 1191.2,641.1 1192,641.6 1192.7,642.2 1193.5,642.7 1194.2,643.3 1195,643.9 1195.7,644.5 1196.5,645.1 1197.2,645.8 1198,646.4 1198.7,647.1 1199.5,647.7 1200.2,648.4 1201,649.1 1201.8,649.8 1202.5,650.5 1203.3,651.3 1204,652.1 1204.8,652.8 1205.5,653.7 1206.3,654.5 1207,655.4 1207.8,656.3 1208.5,657.3 1209.3,658.2 1210,659.2 1210.8,660.2 1211.5,661.2 1212.3,662.2 1213,663.1 1213.8,664.1 1214.5,665 1215.3,665.8 1216,666.7 1216.8,667.4 1217.5,668.2 1218.3,668.9 1219,669.6 1219.8,670.3 1220.5,671 1221.3,671.6 1222,672.3 1222.8,673 1223.5,673.7 1224.3,674.4 1225.1,675.1 1225.8,675.9 1226.6,676.6 1227.3,677.4 1228.1,678.1 1228.8,678.9 1229.6,679.6 1230.3,680.4 1231.1,681.2 1231.8,681.9 1232.6,682.7 1233.3,683.4 1234.1,684.2 1234.8,684.9 1235.6,685.7 1236.3,686.4 1237.1,687.1 1237.8,687.9 1238.6,688.6 1239.3,689.2 1240.1,689.9 1240.8,690.6 1241.6,691.2 1242.3,691.8 1243.1,692.4 1243.8,693 1244.6,693.6 1245.3,694.1 1246.1,694.6 1246.8,695.1 1247.6,695.6 1248.4,696.1 1249.1,696.5 1249.9,696.9 1250.6,697.3 1251.4,697.7 1252.1,698 1252.9,698.3 1253.6,698.6 1254.4,698.9 1255.1,699.2 1255.9,699.5 1256.6,699.7 1257.4,699.9 1258.1,700.1 1258.9,700.3 1259.6,700.4 1260.4,700.6 1261.1,700.7 1261.9,700.8 1262.6,700.9 1263.4,701 1264.1,701 1264.9,701 1265.6,701 1266.4,701 1267.1,701 1267.9,700.9 1268.6,700.9 1269.4,700.8 1270.2,700.6 1270.9,700.5 1271.7,700.3 1272.4,700.1 1273.2,699.9 1273.9,699.7 1274.7,699.4 1275.4,699.2 1276.2,698.9 1276.9,698.5 1277.7,698.2 1278.4,697.8 1279.2,697.4 1279.9,697 1280.7,696.5 1281.4,696.1 1282.2,695.6 1282.9,695 1283.7,694.5 1284.4,693.9 1285.2,693.3 1285.9,692.7 1286.7,692 1287.4,691.3 1288.2,690.6 1288.9,689.8 1289.7,689.1 1290.4,688.3 1291.2,687.4 1291.9,686.6 1292.7,685.7 1293.5,684.9 1294.2,684 1295,683.1 1295.7,682.2 1296.5,681.2 1297.2,680.3 1298,679.4 1298.7,678.4 1299.5,677.5 1300.2,676.6 1301,675.6 1301.7,674.7 1302.5,673.8 1303.2,672.9 1304,672 1304.7,671.1 1305.5,670.2 1306.2,669.4 1307,668.5 1307.7,667.7 1308.5,666.9 1309.2,666.2 1310,665.4 1310.7,664.7 1311.5,664 1312.2,663.3 1313,662.6 1313.7,661.9 1314.5,661.3 1315.2,660.6 1316,659.9 1316.8,659.2 1317.5,658.5 1318.3,657.8 1319,657 1319.8,656.3 1320.5,655.5 1321.3,654.8 1322,654 1322.8,653.3 1323.5,652.5 1324.3,651.7 1325,651 1325.8,650.3 1326.5,649.5 1327.3,648.8 1328,648.2 1328.8,647.5 1329.5,646.9 1330.3,646.2 1331,645.6 1331.8,645 1332.5,644.4 1333.3,643.8 1334,643.2 1334.8,642.6 1335.5,642 1336.3,641.4 1337,640.7 1337.8,640.1 1338.6,639.5 1339.3,638.9 1340.1,638.3 1340.8,637.7 1341.6,637.2 1342.3,636.6 1343.1,636.1 1343.8,635.6 1344.6,635.1 1345.3,634.7 1346.1,634.3 1346.8,633.9 1347.6,633.6 1348.3,633.3 1349.1,633 1349.8,632.7 1350.6,632.5 1351.3,632.3 1352.1,632.1 1352.8,631.9 1353.6,631.7 1354.3,631.5 1355.1,631.3 1355.8,631.2 1356.6,631 1357.3,630.9 1358.1,630.8 1358.8,630.7 1359.6,630.6 1360.3,630.5 1361.1,630.5 1361.9,630.5 1362.6,630.5 1363.4,630.6 1364.1,630.6 1364.9,630.7 1365.6,630.9 1366.4,631 1367.1,631.2 1367.9,631.4 1368.6,631.7 1369.4,631.9 1370.1,632.2 1370.9,632.5 1371.6,632.8 1372.4,633.2 1373.1,633.5 1373.9,633.9 1374.6,634.4 1375.4,634.8 1376.1,635.3 1376.9,635.7 1377.6,636.2 1378.4,636.8 1379.1,637.3 1379.9,637.9 1380.6,638.4 1381.4,639 1382.1,639.6 1382.9,640.3 1383.7,640.9 1384.4,641.6 1385.2,642.2 1385.9,642.9 1386.7,643.6 1387.4,644.3 1388.2,645 1388.9,645.6 1389.7,646.4 1390.4,647.1 1391.2,647.8 1391.9,648.5 1392.7,649.2 1393.4,650 1394.2,650.7 1394.9,651.5 1395.7,652.3 1396.4,653.1 1397.2,653.9 1397.9,654.7 1398.7,655.5 1399.4,656.4 1400.2,657.3 1400.9,658.2 1401.7,659.1 1402.4,660 1403.2,661 1403.9,661.9 1404.7,662.9 1405.4,663.9 1406.2,664.9 1407,665.8 1407.7,666.8 1408.5,667.7 1409.2,668.6 1410,669.5 1410.7,670.3 1411.5,671.1 1412.2,672 1413,672.7 1413.7,673.5 1414.5,674.2 1415.2,674.9 1416,675.6 1416.7,676.3 1417.5,677 1418.2,677.7 1419,678.3 1419.7,679 1420.5,679.7 1421.2,680.3 1422,681 1422.7,681.7 1423.5,682.4 1424.2,683.1 1425,683.8 1425.7,684.5 1426.5,685.3 1427.2,686 1428,686.7 1428.7,687.3 1429.5,688 1430.3,688.6 1431,689.2 1431.8,689.8 1432.5,690.4 1433.3,690.9 1434,691.4 1434.8,691.9 1435.5,692.3 1436.3,692.7 1437,693.1 1437.8,693.5 1438.5,693.9 1439.3,694.2 1440,694.6 1440.8,694.9 1441.5,695.2 1442.3,695.5 1443,695.8 1443.8,696.1 1444.5,696.4 1445.3,696.6 1446,696.9 1446.8,697.1 1447.5,697.3 1448.3,697.5 1449,697.7 1449.8,697.8 1450.5,698 1451.3,698.1 1452.1,698.2 1452.8,698.3 1453.6,698.4 1454.3,698.4 1455.1,698.5 1455.8,698.5 1456.6,698.5 1457.3,698.4 1458.1,698.4 1458.8,698.3 1459.6,698.2 1460.3,698.1 1461.1,697.9 1461.8,697.8 1462.6,697.6 1463.3,697.4 1464.1,697.1 1464.8,696.9 1465.6,696.6 1466.3,696.3 1467.1,696 1467.8,695.7 1468.6,695.4 1469.3,695 1470.1,694.7 1470.8,694.3 1471.6,694 1472.3,693.6 1473.1,693.3 1473.8,692.9 1474.6,692.5 1475.4,692 1476.1,691.5 1476.9,691 1477.6,690.4 1478.4,689.7 1479.1,688.9 1479.9,688 1480.6,687.1 1481.4,686 1482.1,684.9 1482.9,683.7 1483.6,682.6 1484.4,681.4 1485.1,680.3 1485.9,679.3 1486.6,678.3 1487.4,677.4 1488.1,676.7 1488.9,676 1489.6,675.4 1490.4,674.9 1491.1,674.5 1491.9,674 1492.6,673.6 1493.4,673.2 1494.1,672.8 1494.9,672.4 1495.6,672 1496.4,671.5 1497.1,671 1497.9,670.5 1498.7,669.8 1499.4,669.2 1500.2,668.5 1500.9,667.8 1501.7,667 1502.4,666.2 1503.2,665.4 1503.9,664.6 1504.7,663.8 1505.4,662.9 1506.2,662.1 1506.9,661.2 1507.7,660.4 1508.4,659.5 1509.2,658.7 1509.9,657.8 1510.7,657 1511.4,656.2 1512.2,655.4 1512.9,654.6 1513.7,653.8 1514.4,653.1 1515.2,652.3 1515.9,651.6 1516.7,650.9 1517.4,650.2 1518.2,649.5 1518.9,648.8 1519.7,648.2 1520.5,647.6 1521.2,646.9 1522,646.3 1522.7,645.7 1523.5,645.2 1524.2,644.6 1525,644.1 1525.7,643.5 1526.5,643 1527.2,642.5 1528,642.1 1528.7,641.6 1529.5,641.2 1530.2,640.8 1531,640.4 1531.7,640 1532.5,639.6 1533.2,639.3 1534,639 1534.7,638.7 1535.5,638.4 1536.2,638.2 1537,637.9 1537.7,637.7 1538.5,637.5 1539.2,637.3 1540,637.1 1540.7,637 1541.5,636.9 1542.2,636.8 1543,636.7 1543.8,636.6 1544.5,636.5 1545.3,636.5 1546,636.5 1546.8,636.5 1547.5,636.5 1548.3,636.5 1549,636.6 1549.8,636.7 1550.5,636.7 1551.3,636.8 1552,637 1552.8,637.1 1553.5,637.3 1554.3,637.4 1555,637.6 1555.8,637.8 1556.5,638 1557.3,638.3 1558,638.5 1558.8,638.8 1559.5,639.1 1560.3,639.4 1561,639.7 1561.8,640 1562.5,640.4 1563.3,640.7 1564,641.1 1564.8,641.5 1565.5,641.9 1566.3,642.3 1567.1,642.7 1567.8,643.1 1568.6,643.6 1569.3,644.1 1570.1,644.6 1570.8,645 1571.6,645.6 1572.3,646.1 1573.1,646.6 1573.8,647.2 1574.6,647.7 1575.3,648.3 1576.1,648.9 1576.8,649.5 1577.6,650.1 1578.3,650.7 1579.1,651.3 1579.8,651.9 1580.6,652.6 1581.3,653.2 1582.1,653.9 1582.8,654.5 1583.6,655.2 1584.3,655.9 1585.1,656.5 1585.8,657.2 1586.6,657.9 1587.3,658.6 1588.1,659.2 1588.9,659.9 1589.6,660.6 1590.4,661.3 1591.1,661.9 1591.9,662.6 1592.6,663.3 1593.4,663.9 1594.1,664.6 1594.9,665.2 1595.6,665.9 1596.4,666.5 1597.1,667.1 1597.9,667.8 1598.6,668.4 1599.4,669.1 1600.1,669.8 1600.9,670.5 1601.6,671.2 1602.4,672 1603.1,672.8 1603.9,673.6 1604.6,674.4 1605.4,675.2 1606.1,676 1606.9,676.7 1607.6,677.4 1608.4,678.1 1609.1,678.6 1609.9,679.2 1610.6,679.7 1611.4,680.1 1612.2,680.5 1612.9,681 1613.7,681.4 1614.4,681.8 1615.2,682.2 1615.9,682.5 1616.7,682.9 1617.4,683.3 1618.2,683.7 1618.9,684.1 1619.7,684.4 1620.4,684.8 1621.2,685.1 1621.9,685.4 1622.7,685.7 1623.4,686.1 1624.2,686.4 1624.9,686.6 1625.7,686.9 1626.4,687.2 1627.2,687.5 1627.9,687.7 1628.7,688 1629.4,688.2 1630.2,688.5 1630.9,688.7 1631.7,688.9" fill="none" stroke="#2868d0" stroke-width="2.1" stroke-linejoin="round" stroke-dasharray="12 8.5" />
<polyline points="1087.5,757.4 1088.3,757.2 1089,757 1089.8,756.7 1090.5,756.4 1091.3,756 1092,755.6 1092.8,755.1 1093.5,754.5 1094.3,754 1095,753.4 1095.8,752.7 1096.5,752 1097.3,751.3 1098,750.5 1098.8,749.7 1099.5,748.9 1100.3,748 1101,747.1 1101.8,746.1 1102.5,745.1 1103.3,744 1104,742.9 1104.8,741.7 1105.5,740.5 1106.3,739.2 1107,737.8 1107.8,736.4 1108.5,734.9 1109.3,733.4 1110,731.7 1110.8,730 1111.6,728.1 1112.3,726.1 1113.1,724 1113.8,721.8 1114.6,719.6 1115.3,717.2 1116.1,714.8 1116.8,712.4 1117.6,709.8 1118.3,707.1 1119.1,704.2 1119.8,701.2 1120.6,698.2 1121.3,695.2 1122.1,692.3 1122.8,689.6 1123.6,686.8 1124.3,683.7 1125.1,680 1125.8,675.5 1126.6,670.8 1127.3,666.2 1128.1,662.4 1128.8,659.2 1129.6,656.3 1130.3,653.7 1131.1,650.9 1131.8,648 1132.6,645.1 1133.4,642.2 1134.1,639.4 1134.9,636.7 1135.6,634.1 1136.4,631.6 1137.1,629 1137.9,626.5 1138.6,624 1139.4,621.4 1140.1,618.8 1140.9,616.3 1141.6,613.7 1142.4,611.2 1143.1,608.8 1143.9,606.5 1144.6,604.2 1145.4,602.1 1146.1,600.1 1146.9,598.1 1147.6,596.2 1148.4,594.4 1149.1,592.6 1149.9,590.9 1150.6,589.3 1151.4,587.7 1152.1,586.2 1152.9,584.7 1153.6,583.2 1154.4,581.8 1155.1,580.5 1155.9,579.1 1156.7,577.8 1157.4,576.5 1158.2,575.2 1158.9,574 1159.7,572.8 1160.4,571.7 1161.2,570.6 1161.9,569.5 1162.7,568.5 1163.4,567.5 1164.2,566.6 1164.9,565.8 1165.7,565 1166.4,564.3 1167.2,563.6 1167.9,563 1168.7,562.4 1169.4,561.9 1170.2,561.4 1170.9,561 1171.7,560.6 1172.4,560.4 1173.2,560.1 1173.9,559.9 1174.7,559.8 1175.4,559.7 1176.2,559.7 1176.9,559.7 1177.7,559.8 1178.4,559.9 1179.2,560.1 1180,560.4 1180.7,560.6 1181.5,561 1182.2,561.4 1183,561.9 1183.7,562.4 1184.5,563 1185.2,563.6 1186,564.3 1186.7,565 1187.5,565.8 1188.2,566.6 1189,567.5 1189.7,568.5 1190.5,569.5 1191.2,570.6 1192,571.7 1192.7,572.8 1193.5,574 1194.2,575.2 1195,576.5 1195.7,577.8 1196.5,579.1 1197.2,580.5 1198,581.8 1198.7,583.2 1199.5,584.7 1200.2,586.2 1201,587.7 1201.8,589.3 1202.5,590.9 1203.3,592.6 1204,594.4 1204.8,596.2 1205.5,598.1 1206.3,600.1 1207,602.1 1207.8,604.2 1208.5,606.5 1209.3,608.8 1210,611.2 1210.8,613.7 1211.5,616.3 1212.3,618.8 1213,621.4 1213.8,624 1214.5,626.5 1215.3,629 1216,631.6 1216.8,634.1 1217.5,636.7 1218.3,639.4 1219,642.2 1219.8,645.1 1220.5,648 1221.3,650.9 1222,653.7 1222.8,656.3 1223.5,659.2 1224.3,662.4 1225.1,666.2 1225.8,670.8 1226.6,675.5 1227.3,680 1228.1,683.7 1228.8,686.8 1229.6,689.6 1230.3,692.3 1231.1,695.2 1231.8,698.2 1232.6,701.2 1233.3,704.2 1234.1,707.1 1234.8,709.8 1235.6,712.4 1236.3,714.8 1237.1,717.2 1237.8,719.6 1238.6,721.8 1239.3,724 1240.1,726.1 1240.8,728.1 1241.6,730 1242.3,731.7 1243.1,733.4 1243.8,734.9 1244.6,736.4 1245.3,737.8 1246.1,739.2 1246.8,740.5 1247.6,741.7 1248.4,742.9 1249.1,744 1249.9,745.1 1250.6,746.1 1251.4,747.1 1252.1,748 1252.9,748.9 1253.6,749.7 1254.4,750.5 1255.1,751.3 1255.9,752 1256.6,752.7 1257.4,753.4 1258.1,754 1258.9,754.5 1259.6,755.1 1260.4,755.6 1261.1,756 1261.9,756.4 1262.6,756.7 1263.4,757 1264.1,757.2 1264.9,757.4 1265.6,757.5 1266.4,757.5 1267.1,757.5 1267.9,757.4 1268.6,757.3 1269.4,757.1 1270.2,756.9 1270.9,756.6 1271.7,756.2 1272.4,755.8 1273.2,755.4 1273.9,754.9 1274.7,754.3 1275.4,753.7 1276.2,753.1 1276.9,752.4 1277.7,751.7 1278.4,751 1279.2,750.2 1279.9,749.4 1280.7,748.5 1281.4,747.6 1282.2,746.7 1282.9,745.7 1283.7,744.7 1284.4,743.6 1285.2,742.4 1285.9,741.2 1286.7,740 1287.4,738.7 1288.2,737.3 1288.9,735.8 1289.7,734.3 1290.4,732.7 1291.2,731 1291.9,729.2 1292.7,727.3 1293.5,725.3 1294.2,723.2 1295,720.9 1295.7,718.6 1296.5,716.3 1297.2,713.9 1298,711.3 1298.7,708.7 1299.5,706 1300.2,703.1 1301,700 1301.7,697 1302.5,694 1303.2,691.2 1304,688.5 1304.7,685.7 1305.5,682.3 1306.2,678.3 1307,673.6 1307.7,668.9 1308.5,664.6 1309.2,661 1310,658 1310.7,655.3 1311.5,652.6 1312.2,649.8 1313,646.9 1313.7,643.9 1314.5,641.1 1315.2,638.3 1316,635.6 1316.8,633.1 1317.5,630.6 1318.3,628 1319,625.5 1319.8,622.9 1320.5,620.4 1321.3,617.8 1322,615.3 1322.8,612.7 1323.5,610.3 1324.3,607.9 1325,605.6 1325.8,603.4 1326.5,601.3 1327.3,599.3 1328,597.3 1328.8,595.5 1329.5,593.7 1330.3,591.9 1331,590.3 1331.8,588.7 1332.5,587.1 1333.3,585.6 1334,584.1 1334.8,582.7 1335.5,581.3 1336.3,579.9 1337,578.6 1337.8,577.3 1338.6,576 1339.3,574.7 1340.1,573.5 1340.8,572.4 1341.6,571.2 1342.3,570.1 1343.1,569.1 1343.8,568.1 1344.6,567.2 1345.3,566.3 1346.1,565.5 1346.8,564.7 1347.6,564 1348.3,563.3 1349.1,562.7 1349.8,562.2 1350.6,561.7 1351.3,561.2 1352.1,560.9 1352.8,560.5 1353.6,560.2 1354.3,560 1355.1,559.9 1355.8,559.7 1356.6,559.7 1357.3,559.7 1358.1,559.7 1358.8,559.8 1359.6,560 1360.3,560.2 1361.1,560.5 1361.9,560.8 1362.6,561.2 1363.4,561.6 1364.1,562.1 1364.9,562.6 1365.6,563.2 1366.4,563.8 1367.1,564.5 1367.9,565.3 1368.6,566.1 1369.4,567 1370.1,567.9 1370.9,568.9 1371.6,569.9 1372.4,571 1373.1,572.1 1373.9,573.3 1374.6,574.5 1375.4,575.7 1376.1,577 1376.9,578.3 1377.6,579.7 1378.4,581 1379.1,582.4 1379.9,583.8 1380.6,585.3 1381.4,586.8 1382.1,588.3 1382.9,589.9 1383.7,591.6 1384.4,593.3 1385.2,595.1 1385.9,597 1386.7,598.9 1387.4,600.9 1388.2,602.9 1388.9,605.1 1389.7,607.4 1390.4,609.8 1391.2,612.2 1391.9,614.8 1392.7,617.3 1393.4,619.9 1394.2,622.4 1394.9,625 1395.7,627.5 1396.4,630.1 1397.2,632.6 1397.9,635.1 1398.7,637.8 1399.4,640.5 1400.2,643.4 1400.9,646.3 1401.7,649.2 1402.4,652 1403.2,654.7 1403.9,657.4 1404.7,660.4 1405.4,663.8 1406.2,668 1407,672.7 1407.7,677.4 1408.5,681.6 1409.2,685 1410,688 1410.7,690.7 1411.5,693.5 1412.2,696.4 1413,699.4 1413.7,702.5 1414.5,705.4 1415.2,708.2 1416,710.8 1416.7,713.4 1417.5,715.8 1418.2,718.2 1419,720.5 1419.7,722.7 1420.5,724.9 1421.2,726.9 1422,728.9 1422.7,730.7 1423.5,732.4 1424.2,734 1425,735.5 1425.7,737 1426.5,738.4 1427.2,739.7 1428,741 1428.7,742.2 1429.5,743.4 1430.3,744.5 1431,745.5 1431.8,746.5 1432.5,747.4 1433.3,748.3 1434,749.2 1434.8,750 1435.5,750.8 1436.3,751.6 1437,752.3 1437.8,753 1438.5,753.6 1439.3,754.2 1440,754.8 1440.8,755.3 1441.5,755.7 1442.3,756.1 1443,756.5 1443.8,756.8 1444.5,757.1 1445.3,757.3 1446,757.4 1446.8,757.5 1447.5,757.5 1448.3,757.5 1449,757.4 1449.8,757.2 1450.5,757 1451.3,756.8 1452.1,756.4 1452.8,756.1 1453.6,755.6 1454.3,755.2 1455.1,754.7 1455.8,754.1 1456.6,753.5 1457.3,752.8 1458.1,752.1 1458.8,751.4 1459.6,750.7 1460.3,749.9 1461.1,749 1461.8,748.2 1462.6,747.3 1463.3,746.3 1464.1,745.3 1464.8,744.2 1465.6,743.1 1466.3,742 1467.1,740.7 1467.8,739.5 1468.6,738.1 1469.3,736.7 1470.1,735.2 1470.8,733.7 1471.6,732.1 1472.3,730.3 1473.1,728.5 1473.8,726.5 1474.6,724.5 1475.4,722.3 1476.1,720 1476.9,717.7 1477.6,715.3 1478.4,712.9 1479.1,710.3 1479.9,707.6 1480.6,704.8 1481.4,701.8 1482.1,698.8 1482.9,695.8 1483.6,692.9 1484.4,690.2 1485.1,687.4 1485.9,684.4 1486.6,680.8 1487.4,676.5 1488.1,671.7 1488.9,667.1 1489.6,663.1 1490.4,659.8 1491.1,656.9 1491.9,654.2 1492.6,651.5 1493.4,648.6 1494.1,645.7 1494.9,642.8 1495.6,639.9 1496.4,637.2 1497.1,634.6 1497.9,632.1 1498.7,629.6 1499.4,627 1500.2,624.5 1500.9,621.9 1501.7,619.4 1502.4,616.8 1503.2,614.2 1503.9,611.7 1504.7,609.3 1505.4,606.9 1506.2,604.7 1506.9,602.5 1507.7,600.5 1508.4,598.5 1509.2,596.6 1509.9,594.7 1510.7,593 1511.4,591.3 1512.2,589.6 1512.9,588 1513.7,586.5 1514.4,585 1515.2,583.5 1515.9,582.1 1516.7,580.7 1517.4,579.4 1518.2,578.1 1518.9,576.8 1519.7,575.5 1520.5,574.3 1521.2,573.1 1522,571.9 1522.7,570.8 1523.5,569.7 1524.2,568.7 1525,567.7 1525.7,566.8 1526.5,566 1527.2,565.2 1528,564.4 1528.7,563.7 1529.5,563.1 1530.2,562.5 1531,562 1531.7,561.5 1532.5,561.1 1533.2,560.7 1534,560.4 1534.7,560.2 1535.5,560 1536.2,559.8 1537,559.7 1537.7,559.7 1538.5,559.7 1539.2,559.8 1540,559.9 1540.7,560.1 1541.5,560.3 1542.2,560.6 1543,560.9 1543.8,561.3 1544.5,561.8 1545.3,562.3 1546,562.8 1546.8,563.4 1547.5,564.1 1548.3,564.8 1549,565.6 1549.8,566.5 1550.5,567.4 1551.3,568.3 1552,569.3 1552.8,570.4 1553.5,571.4 1554.3,572.6 1555,573.8 1555.8,575 1556.5,576.3 1557.3,577.5 1558,578.9 1558.8,580.2 1559.5,581.6 1560.3,583 1561,584.4 1561.8,585.9 1562.5,587.4 1563.3,589 1564,590.6 1564.8,592.3 1565.5,594 1566.3,595.8 1567.1,597.7 1567.8,599.7 1568.6,601.7 1569.3,603.8 1570.1,606 1570.8,608.3 1571.6,610.8 1572.3,613.2 1573.1,615.8 1573.8,618.3 1574.6,620.9 1575.3,623.5 1576.1,626 1576.8,628.5 1577.6,631.1 1578.3,633.6 1579.1,636.2 1579.8,638.8 1580.6,641.6 1581.3,644.5 1582.1,647.5 1582.8,650.3 1583.6,653.1 1584.3,655.8 1585.1,658.6 1585.8,661.7 1586.6,665.4 1587.3,669.8 1588.1,674.6 1588.9,679.1 1589.6,683 1590.4,686.3 1591.1,689.1 1591.9,691.8 1592.6,694.6 1593.4,697.6 1594.1,700.6 1594.9,703.6 1595.6,706.5 1596.4,709.3 1597.1,711.9 1597.9,714.3 1598.6,716.8 1599.4,719.1 1600.1,721.4 1600.9,723.6 1601.6,725.7 1602.4,727.7 1603.1,729.6 1603.9,731.4 1604.6,733.1 1605.4,734.6 1606.1,736.1 1606.9,737.6 1607.6,738.9 1608.4,740.2 1609.1,741.5 1609.9,742.7 1610.6,743.8 1611.4,744.9 1612.2,745.9 1612.9,746.9 1613.7,747.8 1614.4,748.7 1615.2,749.5 1615.9,750.3 1616.7,751.1 1617.4,751.9 1618.2,752.6 1618.9,753.2 1619.7,753.9 1620.4,754.4 1621.2,755 1621.9,755.5 1622.7,755.9 1623.4,756.3 1624.2,756.6 1624.9,756.9 1625.7,757.2 1626.4,757.3 1627.2,757.5 1627.9,757.5 1628.7,757.5 1629.4,757.5 1630.2,757.3 1630.9,757.2 1631.7,756.9" fill="none" stroke="#800080" stroke-width="2.4" stroke-linejoin="round" />
</g>
<line x1="1087" y1="503.5" x2="1087" y2="828.3" stroke="#000" stroke-width="2.2" />
<line x1="1086" y1="827.3" x2="1629.5" y2="827.3" stroke="#000" stroke-width="2.2" />
<line x1="1079.2" y1="536.8" x2="1087" y2="536.8" stroke="#000" stroke-width="2.1" />
<text x="1074.2" y="544.3" font-size="24.6" text-anchor="end" >0.2</text>
<line x1="1079.2" y1="601.3" x2="1087" y2="601.3" stroke="#000" stroke-width="2.1" />
<text x="1074.2" y="608.8" font-size="24.6" text-anchor="end" >0.1</text>
<line x1="1079.2" y1="665.8" x2="1087" y2="665.8" stroke="#000" stroke-width="2.1" />
<text x="1074.2" y="673.3" font-size="24.6" text-anchor="end" >0</text>
<line x1="1079.2" y1="730.3" x2="1087" y2="730.3" stroke="#000" stroke-width="2.1" />
<text x="1074.2" y="737.8" font-size="24.6" text-anchor="end" >−0.1</text>
<line x1="1079.2" y1="794.8" x2="1087" y2="794.8" stroke="#000" stroke-width="2.1" />
<text x="1074.2" y="802.3" font-size="24.6" text-anchor="end" >−0.2</text>
<line x1="1087.2" y1="827.3" x2="1087.2" y2="839.3" stroke="#000" stroke-width="2.2" />
<text x="1087.5" y="864.4" font-size="24.6" text-anchor="middle" >0</text>
<line x1="1177.4" y1="827.3" x2="1177.4" y2="839.3" stroke="#000" stroke-width="2.2" />
<text x="1179.2" y="864.4" font-size="24.6" text-anchor="middle" >60</text>
<line x1="1267.6" y1="827.3" x2="1267.6" y2="839.3" stroke="#000" stroke-width="2.2" />
<text x="1270.4" y="864.4" font-size="24.6" text-anchor="middle" >120</text>
<line x1="1357.8" y1="827.3" x2="1357.8" y2="839.3" stroke="#000" stroke-width="2.2" />
<text x="1360.6" y="864.4" font-size="24.6" text-anchor="middle" >180</text>
<line x1="1448" y1="827.3" x2="1448" y2="839.3" stroke="#000" stroke-width="2.2" />
<text x="1449.8" y="864.4" font-size="24.6" text-anchor="middle" >240</text>
<line x1="1538.2" y1="827.3" x2="1538.2" y2="839.3" stroke="#000" stroke-width="2.2" />
<text x="1540" y="864.4" font-size="24.6" text-anchor="middle" >300</text>
<text x="1228.8" y="900" font-size="24.6" letter-spacing="0.175" >Pump trefoil rotation</text>
<text x="1460.8" y="900" font-size="24.6" >(º)</text>
<text x="1012" y="665" font-size="24.6" text-anchor="middle" transform="rotate(-90 1012 665)" >Asymmetry, <tspan font-style="italic" font-family="'Liberation Serif', serif">α</tspan></text>
<text transform="translate(978.3 495.2) scale(1.09 0.97)" font-size="32.5" font-weight="bold" stroke="#000" stroke-width="1.1" stroke-linejoin="round">d</text>
<line x1="1190" y1="498.3" x2="1219" y2="498.3" stroke="#2a6fd6" stroke-width="2.2" stroke-dasharray="6.6 4.4"/>
<text x="1229.5" y="505.8" font-size="24.6" letter-spacing="0.068" >Experiment</text>
<line x1="1387" y1="498.3" x2="1416.5" y2="498.3" stroke="#800080" stroke-width="2.2" />
<text x="1426.3" y="505.8" font-size="24.6" >Theory</text>
</g>
<g id="panel-d-fft">
<g clip-path="url(#ce)">
<polygon points="1754.2,762.7 1754.2,745.2 1755.1,746.4 1755.9,747.6 1756.7,748.6 1757.6,749.5 1758.4,750.2 1759.2,750.7 1760.1,751 1760.9,751.1 1761.7,751.1 1762.6,751 1763.4,750.9 1764.2,750.6 1765.1,750.2 1765.9,749.7 1766.7,749 1767.6,748.1 1768.4,747.2 1769.2,746.1 1770.1,744.9 1770.9,743.8 1771.7,742.6 1772.6,741.4 1773.4,740.2 1774.2,738.9 1775.1,737.6 1775.9,736.4 1776.7,735.2 1777.6,734.1 1778.4,733.1 1779.2,732.3 1780.1,731.5 1780.9,730.9 1781.7,730.4 1782.6,730 1783.4,729.8 1784.2,729.8 1785.1,730.2 1785.9,730.8 1786.7,731.8 1787.6,733.1 1788.4,734.6 1789.2,736.4 1790.1,738.6 1790.9,740.9 1791.7,742.7 1792.6,743.6 1793.4,743 1794.2,740.2 1795.1,736 1795.9,731.1 1796.7,726.1 1797.6,720.7 1798.4,715 1799.2,708.8 1800.1,702.4 1800.9,695.7 1801.7,688.8 1802.6,681.6 1803.4,674.4 1804.2,667 1805.1,659.5 1805.9,651.7 1806.7,643.7 1807.6,635.7 1808.4,628.1 1809.2,621.1 1810.1,614.4 1810.9,608.1 1811.7,602.4 1812.6,597.2 1813.4,592.4 1814.2,588 1815.1,584.1 1815.9,581.1 1816.7,578.8 1817.6,577 1818.4,575.7 1819.2,575.1 1820.1,575.1 1820.9,575.7 1821.7,577 1822.6,578.8 1823.4,581.3 1824.2,584.9 1825,589.6 1825.9,595 1826.7,600.8 1827.5,607.4 1828.4,614.6 1829.2,622.3 1830,630.3 1830.9,638.8 1831.7,647.4 1832.5,655.7 1833.4,663.4 1834.2,670.4 1835,677 1835.9,683.4 1836.7,690.1 1837.5,697.3 1838.4,705.1 1839.2,714.2 1840,724.6 1840.9,734.9 1841.7,743.8 1842.5,751.7 1843.4,756.9 1844.2,757.6 1845,755.6 1845.9,752.5 1846.7,748.4 1847.5,744.1 1848.4,740.3 1849.2,737.7 1850,735.9 1850.9,734.5 1851.7,733.7 1852.5,733.2 1853.4,732.9 1854.2,732.7 1855,732.9 1855.9,733.4 1856.7,734.2 1857.5,735.3 1858.4,736.7 1859.2,738.4 1860,740.2 1860.9,742 1861.7,743.6 1862.5,745.2 1863.4,746.6 1864.2,747.8 1865,748.5 1865.9,748.9 1866.7,749 1867.5,749 1868.4,748.6 1869.2,747.9 1870,747.1 1870.9,746.3 1871.7,745.7 1872.5,745.1 1873.4,744.6 1874.2,744.2 1875,744 1875.9,743.9 1876.7,744 1877.5,744 1878.4,744.2 1879.2,744.3 1880,744.5 1880.9,744.7 1881.7,745 1882.5,745.2 1883.4,745.3 1884.2,745.2 1885,744.9 1885.9,744.5 1886.7,744 1887.5,743.5 1888.4,743 1889.2,742.5 1890,742.2 1890.9,741.8 1891.7,741.6 1892.5,741.5 1893.3,741.6 1894.2,741.9 1895,742.4 1895.8,743.1 1896.7,744 1897.5,745.1 1898.3,746.4 1899.2,747.7 1900,749 1900.8,750.3 1901.7,751.6 1902.5,752.6 1903.3,753.2 1904.2,753.1 1905,752.2 1905.8,750.6 1906.7,748.7 1907.5,746.5 1908.3,744 1909.2,741.2 1910,738.2 1910.8,735.3 1911.7,732.7 1912.5,730.2 1913.3,727.9 1914.2,725.8 1915,724 1915.8,722.4 1916.7,721 1917.5,719.8 1918.3,718.9 1919.2,718.2 1920,717.6 1920.8,717.2 1921.7,717 1922.5,717.1 1923.3,717.4 1924.2,718 1925,718.8 1925.8,719.8 1926.7,720.8 1927.5,722.1 1928.3,723.5 1929.2,725 1930,726.5 1930.8,728 1931.7,729.5 1932.5,731 1933.3,732.2 1934.2,733.2 1935,734 1935.8,734.5 1936.7,734.4 1937.5,733.5 1938.3,731.9 1939.2,729.9 1940,727.5 1940.8,724.3 1941.7,720.5 1942.5,716.5 1943.3,712.3 1944.2,707.7 1945,703.1 1945.8,698.7 1946.7,694.5 1947.5,690.6 1948.3,686.8 1949.2,683.2 1950,679.7 1950.8,676.4 1951.7,673.2 1952.5,670 1953.3,667 1954.2,664 1955,661.2 1955.8,658.7 1956.7,656.5 1957.5,654.4 1958.3,652.6 1959.2,651.2 1960,650 1960.8,649.2 1961.7,648.5 1962.5,648.1 1963.3,648 1964.1,648.3 1965,648.8 1965.8,649.5 1966.6,650.5 1967.5,651.8 1968.3,653.5 1969.1,655.4 1970,657.4 1970.8,659.7 1971.6,662.1 1972.5,664.6 1973.3,667.2 1974.1,669.9 1975,672.4 1975.8,674.9 1976.6,677.3 1977.5,679.7 1978.3,682.1 1979.1,684.5 1980,686.8 1980.8,689.3 1981.6,691.7 1982.5,694.3 1983.3,697 1984.1,699.7 1985,702.7 1985.8,705.7 1986.6,709 1987.5,712.3 1988.3,715.8 1989.1,719.2 1990,722.6 1990.8,726 1991.6,729.4 1992.5,732.9 1993.3,736.5 1994.1,740.1 1995,743.9 1995.8,747.9 1996.6,752.2 1997.5,756.1 1998.3,759.2 1999.1,760.9 2000,760.6 2000.8,758.3 2001.6,755 2002.5,751.6 2003.3,748.5 2004.1,745.4 2005,742.5 2005.8,740.1 2006.6,738.2 2007.5,736.6 2008.3,735.3 2009.1,734.3 2010,733.5 2010.8,733 2011.6,732.5 2012.5,732.3 2013.3,732.3 2014.1,732.7 2015,733.5 2015.8,734.6 2016.6,735.9 2017.5,737.5 2018.3,739.5 2019.1,741.7 2020,743.9 2020.8,746.1 2021.6,748.4 2022.5,750.7 2023.3,752.9 2024.1,754.9 2025,756.8 2025.8,758 2026.6,758.1 2027.5,756.9 2028.3,754.7 2029.1,752 2030,749.2 2030.8,746.3 2031.6,743.3 2032.4,740.3 2033.3,737.2 2034.1,734.3 2034.9,731.7 2035.8,729.2 2036.6,726.8 2037.4,724.5 2038.3,722.5 2039.1,720.6 2039.9,719.1 2040.8,717.8 2041.6,716.6 2042.4,715.6 2043.3,714.8 2044.1,714.1 2044.9,713.5 2045.8,713.1 2046.6,712.7 2047.4,712.4 2048.3,712.3 2049.1,712.3 2049.9,712.5 2050.8,712.9 2051.6,713.5 2052.4,714.1 2053.3,714.8 2054.1,715.6 2054.9,716.4 2055.8,717.2 2056.6,718.1 2057.4,719 2058.3,719.9 2059.1,720.7 2059.9,721.4 2060.8,722.1 2061.6,722.7 2062.4,723.3 2063.3,723.8 2064.1,724.2 2064.9,724.7 2065.8,725 2066.6,725.4 2067.4,725.7 2068.3,726 2069.1,726.2 2069.9,726.5 2070.8,726.7 2071.6,727 2072.4,727.2 2073.3,727.5 2074.1,727.8 2074.9,728.2 2075.8,728.5 2076.6,729 2077.4,729.4 2078.3,729.9 2079.1,730.5 2079.9,731.2 2080.8,731.9 2081.6,732.8 2082.4,733.6 2083.3,734.5 2084.1,735.5 2084.9,736.4 2085.8,737.4 2086.6,738.3 2087.4,739.3 2088.3,740.4 2089.1,741.4 2089.9,742.4 2090.8,743.4 2091.6,744.4 2092.4,745.4 2093.3,746.5 2094.1,747.5 2094.9,748.4 2095.8,749.1 2096.6,749.7 2097.4,750.2 2098.3,750.7 2099.1,751 2099.9,751.3 2100.8,751.5 2100.8,762.7" fill="#008080" fill-opacity="0.2" />
<rect x="1792.5" y="556.3" width="51.8" height="206.4" fill="#ff0000" fill-opacity="0.2"/>
<polyline points="1754.2,745.2 1755.1,746.4 1755.9,747.6 1756.7,748.6 1757.6,749.5 1758.4,750.2 1759.2,750.7 1760.1,751 1760.9,751.1 1761.7,751.1 1762.6,751 1763.4,750.9 1764.2,750.6 1765.1,750.2 1765.9,749.7 1766.7,749 1767.6,748.1 1768.4,747.2 1769.2,746.1 1770.1,744.9 1770.9,743.8 1771.7,742.6 1772.6,741.4 1773.4,740.2 1774.2,738.9 1775.1,737.6 1775.9,736.4 1776.7,735.2 1777.6,734.1 1778.4,733.1 1779.2,732.3 1780.1,731.5 1780.9,730.9 1781.7,730.4 1782.6,730 1783.4,729.8 1784.2,729.8 1785.1,730.2 1785.9,730.8 1786.7,731.8 1787.6,733.1 1788.4,734.6 1789.2,736.4 1790.1,738.6 1790.9,740.9 1791.7,742.7 1792.6,743.6 1793.4,743 1794.2,740.2 1795.1,736 1795.9,731.1 1796.7,726.1 1797.6,720.7 1798.4,715 1799.2,708.8 1800.1,702.4 1800.9,695.7 1801.7,688.8 1802.6,681.6 1803.4,674.4 1804.2,667 1805.1,659.5 1805.9,651.7 1806.7,643.7 1807.6,635.7 1808.4,628.1 1809.2,621.1 1810.1,614.4 1810.9,608.1 1811.7,602.4 1812.6,597.2 1813.4,592.4 1814.2,588 1815.1,584.1 1815.9,581.1 1816.7,578.8 1817.6,577 1818.4,575.7 1819.2,575.1 1820.1,575.1 1820.9,575.7 1821.7,577 1822.6,578.8 1823.4,581.3 1824.2,584.9 1825,589.6 1825.9,595 1826.7,600.8 1827.5,607.4 1828.4,614.6 1829.2,622.3 1830,630.3 1830.9,638.8 1831.7,647.4 1832.5,655.7 1833.4,663.4 1834.2,670.4 1835,677 1835.9,683.4 1836.7,690.1 1837.5,697.3 1838.4,705.1 1839.2,714.2 1840,724.6 1840.9,734.9 1841.7,743.8 1842.5,751.7 1843.4,756.9 1844.2,757.6 1845,755.6 1845.9,752.5 1846.7,748.4 1847.5,744.1 1848.4,740.3 1849.2,737.7 1850,735.9 1850.9,734.5 1851.7,733.7 1852.5,733.2 1853.4,732.9 1854.2,732.7 1855,732.9 1855.9,733.4 1856.7,734.2 1857.5,735.3 1858.4,736.7 1859.2,738.4 1860,740.2 1860.9,742 1861.7,743.6 1862.5,745.2 1863.4,746.6 1864.2,747.8 1865,748.5 1865.9,748.9 1866.7,749 1867.5,749 1868.4,748.6 1869.2,747.9 1870,747.1 1870.9,746.3 1871.7,745.7 1872.5,745.1 1873.4,744.6 1874.2,744.2 1875,744 1875.9,743.9 1876.7,744 1877.5,744 1878.4,744.2 1879.2,744.3 1880,744.5 1880.9,744.7 1881.7,745 1882.5,745.2 1883.4,745.3 1884.2,745.2 1885,744.9 1885.9,744.5 1886.7,744 1887.5,743.5 1888.4,743 1889.2,742.5 1890,742.2 1890.9,741.8 1891.7,741.6 1892.5,741.5 1893.3,741.6 1894.2,741.9 1895,742.4 1895.8,743.1 1896.7,744 1897.5,745.1 1898.3,746.4 1899.2,747.7 1900,749 1900.8,750.3 1901.7,751.6 1902.5,752.6 1903.3,753.2 1904.2,753.1 1905,752.2 1905.8,750.6 1906.7,748.7 1907.5,746.5 1908.3,744 1909.2,741.2 1910,738.2 1910.8,735.3 1911.7,732.7 1912.5,730.2 1913.3,727.9 1914.2,725.8 1915,724 1915.8,722.4 1916.7,721 1917.5,719.8 1918.3,718.9 1919.2,718.2 1920,717.6 1920.8,717.2 1921.7,717 1922.5,717.1 1923.3,717.4 1924.2,718 1925,718.8 1925.8,719.8 1926.7,720.8 1927.5,722.1 1928.3,723.5 1929.2,725 1930,726.5 1930.8,728 1931.7,729.5 1932.5,731 1933.3,732.2 1934.2,733.2 1935,734 1935.8,734.5 1936.7,734.4 1937.5,733.5 1938.3,731.9 1939.2,729.9 1940,727.5 1940.8,724.3 1941.7,720.5 1942.5,716.5 1943.3,712.3 1944.2,707.7 1945,703.1 1945.8,698.7 1946.7,694.5 1947.5,690.6 1948.3,686.8 1949.2,683.2 1950,679.7 1950.8,676.4 1951.7,673.2 1952.5,670 1953.3,667 1954.2,664 1955,661.2 1955.8,658.7 1956.7,656.5 1957.5,654.4 1958.3,652.6 1959.2,651.2 1960,650 1960.8,649.2 1961.7,648.5 1962.5,648.1 1963.3,648 1964.1,648.3 1965,648.8 1965.8,649.5 1966.6,650.5 1967.5,651.8 1968.3,653.5 1969.1,655.4 1970,657.4 1970.8,659.7 1971.6,662.1 1972.5,664.6 1973.3,667.2 1974.1,669.9 1975,672.4 1975.8,674.9 1976.6,677.3 1977.5,679.7 1978.3,682.1 1979.1,684.5 1980,686.8 1980.8,689.3 1981.6,691.7 1982.5,694.3 1983.3,697 1984.1,699.7 1985,702.7 1985.8,705.7 1986.6,709 1987.5,712.3 1988.3,715.8 1989.1,719.2 1990,722.6 1990.8,726 1991.6,729.4 1992.5,732.9 1993.3,736.5 1994.1,740.1 1995,743.9 1995.8,747.9 1996.6,752.2 1997.5,756.1 1998.3,759.2 1999.1,760.9 2000,760.6 2000.8,758.3 2001.6,755 2002.5,751.6 2003.3,748.5 2004.1,745.4 2005,742.5 2005.8,740.1 2006.6,738.2 2007.5,736.6 2008.3,735.3 2009.1,734.3 2010,733.5 2010.8,733 2011.6,732.5 2012.5,732.3 2013.3,732.3 2014.1,732.7 2015,733.5 2015.8,734.6 2016.6,735.9 2017.5,737.5 2018.3,739.5 2019.1,741.7 2020,743.9 2020.8,746.1 2021.6,748.4 2022.5,750.7 2023.3,752.9 2024.1,754.9 2025,756.8 2025.8,758 2026.6,758.1 2027.5,756.9 2028.3,754.7 2029.1,752 2030,749.2 2030.8,746.3 2031.6,743.3 2032.4,740.3 2033.3,737.2 2034.1,734.3 2034.9,731.7 2035.8,729.2 2036.6,726.8 2037.4,724.5 2038.3,722.5 2039.1,720.6 2039.9,719.1 2040.8,717.8 2041.6,716.6 2042.4,715.6 2043.3,714.8 2044.1,714.1 2044.9,713.5 2045.8,713.1 2046.6,712.7 2047.4,712.4 2048.3,712.3 2049.1,712.3 2049.9,712.5 2050.8,712.9 2051.6,713.5 2052.4,714.1 2053.3,714.8 2054.1,715.6 2054.9,716.4 2055.8,717.2 2056.6,718.1 2057.4,719 2058.3,719.9 2059.1,720.7 2059.9,721.4 2060.8,722.1 2061.6,722.7 2062.4,723.3 2063.3,723.8 2064.1,724.2 2064.9,724.7 2065.8,725 2066.6,725.4 2067.4,725.7 2068.3,726 2069.1,726.2 2069.9,726.5 2070.8,726.7 2071.6,727 2072.4,727.2 2073.3,727.5 2074.1,727.8 2074.9,728.2 2075.8,728.5 2076.6,729 2077.4,729.4 2078.3,729.9 2079.1,730.5 2079.9,731.2 2080.8,731.9 2081.6,732.8 2082.4,733.6 2083.3,734.5 2084.1,735.5 2084.9,736.4 2085.8,737.4 2086.6,738.3 2087.4,739.3 2088.3,740.4 2089.1,741.4 2089.9,742.4 2090.8,743.4 2091.6,744.4 2092.4,745.4 2093.3,746.5 2094.1,747.5 2094.9,748.4 2095.8,749.1 2096.6,749.7 2097.4,750.2 2098.3,750.7 2099.1,751 2099.9,751.3 2100.8,751.5" fill="none" stroke="#008080" stroke-width="2" stroke-linejoin="round" />
</g>
<line x1="1754.3" y1="555.5" x2="1754.3" y2="763.7" stroke="#000" stroke-width="2.5" />
<line x1="1753.3" y1="762.7" x2="2101.5" y2="762.7" stroke="#000" stroke-width="2.5" />
<line x1="1747.3" y1="762.7" x2="1754.3" y2="762.7" stroke="#000" stroke-width="2.5" />
<text x="1737" y="772.2" font-size="24.6" text-anchor="end" >0</text>
<line x1="1747.3" y1="669.1" x2="1754.3" y2="669.1" stroke="#000" stroke-width="2.5" />
<text x="1737" y="676.6" font-size="24.6" text-anchor="end" >0.5</text>
<line x1="1747.3" y1="575.4" x2="1754.3" y2="575.4" stroke="#000" stroke-width="2.5" />
<text x="1737" y="582.9" font-size="24.6" text-anchor="end" >1.0</text>
<line x1="1754.3" y1="762.7" x2="1754.3" y2="770.2" stroke="#000" stroke-width="2.5" />
<text x="1754.3" y="798.5" font-size="24.6" text-anchor="middle" >0.5</text>
<line x1="1823.6" y1="762.7" x2="1823.6" y2="770.2" stroke="#000" stroke-width="2.5" />
<text x="1825.6" y="798.5" font-size="24.6" text-anchor="middle" >1.0</text>
<line x1="1892.9" y1="762.7" x2="1892.9" y2="770.2" stroke="#000" stroke-width="2.5" />
<text x="1894.9" y="798.5" font-size="24.6" text-anchor="middle" >1.5</text>
<line x1="1962.2" y1="762.7" x2="1962.2" y2="770.2" stroke="#000" stroke-width="2.5" />
<text x="1962.2" y="798.5" font-size="24.6" text-anchor="middle" >2.0</text>
<line x1="2031.5" y1="762.7" x2="2031.5" y2="770.2" stroke="#000" stroke-width="2.5" />
<text x="2031.5" y="798.5" font-size="24.6" text-anchor="middle" >2.5</text>
<line x1="2100.8" y1="762.7" x2="2100.8" y2="770.2" stroke="#000" stroke-width="2.5" />
<text x="2100.8" y="798.5" font-size="24.6" text-anchor="middle" >3.0</text>
<text x="1764.3" y="839.3" font-size="24.6" letter-spacing="0.196" >Rotation period (deg<tspan font-size="17" dy="-9.5">−1</tspan><tspan dy="9.5"> × 120)</tspan></text>
<text x="1682" y="665" font-size="24.6" text-anchor="middle" transform="rotate(-90 1682 665)" >FFT amp. (norm.)</text>
<line x1="1938.3" y1="570" x2="1960" y2="570" stroke="#008080" stroke-width="2.2" />
<text x="1972.5" y="577.6" font-size="24.6" letter-spacing="0.254" >Asymmetry</text>
</g>
</svg>
</body></html>
